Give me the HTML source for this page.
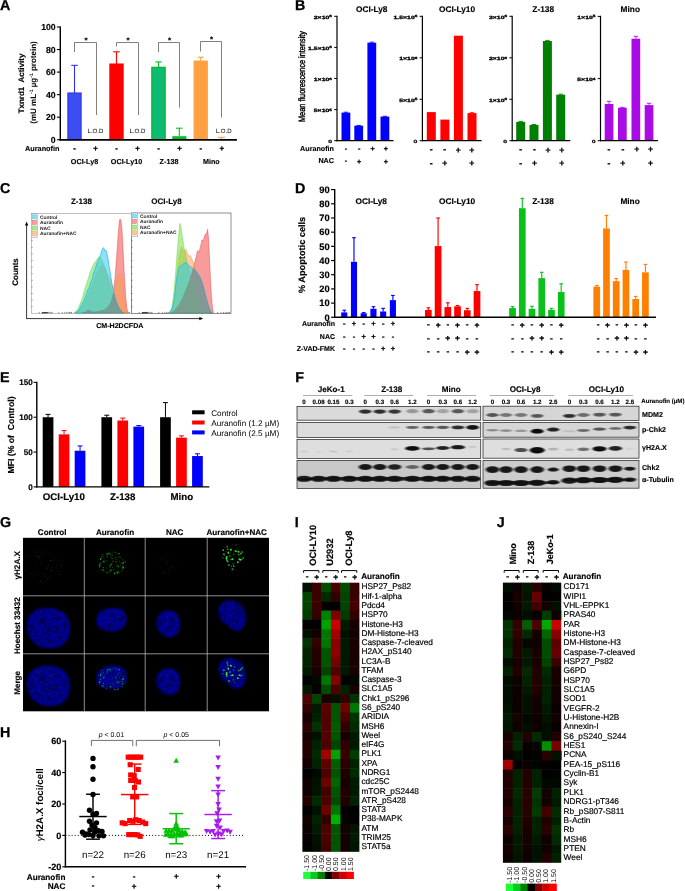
<!DOCTYPE html>
<html><head><meta charset="utf-8"><title>Figure</title>
<style>
html,body{margin:0;padding:0;background:#fff;}
body{width:685px;height:891px;overflow:hidden;}
svg{display:block;font-family:"Liberation Sans",sans-serif;text-rendering:geometricPrecision;}
</style></head><body>
<svg width="685" height="891" viewBox="0 0 685 891">
<defs>
<filter id="b1" x="-50%" y="-100%" width="200%" height="300%"><feGaussianBlur stdDeviation="1.1 0.7"/></filter>
<filter id="b2" x="-50%" y="-100%" width="200%" height="300%"><feGaussianBlur stdDeviation="0.8"/></filter>
<filter id="b3" x="-20%" y="-20%" width="140%" height="140%"><feGaussianBlur stdDeviation="1.6"/></filter>
<filter id="b4" x="-50%" y="-50%" width="200%" height="200%"><feGaussianBlur stdDeviation="0.35"/></filter>
<filter id="b5" x="-20%" y="-20%" width="140%" height="140%"><feGaussianBlur stdDeviation="1.2"/></filter>
<filter id="b6" x="-20%" y="-20%" width="140%" height="140%"><feGaussianBlur stdDeviation="0.6"/></filter>
</defs>
<rect width="685" height="891" fill="#fff"/>
<g id="panelA">
<text x="0" y="9.72" font-size="14.3" font-weight="bold" stroke="#000" stroke-width="0.26">A</text>
<line x1="60.3" y1="26.4" x2="60.3" y2="140.45" stroke="#000" stroke-width="1.4"/>
<line x1="59.6" y1="139.75" x2="236.8" y2="139.75" stroke="#000" stroke-width="1.4"/>
<line x1="56.9" y1="139.75" x2="60.3" y2="139.75" stroke="#000" stroke-width="1.1"/>
<text x="55.7" y="142.86" font-size="8.7" text-anchor="end" font-weight="bold" stroke="#000" stroke-width="0.16">0</text>
<line x1="56.9" y1="117.2" x2="60.3" y2="117.2" stroke="#000" stroke-width="1.1"/>
<text x="55.7" y="120.31" font-size="8.7" text-anchor="end" font-weight="bold" stroke="#000" stroke-width="0.16">20</text>
<line x1="56.9" y1="94.65" x2="60.3" y2="94.65" stroke="#000" stroke-width="1.1"/>
<text x="55.7" y="97.76" font-size="8.7" text-anchor="end" font-weight="bold" stroke="#000" stroke-width="0.16">40</text>
<line x1="56.9" y1="72.1" x2="60.3" y2="72.1" stroke="#000" stroke-width="1.1"/>
<text x="55.7" y="75.21" font-size="8.7" text-anchor="end" font-weight="bold" stroke="#000" stroke-width="0.16">60</text>
<line x1="56.9" y1="49.55" x2="60.3" y2="49.55" stroke="#000" stroke-width="1.1"/>
<text x="55.7" y="52.66" font-size="8.7" text-anchor="end" font-weight="bold" stroke="#000" stroke-width="0.16">80</text>
<line x1="56.9" y1="27" x2="60.3" y2="27" stroke="#000" stroke-width="1.1"/>
<text x="55.7" y="30.11" font-size="8.7" text-anchor="end" font-weight="bold" stroke="#000" stroke-width="0.16">100</text>
<text transform="translate(21.2 83.5) rotate(-90)" y="2.86" font-size="8" text-anchor="middle" font-weight="bold" stroke="#000" stroke-width="0.14">Txnrd1&#160; Activity</text>
<text transform="translate(33.2 82.5) rotate(-90)" y="2.8" font-size="8.0" font-weight="bold" text-anchor="middle">(mU mL<tspan dy="-3" font-size="5">-1</tspan><tspan dy="3"> &#181;g</tspan><tspan dy="-3" font-size="5">-1</tspan><tspan dy="3"> protein)</tspan></text>
<line x1="74.5" y1="65.34" x2="74.5" y2="92.96" stroke="#3030f0" stroke-width="1.1"/>
<line x1="71.25" y1="65.34" x2="77.75" y2="65.34" stroke="#3030f0" stroke-width="1.1"/>
<rect x="67.85" y="92.96" width="13.3" height="46.79" fill="#3b4cf0" stroke="#3030f0" stroke-width="1"/>
<line x1="116.5" y1="51.81" x2="116.5" y2="63.98" stroke="#ff0000" stroke-width="1.1"/>
<line x1="113.25" y1="51.81" x2="119.75" y2="51.81" stroke="#ff0000" stroke-width="1.1"/>
<rect x="109.85" y="63.98" width="13.3" height="75.77" fill="#ff0000" stroke="#ff0000" stroke-width="1"/>
<line x1="158.5" y1="61.95" x2="158.5" y2="67.36" stroke="#00c020" stroke-width="1.1"/>
<line x1="155.25" y1="61.95" x2="161.75" y2="61.95" stroke="#00c020" stroke-width="1.1"/>
<rect x="151.85" y="67.36" width="13.3" height="72.39" fill="#0cba74" stroke="#00c020" stroke-width="1.3"/>
<line x1="200.7" y1="57.22" x2="200.7" y2="61.05" stroke="#ffa040" stroke-width="1.1"/>
<line x1="197.45" y1="57.22" x2="203.95" y2="57.22" stroke="#ffa040" stroke-width="1.1"/>
<rect x="194.05" y="61.05" width="13.3" height="78.7" fill="#ffa040" stroke="#ffa040" stroke-width="1"/>
<line x1="179.3" y1="128.2" x2="179.3" y2="136" stroke="#00c020" stroke-width="1.1"/>
<line x1="176.05" y1="128.2" x2="182.55" y2="128.2" stroke="#00c020" stroke-width="1.1"/>
<rect x="172.3" y="136.2" width="14.1" height="3.5" fill="#00c020"/>
<line x1="218" y1="137.3" x2="225" y2="137.3" stroke="#ffa040" stroke-width="1.1"/>
<rect x="220.8" y="137.3" width="1.2" height="2" fill="#ffa040"/>
<line x1="59.6" y1="139.75" x2="236.8" y2="139.75" stroke="#000" stroke-width="1.4"/>
<path d="M74.5 52 V42.5 H96.5 V115" stroke="#606060" stroke-width="0.8" fill="none"/>
<text x="86" y="43.16" font-size="8" text-anchor="middle" font-weight="bold" stroke="#000" stroke-width="0.14">*</text>
<path d="M116.5 46.5 V42.5 H138.5 V115" stroke="#606060" stroke-width="0.8" fill="none"/>
<text x="128" y="43.16" font-size="8" text-anchor="middle" font-weight="bold" stroke="#000" stroke-width="0.14">*</text>
<path d="M158.5 52 V42.5 H179.5 V107.6" stroke="#606060" stroke-width="0.8" fill="none"/>
<text x="169.5" y="43.16" font-size="8" text-anchor="middle" font-weight="bold" stroke="#000" stroke-width="0.14">*</text>
<path d="M200.5 51.5 V41.5 H221.5 V117.6" stroke="#606060" stroke-width="0.8" fill="none"/>
<text x="211.5" y="42.16" font-size="8" text-anchor="middle" font-weight="bold" stroke="#000" stroke-width="0.14">*</text>
<text x="95.5" y="132.88" font-size="6.1" text-anchor="middle">L.O.D</text>
<text x="137.5" y="132.88" font-size="6.1" text-anchor="middle">L.O.D</text>
<text x="223.6" y="132.88" font-size="6.1" text-anchor="middle">L.O.D</text>
<text x="59.5" y="151.11" font-size="7.3" text-anchor="end" font-weight="bold" stroke="#000" stroke-width="0.13">Auranofin</text>
<text x="74.5" y="150.74" font-size="7.8" text-anchor="middle" font-weight="bold" stroke="#000" stroke-width="0.3">-</text>
<text x="95.5" y="151.09" font-size="7.8" text-anchor="middle" font-weight="bold" stroke="#000" stroke-width="0.3">+</text>
<text x="116.5" y="150.74" font-size="7.8" text-anchor="middle" font-weight="bold" stroke="#000" stroke-width="0.3">-</text>
<text x="137.5" y="151.09" font-size="7.8" text-anchor="middle" font-weight="bold" stroke="#000" stroke-width="0.3">+</text>
<text x="158.5" y="150.74" font-size="7.8" text-anchor="middle" font-weight="bold" stroke="#000" stroke-width="0.3">-</text>
<text x="179.5" y="151.09" font-size="7.8" text-anchor="middle" font-weight="bold" stroke="#000" stroke-width="0.3">+</text>
<text x="200.7" y="150.74" font-size="7.8" text-anchor="middle" font-weight="bold" stroke="#000" stroke-width="0.3">-</text>
<text x="221.7" y="151.09" font-size="7.8" text-anchor="middle" font-weight="bold" stroke="#000" stroke-width="0.3">+</text>
<text x="84.5" y="163.58" font-size="7.2" text-anchor="middle" font-weight="bold" stroke="#000" stroke-width="0.13">OCI-Ly8</text>
<text x="126.5" y="163.58" font-size="7.2" text-anchor="middle" font-weight="bold" stroke="#000" stroke-width="0.13">OCI-Ly10</text>
<text x="169" y="163.58" font-size="7.2" text-anchor="middle" font-weight="bold" stroke="#000" stroke-width="0.13">Z-138</text>
<text x="211.3" y="163.58" font-size="7.2" text-anchor="middle" font-weight="bold" stroke="#000" stroke-width="0.13">Mino</text>
</g>
<g id="panelB">
<text x="295.1" y="9.72" font-size="14.3" font-weight="bold" stroke="#000" stroke-width="0.26">B</text>
<text transform="translate(302.2 76.5) rotate(-90)" y="2.7" font-size="9.2" text-anchor="middle" textLength="91" lengthAdjust="spacingAndGlyphs" stroke="#000" stroke-width="0.4">Mean fluorescence intensity</text>
<line x1="345.9" y1="112.2" x2="345.9" y2="112.6" stroke="#0000ff" stroke-width="0.9"/>
<line x1="343.7" y1="112.2" x2="348.1" y2="112.2" stroke="#0000ff" stroke-width="0.9"/>
<rect x="341.5" y="112.6" width="8.8" height="28.1" fill="#0000ff"/>
<line x1="358.7" y1="125.4" x2="358.7" y2="125.7" stroke="#0000ff" stroke-width="0.9"/>
<line x1="356.5" y1="125.4" x2="360.9" y2="125.4" stroke="#0000ff" stroke-width="0.9"/>
<rect x="354.3" y="125.7" width="8.8" height="15" fill="#0000ff"/>
<line x1="371.8" y1="42.2" x2="371.8" y2="42.7" stroke="#0000ff" stroke-width="0.9"/>
<line x1="369.6" y1="42.2" x2="374" y2="42.2" stroke="#0000ff" stroke-width="0.9"/>
<rect x="367.4" y="42.7" width="8.8" height="98" fill="#0000ff"/>
<line x1="384.9" y1="116.3" x2="384.9" y2="116.6" stroke="#0000ff" stroke-width="0.9"/>
<line x1="382.7" y1="116.3" x2="387.1" y2="116.3" stroke="#0000ff" stroke-width="0.9"/>
<rect x="380.5" y="116.6" width="8.8" height="24.1" fill="#0000ff"/>
<line x1="337" y1="15.8" x2="337" y2="141.3" stroke="#000" stroke-width="1.2"/>
<line x1="336.4" y1="140.7" x2="393.5" y2="140.7" stroke="#000" stroke-width="1.2"/>
<line x1="334.2" y1="16.3" x2="337" y2="16.3" stroke="#000" stroke-width="1"/>
<text transform="translate(332 18.65) scale(1.5 1)" font-size="4.6" font-weight="bold" text-anchor="end" stroke="#000" stroke-width="0.3">2&#215;10<tspan dy="-1.3" font-size="3.2">6</tspan></text>
<line x1="334.2" y1="47.4" x2="337" y2="47.4" stroke="#000" stroke-width="1"/>
<text transform="translate(332 49.75) scale(1.5 1)" font-size="4.6" font-weight="bold" text-anchor="end" stroke="#000" stroke-width="0.3">1.5&#215;10<tspan dy="-1.3" font-size="3.2">6</tspan></text>
<line x1="334.2" y1="78.5" x2="337" y2="78.5" stroke="#000" stroke-width="1"/>
<text transform="translate(332 80.85) scale(1.5 1)" font-size="4.6" font-weight="bold" text-anchor="end" stroke="#000" stroke-width="0.3">1&#215;10<tspan dy="-1.3" font-size="3.2">6</tspan></text>
<line x1="334.2" y1="109.6" x2="337" y2="109.6" stroke="#000" stroke-width="1"/>
<text transform="translate(332 111.95) scale(1.5 1)" font-size="4.6" font-weight="bold" text-anchor="end" stroke="#000" stroke-width="0.3">5&#215;10<tspan dy="-1.3" font-size="3.2">5</tspan></text>
<line x1="334.2" y1="140.7" x2="337" y2="140.7" stroke="#000" stroke-width="1"/>
<text transform="translate(332 143) scale(1.5 1)" font-size="4.6" font-weight="bold" text-anchor="end" stroke="#000" stroke-width="0.2">0</text>
<text x="371.7" y="11.97" font-size="8.3" text-anchor="middle" font-weight="bold" stroke="#000" stroke-width="0.15">OCI-Ly8</text>
<text x="345.9" y="150.73" font-size="7.2" text-anchor="middle" font-weight="bold" stroke="#000" stroke-width="0.3">-</text>
<text x="359.2" y="150.73" font-size="7.2" text-anchor="middle" font-weight="bold" stroke="#000" stroke-width="0.3">-</text>
<text x="372.5" y="151.18" font-size="7.2" text-anchor="middle" font-weight="bold" stroke="#000" stroke-width="0.3">+</text>
<text x="385.8" y="151.18" font-size="7.2" text-anchor="middle" font-weight="bold" stroke="#000" stroke-width="0.3">+</text>
<text x="345.9" y="163.13" font-size="7.2" text-anchor="middle" font-weight="bold" stroke="#000" stroke-width="0.3">-</text>
<text x="359.2" y="163.58" font-size="7.2" text-anchor="middle" font-weight="bold" stroke="#000" stroke-width="0.3">+</text>
<text x="385.8" y="163.58" font-size="7.2" text-anchor="middle" font-weight="bold" stroke="#000" stroke-width="0.3">+</text>
<rect x="426.8" y="112.1" width="9" height="28.6" fill="#ff0000"/>
<rect x="440.4" y="119.6" width="9" height="21.1" fill="#ff0000"/>
<rect x="453.9" y="35.7" width="9" height="105" fill="#ff0000"/>
<line x1="472" y1="112.7" x2="472" y2="113.1" stroke="#ff0000" stroke-width="0.9"/>
<line x1="469.8" y1="112.7" x2="474.2" y2="112.7" stroke="#ff0000" stroke-width="0.9"/>
<rect x="467.5" y="113.1" width="9" height="27.6" fill="#ff0000"/>
<line x1="422.4" y1="15.8" x2="422.4" y2="141.3" stroke="#000" stroke-width="1.2"/>
<line x1="421.8" y1="140.7" x2="481.6" y2="140.7" stroke="#000" stroke-width="1.2"/>
<line x1="419.6" y1="16.3" x2="422.4" y2="16.3" stroke="#000" stroke-width="1"/>
<text transform="translate(417.4 18.65) scale(1.5 1)" font-size="4.6" font-weight="bold" text-anchor="end" stroke="#000" stroke-width="0.3">1.5&#215;10<tspan dy="-1.3" font-size="3.2">6</tspan></text>
<line x1="419.6" y1="57.8" x2="422.4" y2="57.8" stroke="#000" stroke-width="1"/>
<text transform="translate(417.4 60.15) scale(1.5 1)" font-size="4.6" font-weight="bold" text-anchor="end" stroke="#000" stroke-width="0.3">1&#215;10<tspan dy="-1.3" font-size="3.2">6</tspan></text>
<line x1="419.6" y1="99.3" x2="422.4" y2="99.3" stroke="#000" stroke-width="1"/>
<text transform="translate(417.4 101.65) scale(1.5 1)" font-size="4.6" font-weight="bold" text-anchor="end" stroke="#000" stroke-width="0.3">5&#215;10<tspan dy="-1.3" font-size="3.2">5</tspan></text>
<line x1="419.6" y1="140.7" x2="422.4" y2="140.7" stroke="#000" stroke-width="1"/>
<text transform="translate(417.4 143) scale(1.5 1)" font-size="4.6" font-weight="bold" text-anchor="end" stroke="#000" stroke-width="0.2">0</text>
<text x="457" y="11.97" font-size="8.3" text-anchor="middle" font-weight="bold" stroke="#000" stroke-width="0.15">OCI-Ly10</text>
<text x="431.3" y="152.23" font-size="8.6" text-anchor="middle" font-weight="bold" stroke="#000" stroke-width="0.3">-</text>
<text x="444.8" y="152.23" font-size="8.6" text-anchor="middle" font-weight="bold" stroke="#000" stroke-width="0.3">-</text>
<text x="458.3" y="152.68" font-size="8.6" text-anchor="middle" font-weight="bold" stroke="#000" stroke-width="0.3">+</text>
<text x="471.8" y="152.68" font-size="8.6" text-anchor="middle" font-weight="bold" stroke="#000" stroke-width="0.3">+</text>
<text x="431.3" y="165.63" font-size="8.6" text-anchor="middle" font-weight="bold" stroke="#000" stroke-width="0.3">-</text>
<text x="444.8" y="166.08" font-size="8.6" text-anchor="middle" font-weight="bold" stroke="#000" stroke-width="0.3">+</text>
<text x="471.8" y="166.08" font-size="8.6" text-anchor="middle" font-weight="bold" stroke="#000" stroke-width="0.3">+</text>
<line x1="520.7" y1="121.4" x2="520.7" y2="121.9" stroke="#008000" stroke-width="0.9"/>
<line x1="518.5" y1="121.4" x2="522.9" y2="121.4" stroke="#008000" stroke-width="0.9"/>
<rect x="516.2" y="121.9" width="9" height="18.8" fill="#008000"/>
<line x1="534" y1="124.5" x2="534" y2="124.9" stroke="#008000" stroke-width="0.9"/>
<line x1="531.8" y1="124.5" x2="536.2" y2="124.5" stroke="#008000" stroke-width="0.9"/>
<rect x="529.5" y="124.9" width="9" height="15.8" fill="#008000"/>
<line x1="547.4" y1="40.4" x2="547.4" y2="41" stroke="#008000" stroke-width="0.9"/>
<line x1="545.2" y1="40.4" x2="549.6" y2="40.4" stroke="#008000" stroke-width="0.9"/>
<rect x="542.9" y="41" width="9" height="99.7" fill="#008000"/>
<line x1="560.7" y1="94.2" x2="560.7" y2="94.7" stroke="#008000" stroke-width="0.9"/>
<line x1="558.5" y1="94.2" x2="562.9" y2="94.2" stroke="#008000" stroke-width="0.9"/>
<rect x="556.2" y="94.7" width="9" height="46" fill="#008000"/>
<line x1="512.2" y1="15.8" x2="512.2" y2="141.3" stroke="#000" stroke-width="1.2"/>
<line x1="511.6" y1="140.7" x2="570.3" y2="140.7" stroke="#000" stroke-width="1.2"/>
<line x1="509.4" y1="16.3" x2="512.2" y2="16.3" stroke="#000" stroke-width="1"/>
<text transform="translate(507.2 18.65) scale(1.5 1)" font-size="4.6" font-weight="bold" text-anchor="end" stroke="#000" stroke-width="0.3">3&#215;10<tspan dy="-1.3" font-size="3.2">6</tspan></text>
<line x1="509.4" y1="57.8" x2="512.2" y2="57.8" stroke="#000" stroke-width="1"/>
<text transform="translate(507.2 60.15) scale(1.5 1)" font-size="4.6" font-weight="bold" text-anchor="end" stroke="#000" stroke-width="0.3">2&#215;10<tspan dy="-1.3" font-size="3.2">6</tspan></text>
<line x1="509.4" y1="99.3" x2="512.2" y2="99.3" stroke="#000" stroke-width="1"/>
<text transform="translate(507.2 101.65) scale(1.5 1)" font-size="4.6" font-weight="bold" text-anchor="end" stroke="#000" stroke-width="0.3">1&#215;10<tspan dy="-1.3" font-size="3.2">6</tspan></text>
<line x1="509.4" y1="140.7" x2="512.2" y2="140.7" stroke="#000" stroke-width="1"/>
<text transform="translate(507.2 143) scale(1.5 1)" font-size="4.6" font-weight="bold" text-anchor="end" stroke="#000" stroke-width="0.2">0</text>
<text x="543.2" y="11.97" font-size="8.3" text-anchor="middle" font-weight="bold" stroke="#000" stroke-width="0.15">Z-138</text>
<text x="520.7" y="152.23" font-size="8.6" text-anchor="middle" font-weight="bold" stroke="#000" stroke-width="0.3">-</text>
<text x="534.4" y="152.23" font-size="8.6" text-anchor="middle" font-weight="bold" stroke="#000" stroke-width="0.3">-</text>
<text x="548.1" y="152.68" font-size="8.6" text-anchor="middle" font-weight="bold" stroke="#000" stroke-width="0.3">+</text>
<text x="561.8" y="152.68" font-size="8.6" text-anchor="middle" font-weight="bold" stroke="#000" stroke-width="0.3">+</text>
<text x="520.7" y="165.63" font-size="8.6" text-anchor="middle" font-weight="bold" stroke="#000" stroke-width="0.3">-</text>
<text x="534.4" y="166.08" font-size="8.6" text-anchor="middle" font-weight="bold" stroke="#000" stroke-width="0.3">+</text>
<text x="561.8" y="166.08" font-size="8.6" text-anchor="middle" font-weight="bold" stroke="#000" stroke-width="0.3">+</text>
<line x1="609.05" y1="101.3" x2="609.05" y2="104" stroke="#a80be3" stroke-width="0.9"/>
<line x1="606.85" y1="101.3" x2="611.25" y2="101.3" stroke="#a80be3" stroke-width="0.9"/>
<rect x="604.7" y="104" width="8.7" height="36.7" fill="#a80be3"/>
<line x1="622.35" y1="107.3" x2="622.35" y2="107.7" stroke="#a80be3" stroke-width="0.9"/>
<line x1="620.15" y1="107.3" x2="624.55" y2="107.3" stroke="#a80be3" stroke-width="0.9"/>
<rect x="618" y="107.7" width="8.7" height="33" fill="#a80be3"/>
<line x1="635.85" y1="36.3" x2="635.85" y2="38.7" stroke="#a80be3" stroke-width="0.9"/>
<line x1="633.65" y1="36.3" x2="638.05" y2="36.3" stroke="#a80be3" stroke-width="0.9"/>
<rect x="631.5" y="38.7" width="8.7" height="102" fill="#a80be3"/>
<line x1="649.05" y1="103.3" x2="649.05" y2="105.1" stroke="#a80be3" stroke-width="0.9"/>
<line x1="646.85" y1="103.3" x2="651.25" y2="103.3" stroke="#a80be3" stroke-width="0.9"/>
<rect x="644.7" y="105.1" width="8.7" height="35.6" fill="#a80be3"/>
<line x1="600.5" y1="15.8" x2="600.5" y2="141.3" stroke="#000" stroke-width="1.2"/>
<line x1="599.9" y1="140.7" x2="658" y2="140.7" stroke="#000" stroke-width="1.2"/>
<line x1="597.7" y1="16.4" x2="600.5" y2="16.4" stroke="#000" stroke-width="1"/>
<text transform="translate(595.5 18.75) scale(1.5 1)" font-size="4.6" font-weight="bold" text-anchor="end" stroke="#000" stroke-width="0.3">1&#215;10<tspan dy="-1.3" font-size="3.2">5</tspan></text>
<line x1="597.7" y1="78.6" x2="600.5" y2="78.6" stroke="#000" stroke-width="1"/>
<text transform="translate(595.5 80.95) scale(1.5 1)" font-size="4.6" font-weight="bold" text-anchor="end" stroke="#000" stroke-width="0.3">5&#215;10<tspan dy="-1.3" font-size="3.2">4</tspan></text>
<line x1="597.7" y1="140.7" x2="600.5" y2="140.7" stroke="#000" stroke-width="1"/>
<text transform="translate(595.5 143) scale(1.5 1)" font-size="4.6" font-weight="bold" text-anchor="end" stroke="#000" stroke-width="0.2">0</text>
<text x="630.3" y="11.97" font-size="8.3" text-anchor="middle" font-weight="bold" stroke="#000" stroke-width="0.15">Mino</text>
<text x="609.05" y="152.03" font-size="8.6" text-anchor="middle" font-weight="bold" stroke="#000" stroke-width="0.3">-</text>
<text x="622.85" y="152.03" font-size="8.6" text-anchor="middle" font-weight="bold" stroke="#000" stroke-width="0.3">-</text>
<text x="636.65" y="152.48" font-size="8.6" text-anchor="middle" font-weight="bold" stroke="#000" stroke-width="0.3">+</text>
<text x="650.45" y="152.48" font-size="8.6" text-anchor="middle" font-weight="bold" stroke="#000" stroke-width="0.3">+</text>
<text x="609.05" y="165.63" font-size="8.6" text-anchor="middle" font-weight="bold" stroke="#000" stroke-width="0.3">-</text>
<text x="622.85" y="166.08" font-size="8.6" text-anchor="middle" font-weight="bold" stroke="#000" stroke-width="0.3">+</text>
<text x="650.45" y="166.08" font-size="8.6" text-anchor="middle" font-weight="bold" stroke="#000" stroke-width="0.3">+</text>
<text x="334" y="151.08" font-size="7.2" text-anchor="end" font-weight="bold" stroke="#000" stroke-width="0.13">Auranofin</text>
<text x="334" y="163.48" font-size="7.2" text-anchor="end" font-weight="bold" stroke="#000" stroke-width="0.13">NAC</text>
</g>
<g id="panelC">
<text x="0" y="192.52" font-size="14.3" font-weight="bold" stroke="#000" stroke-width="0.26">C</text>
<text x="81.4" y="203.66" font-size="8" text-anchor="middle" font-weight="bold" stroke="#000" stroke-width="0.14">Z-138</text>
<text x="166.5" y="203.66" font-size="8" text-anchor="middle" font-weight="bold" stroke="#000" stroke-width="0.14">OCI-Ly8</text>
<text transform="translate(15.3 272) rotate(-90)" y="2.86" font-size="8" text-anchor="middle" font-weight="bold" stroke="#000" stroke-width="0.14">Counts</text>
<text x="119.8" y="328.24" font-size="7.1" text-anchor="middle" font-weight="bold" stroke="#000" stroke-width="0.13">CM-H2DCFDA</text>
<rect x="31.3" y="213.7" width="100" height="99.6" fill="#fff" stroke="#999" stroke-width="0.6"/>
<rect x="131.3" y="213" width="99.7" height="100.3" fill="#fff" stroke="#444" stroke-width="0.6"/>
<line x1="39.2" y1="313.3" x2="39.2" y2="311.9" stroke="#222" stroke-width="0.5"/>
<line x1="42.65" y1="313.3" x2="42.65" y2="311.9" stroke="#222" stroke-width="0.5"/>
<line x1="45.1" y1="313.3" x2="45.1" y2="311.9" stroke="#222" stroke-width="0.5"/>
<line x1="47" y1="313.3" x2="47" y2="311.9" stroke="#222" stroke-width="0.5"/>
<line x1="48.55" y1="313.3" x2="48.55" y2="311.9" stroke="#222" stroke-width="0.5"/>
<line x1="49.86" y1="313.3" x2="49.86" y2="311.9" stroke="#222" stroke-width="0.5"/>
<line x1="51" y1="313.3" x2="51" y2="311.9" stroke="#222" stroke-width="0.5"/>
<line x1="52" y1="313.3" x2="52" y2="311.9" stroke="#222" stroke-width="0.5"/>
<line x1="58.8" y1="313.3" x2="58.8" y2="311.9" stroke="#222" stroke-width="0.5"/>
<line x1="62.25" y1="313.3" x2="62.25" y2="311.9" stroke="#222" stroke-width="0.5"/>
<line x1="64.7" y1="313.3" x2="64.7" y2="311.9" stroke="#222" stroke-width="0.5"/>
<line x1="66.6" y1="313.3" x2="66.6" y2="311.9" stroke="#222" stroke-width="0.5"/>
<line x1="68.15" y1="313.3" x2="68.15" y2="311.9" stroke="#222" stroke-width="0.5"/>
<line x1="69.46" y1="313.3" x2="69.46" y2="311.9" stroke="#222" stroke-width="0.5"/>
<line x1="70.6" y1="313.3" x2="70.6" y2="311.9" stroke="#222" stroke-width="0.5"/>
<line x1="71.6" y1="313.3" x2="71.6" y2="311.9" stroke="#222" stroke-width="0.5"/>
<line x1="78.4" y1="313.3" x2="78.4" y2="311.9" stroke="#222" stroke-width="0.5"/>
<line x1="81.85" y1="313.3" x2="81.85" y2="311.9" stroke="#222" stroke-width="0.5"/>
<line x1="84.3" y1="313.3" x2="84.3" y2="311.9" stroke="#222" stroke-width="0.5"/>
<line x1="86.2" y1="313.3" x2="86.2" y2="311.9" stroke="#222" stroke-width="0.5"/>
<line x1="87.75" y1="313.3" x2="87.75" y2="311.9" stroke="#222" stroke-width="0.5"/>
<line x1="89.06" y1="313.3" x2="89.06" y2="311.9" stroke="#222" stroke-width="0.5"/>
<line x1="90.2" y1="313.3" x2="90.2" y2="311.9" stroke="#222" stroke-width="0.5"/>
<line x1="91.2" y1="313.3" x2="91.2" y2="311.9" stroke="#222" stroke-width="0.5"/>
<line x1="98" y1="313.3" x2="98" y2="311.9" stroke="#222" stroke-width="0.5"/>
<line x1="101.45" y1="313.3" x2="101.45" y2="311.9" stroke="#222" stroke-width="0.5"/>
<line x1="103.9" y1="313.3" x2="103.9" y2="311.9" stroke="#222" stroke-width="0.5"/>
<line x1="105.8" y1="313.3" x2="105.8" y2="311.9" stroke="#222" stroke-width="0.5"/>
<line x1="107.35" y1="313.3" x2="107.35" y2="311.9" stroke="#222" stroke-width="0.5"/>
<line x1="108.66" y1="313.3" x2="108.66" y2="311.9" stroke="#222" stroke-width="0.5"/>
<line x1="109.8" y1="313.3" x2="109.8" y2="311.9" stroke="#222" stroke-width="0.5"/>
<line x1="110.8" y1="313.3" x2="110.8" y2="311.9" stroke="#222" stroke-width="0.5"/>
<line x1="117.6" y1="313.3" x2="117.6" y2="311.9" stroke="#222" stroke-width="0.5"/>
<line x1="121.05" y1="313.3" x2="121.05" y2="311.9" stroke="#222" stroke-width="0.5"/>
<line x1="123.5" y1="313.3" x2="123.5" y2="311.9" stroke="#222" stroke-width="0.5"/>
<line x1="125.4" y1="313.3" x2="125.4" y2="311.9" stroke="#222" stroke-width="0.5"/>
<line x1="126.95" y1="313.3" x2="126.95" y2="311.9" stroke="#222" stroke-width="0.5"/>
<line x1="128.26" y1="313.3" x2="128.26" y2="311.9" stroke="#222" stroke-width="0.5"/>
<line x1="129.4" y1="313.3" x2="129.4" y2="311.9" stroke="#222" stroke-width="0.5"/>
<line x1="31.3" y1="306.7" x2="32.7" y2="306.7" stroke="#444" stroke-width="0.5"/>
<line x1="31.3" y1="300.1" x2="32.7" y2="300.1" stroke="#444" stroke-width="0.5"/>
<line x1="31.3" y1="293.5" x2="32.7" y2="293.5" stroke="#444" stroke-width="0.5"/>
<line x1="31.3" y1="286.9" x2="32.7" y2="286.9" stroke="#444" stroke-width="0.5"/>
<line x1="31.3" y1="280.3" x2="32.7" y2="280.3" stroke="#444" stroke-width="0.5"/>
<line x1="31.3" y1="273.7" x2="32.7" y2="273.7" stroke="#444" stroke-width="0.5"/>
<line x1="31.3" y1="267.1" x2="32.7" y2="267.1" stroke="#444" stroke-width="0.5"/>
<line x1="31.3" y1="260.5" x2="32.7" y2="260.5" stroke="#444" stroke-width="0.5"/>
<line x1="31.3" y1="253.9" x2="32.7" y2="253.9" stroke="#444" stroke-width="0.5"/>
<line x1="31.3" y1="247.3" x2="32.7" y2="247.3" stroke="#444" stroke-width="0.5"/>
<line x1="31.3" y1="240.7" x2="32.7" y2="240.7" stroke="#444" stroke-width="0.5"/>
<line x1="31.3" y1="234.1" x2="32.7" y2="234.1" stroke="#444" stroke-width="0.5"/>
<line x1="31.3" y1="227.5" x2="32.7" y2="227.5" stroke="#444" stroke-width="0.5"/>
<line x1="31.3" y1="220.9" x2="32.7" y2="220.9" stroke="#444" stroke-width="0.5"/>
<line x1="139.2" y1="313.3" x2="139.2" y2="311.9" stroke="#222" stroke-width="0.5"/>
<line x1="142.65" y1="313.3" x2="142.65" y2="311.9" stroke="#222" stroke-width="0.5"/>
<line x1="145.1" y1="313.3" x2="145.1" y2="311.9" stroke="#222" stroke-width="0.5"/>
<line x1="147" y1="313.3" x2="147" y2="311.9" stroke="#222" stroke-width="0.5"/>
<line x1="148.55" y1="313.3" x2="148.55" y2="311.9" stroke="#222" stroke-width="0.5"/>
<line x1="149.86" y1="313.3" x2="149.86" y2="311.9" stroke="#222" stroke-width="0.5"/>
<line x1="151" y1="313.3" x2="151" y2="311.9" stroke="#222" stroke-width="0.5"/>
<line x1="152" y1="313.3" x2="152" y2="311.9" stroke="#222" stroke-width="0.5"/>
<line x1="158.8" y1="313.3" x2="158.8" y2="311.9" stroke="#222" stroke-width="0.5"/>
<line x1="162.25" y1="313.3" x2="162.25" y2="311.9" stroke="#222" stroke-width="0.5"/>
<line x1="164.7" y1="313.3" x2="164.7" y2="311.9" stroke="#222" stroke-width="0.5"/>
<line x1="166.6" y1="313.3" x2="166.6" y2="311.9" stroke="#222" stroke-width="0.5"/>
<line x1="168.15" y1="313.3" x2="168.15" y2="311.9" stroke="#222" stroke-width="0.5"/>
<line x1="169.46" y1="313.3" x2="169.46" y2="311.9" stroke="#222" stroke-width="0.5"/>
<line x1="170.6" y1="313.3" x2="170.6" y2="311.9" stroke="#222" stroke-width="0.5"/>
<line x1="171.6" y1="313.3" x2="171.6" y2="311.9" stroke="#222" stroke-width="0.5"/>
<line x1="178.4" y1="313.3" x2="178.4" y2="311.9" stroke="#222" stroke-width="0.5"/>
<line x1="181.85" y1="313.3" x2="181.85" y2="311.9" stroke="#222" stroke-width="0.5"/>
<line x1="184.3" y1="313.3" x2="184.3" y2="311.9" stroke="#222" stroke-width="0.5"/>
<line x1="186.2" y1="313.3" x2="186.2" y2="311.9" stroke="#222" stroke-width="0.5"/>
<line x1="187.75" y1="313.3" x2="187.75" y2="311.9" stroke="#222" stroke-width="0.5"/>
<line x1="189.06" y1="313.3" x2="189.06" y2="311.9" stroke="#222" stroke-width="0.5"/>
<line x1="190.2" y1="313.3" x2="190.2" y2="311.9" stroke="#222" stroke-width="0.5"/>
<line x1="191.2" y1="313.3" x2="191.2" y2="311.9" stroke="#222" stroke-width="0.5"/>
<line x1="198" y1="313.3" x2="198" y2="311.9" stroke="#222" stroke-width="0.5"/>
<line x1="201.45" y1="313.3" x2="201.45" y2="311.9" stroke="#222" stroke-width="0.5"/>
<line x1="203.9" y1="313.3" x2="203.9" y2="311.9" stroke="#222" stroke-width="0.5"/>
<line x1="205.8" y1="313.3" x2="205.8" y2="311.9" stroke="#222" stroke-width="0.5"/>
<line x1="207.35" y1="313.3" x2="207.35" y2="311.9" stroke="#222" stroke-width="0.5"/>
<line x1="208.66" y1="313.3" x2="208.66" y2="311.9" stroke="#222" stroke-width="0.5"/>
<line x1="209.8" y1="313.3" x2="209.8" y2="311.9" stroke="#222" stroke-width="0.5"/>
<line x1="210.8" y1="313.3" x2="210.8" y2="311.9" stroke="#222" stroke-width="0.5"/>
<line x1="217.6" y1="313.3" x2="217.6" y2="311.9" stroke="#222" stroke-width="0.5"/>
<line x1="221.05" y1="313.3" x2="221.05" y2="311.9" stroke="#222" stroke-width="0.5"/>
<line x1="223.5" y1="313.3" x2="223.5" y2="311.9" stroke="#222" stroke-width="0.5"/>
<line x1="225.4" y1="313.3" x2="225.4" y2="311.9" stroke="#222" stroke-width="0.5"/>
<line x1="226.95" y1="313.3" x2="226.95" y2="311.9" stroke="#222" stroke-width="0.5"/>
<line x1="228.26" y1="313.3" x2="228.26" y2="311.9" stroke="#222" stroke-width="0.5"/>
<line x1="229.4" y1="313.3" x2="229.4" y2="311.9" stroke="#222" stroke-width="0.5"/>
<line x1="131.3" y1="306.7" x2="132.7" y2="306.7" stroke="#444" stroke-width="0.5"/>
<line x1="131.3" y1="300.1" x2="132.7" y2="300.1" stroke="#444" stroke-width="0.5"/>
<line x1="131.3" y1="293.5" x2="132.7" y2="293.5" stroke="#444" stroke-width="0.5"/>
<line x1="131.3" y1="286.9" x2="132.7" y2="286.9" stroke="#444" stroke-width="0.5"/>
<line x1="131.3" y1="280.3" x2="132.7" y2="280.3" stroke="#444" stroke-width="0.5"/>
<line x1="131.3" y1="273.7" x2="132.7" y2="273.7" stroke="#444" stroke-width="0.5"/>
<line x1="131.3" y1="267.1" x2="132.7" y2="267.1" stroke="#444" stroke-width="0.5"/>
<line x1="131.3" y1="260.5" x2="132.7" y2="260.5" stroke="#444" stroke-width="0.5"/>
<line x1="131.3" y1="253.9" x2="132.7" y2="253.9" stroke="#444" stroke-width="0.5"/>
<line x1="131.3" y1="247.3" x2="132.7" y2="247.3" stroke="#444" stroke-width="0.5"/>
<line x1="131.3" y1="240.7" x2="132.7" y2="240.7" stroke="#444" stroke-width="0.5"/>
<line x1="131.3" y1="234.1" x2="132.7" y2="234.1" stroke="#444" stroke-width="0.5"/>
<line x1="131.3" y1="227.5" x2="132.7" y2="227.5" stroke="#444" stroke-width="0.5"/>
<line x1="131.3" y1="220.9" x2="132.7" y2="220.9" stroke="#444" stroke-width="0.5"/>
<rect x="41.8" y="312.2" width="6" height="1.1" fill="#222"/>
<rect x="141.8" y="312.2" width="6" height="1.1" fill="#222"/>
<path d="M82 313 L82 313 L83.33 312.49 L84.67 311.98 L86 311.49 L88 309.96 L90 310.46 L91.5 311.24 L93 312.02 L94.25 311.89 L95.5 311.76 L96.75 311.61 L98 311.5 L99.2 311.18 L100.4 310.87 L101.6 310.56 L102.8 310.27 L104 310.05 L105.33 309.05 L106.67 308.06 L108 307.07 L109.5 304.4 L111 301.92 L112.25 297.58 L113.5 293.19 L115 278.35 L116.5 258.38 L118 237.59 L119.2 222.11 L120 218.97 L121 220.51 L122 229.68 L123.2 251.97 L124.5 277.59 L125.8 298.26 L127 309.06 L128 313 L128 313 Z" fill="#f04848" fill-opacity="0.55" stroke="#e83c3c" stroke-width="0.45" stroke-linejoin="round"/>
<path d="M76 313 L76 313 L77.33 311.99 L78.67 311 L80 309.98 L81.25 308.03 L82.5 306.05 L83.75 303.78 L85 301.7 L86.33 299.26 L87.67 295.77 L89 292.7 L90.33 290.31 L91.67 286.29 L93 283.47 L94.33 279.63 L95.67 276.53 L97 272.51 L98.5 270.19 L100 267.52 L101.25 266.28 L102.5 265.84 L103.75 266.99 L105 267.39 L106.5 271.86 L108 275.13 L109.5 278.72 L111 282.34 L112.5 286.01 L114 287.96 L115.25 285.31 L116.5 282.53 L118.5 275.3 L120.6 273.59 L122 276.85 L123.5 290.39 L125 303.97 L126.5 311.05 L128 313 L128 313 Z" fill="#f5a050" fill-opacity="0.55" stroke="#f09040" stroke-width="0.45" stroke-linejoin="round"/>
<path d="M74 313 L74 313 L75.33 311.71 L76.67 310.42 L78 308.87 L79.33 305.45 L80.67 302.59 L82 299.24 L83.33 294.56 L84.67 289.34 L86 285.19 L87.33 281.19 L88.67 277.15 L90 272.39 L91.33 269.54 L92.67 266.14 L94 263.4 L96 260.89 L98 257.81 L100 256.68 L102 259.9 L104 265.58 L105.5 270.16 L107 275.15 L108.5 281.44 L110 286.67 L111.5 291.82 L113 297.45 L114.5 301.02 L116 305.03 L117.5 307.4 L119 309.9 L120.33 310.97 L121.67 311.97 L123 313 L123 313 Z" fill="#6ce050" fill-opacity="0.55" stroke="#58d040" stroke-width="0.45" stroke-linejoin="round"/>
<path d="M75 313 L75 313 L76.33 311.97 L77.67 311.05 L79 310.06 L80.25 307.4 L81.5 305 L82.75 302.46 L84 300.14 L85.33 297.01 L86.67 292.76 L88 289.22 L89.33 286.94 L90.67 282.55 L92 279.47 L93.33 273.77 L94.67 270.24 L96 266.4 L97.5 261.51 L99 258.8 L100.5 254.97 L102 249.66 L103.5 247.65 L105 251.07 L106 250.29 L107.5 255.79 L109 265.49 L111 277.86 L113 289.22 L114.5 295.15 L116 300.95 L117.5 304.5 L119 307.9 L120.75 310.2 L122.5 312.49 L124 313 L124 313 Z" fill="#35c8f0" fill-opacity="0.55" stroke="#20b8e8" stroke-width="0.7" stroke-linejoin="round"/>
<path d="M171 313 L171 313 L172.33 311.98 L173.67 311.06 L175 309.93 L176.33 308.39 L177.67 306.5 L179 304.87 L180.33 302.67 L181.67 299.42 L183 297.15 L184.5 293.45 L186 289.93 L187.5 285.99 L189 281.51 L190.5 278.03 L192 272.34 L194 265.57 L196 257.23 L197.5 250.63 L199 252.35 L200.5 246.64 L202 239.81 L203.5 240.38 L205 234.61 L206.5 233.79 L207.6 229.3 L208.5 238.19 L209.5 257.8 L210.5 280.26 L211.5 296.83 L212.5 308.06 L213.5 313 L213.5 313 Z" fill="#f04848" fill-opacity="0.55" stroke="#e83c3c" stroke-width="0.45" stroke-linejoin="round"/>
<path d="M170 313 L170 313 L171.25 310.98 L172.5 308.92 L174.5 298.13 L176.5 281.4 L178 266.05 L179.5 253.81 L181.3 246.78 L183 250.01 L184.5 251.35 L186 249.41 L187.5 253.4 L189 256.43 L190.5 255.39 L192 259.46 L193.5 262.47 L195 269.61 L197 279.18 L199 287.63 L201 295.08 L203 301.94 L204.5 305.21 L206 307.87 L207.5 310.06 L209 311.99 L211 313 L211 313 Z" fill="#f5a050" fill-opacity="0.55" stroke="#f09040" stroke-width="0.45" stroke-linejoin="round"/>
<path d="M169.5 313 L169.5 313 L170.75 310.05 L172 307.11 L174 291.98 L175.5 274.67 L177 254.3 L178.5 236.23 L179.9 223.46 L181 228.36 L182.5 237.82 L184 247.38 L185.5 254.68 L187 262.42 L189 270.32 L191 277.88 L193 285.05 L194.5 289.74 L196 293.67 L197.5 298.05 L199 302.19 L200.5 304.89 L202 308.08 L203.33 309.37 L204.67 310.71 L206 311.99 L207.5 312.49 L209 313 L209 313 Z" fill="#78e040" fill-opacity="0.55" stroke="#60d030" stroke-width="0.45" stroke-linejoin="round"/>
<path d="M169 313 L169 313 L170.5 311.02 L172 309.07 L173.25 303.21 L174.5 297.51 L176 282.43 L177.5 272.76 L179 267.15 L181 265.94 L183 264.3 L184.2 263.02 L185.4 262.72 L187 263.3 L189 265.94 L191 267.04 L193 268.58 L195 270.13 L197 272.12 L199 275.49 L201 279.1 L203 286.25 L205 293.38 L207 300.71 L209 308.11 L211 311.97 L212.5 313 L212.5 313 Z" fill="#35c8f0" fill-opacity="0.55" stroke="#20b8e8" stroke-width="0.7" stroke-linejoin="round"/>
<path d="M82 313 L82 313 L82.7 312.74 L83.4 312.48 L84.1 312.21 L84.8 311.95 L85.5 311.69 L86.2 311.35 L86.9 310.82 L87.6 310.3 L88.3 310.07 L89 310.25 L89.7 310.43 L90.4 310.7 L91.1 311.05 L91.8 311.4 L92.5 311.75 L93.2 311.98 L93.9 311.91 L94.6 311.84 L95.3 311.77 L96 311.7 L96.7 311.63 L97.4 311.56 L98.1 311.47 L98.8 311.3 L99.5 311.12 L100.2 310.95 L100.9 310.77 L101.6 310.6 L102.3 310.42 L103 310.25 L103.7 310.07 L104.4 309.7 L105.1 309.17 L105.8 308.65 L106.5 308.12 L107.2 307.6 L107.9 307.07 L108.6 306 L109.3 304.83 L110 303.67 L110.7 302.5 L111.4 300.56 L112.1 298.04 L112.8 295.52 L113.5 293 L114.2 294.4 L114.9 296.97 L115.6 299.53 L116.3 301.7 L117 303.33 L117.7 304.97 L118.4 306.6 L119.1 308.13 L119.8 309.03 L120.5 309.93 L121.2 310.83 L121.9 311.73 L122.6 312.53 L123.3 312.77 L123.3 313 Z" fill="#7c8480" fill-opacity="0.6" stroke="#707070" stroke-opacity="0.5" stroke-width="0.35"/>
<path d="M171 313 L171 313 L171.7 312.48 L172.4 311.95 L173.1 311.43 L173.8 310.9 L174.5 310.38 L175.2 309.75 L175.9 308.88 L176.6 308 L177.3 307.13 L178 306.25 L178.7 305.38 L179.4 304.2 L180.1 302.8 L180.8 301.4 L181.5 300 L182.2 298.6 L182.9 297.2 L183.6 295.6 L184.3 293.97 L185 292.33 L185.7 290.7 L186.4 288.93 L187.1 287.07 L187.8 285.2 L188.5 283.33 L189.2 281.4 L189.9 279.3 L190.6 277.2 L191.3 275.1 L192 273 L192.7 270.55 L193.4 268.8 L194.1 269.32 L194.8 269.85 L195.5 270.75 L196.2 271.8 L196.9 272.85 L197.6 273.9 L198.3 274.95 L199 276 L199.7 277.22 L200.4 278.45 L201.1 279.8 L201.8 281.9 L202.5 284 L203.2 286.25 L203.9 288.87 L204.6 291.5 L205.3 294.2 L206 297 L206.7 299.8 L207.4 302.4 L208.1 304.85 L208.8 307.3 L209.5 309 L210.2 310.4 L210.9 311.8 L211.6 312.4 L211.6 313 Z" fill="#80847c" fill-opacity="0.6" stroke="#707070" stroke-opacity="0.5" stroke-width="0.35"/>
<rect x="31.3" y="213.7" width="6.2" height="24" fill="#eee" stroke="#888" stroke-width="0.4"/>
<rect x="32.5" y="214.9" width="3.8" height="3.8" fill="#8fe0f8" stroke="#30b8e8" stroke-width="0.4"/>
<text x="40" y="218.55" font-size="4.9" font-weight="bold" fill="#222">Control</text>
<rect x="32.5" y="220.5" width="3.8" height="3.8" fill="#f8a0a0" stroke="#e84848" stroke-width="0.4"/>
<text x="40" y="224.15" font-size="4.9" font-weight="bold" fill="#222">Auranofin</text>
<rect x="32.5" y="226.1" width="3.8" height="3.8" fill="#a8f088" stroke="#58d040" stroke-width="0.4"/>
<text x="40" y="229.75" font-size="4.9" font-weight="bold" fill="#222">NAC</text>
<rect x="32.5" y="231.7" width="3.8" height="3.8" fill="#f8cc98" stroke="#f09040" stroke-width="0.4"/>
<text x="40" y="235.35" font-size="4.9" font-weight="bold" fill="#222">Auranofin+NAC</text>
<rect x="131.3" y="212.8" width="6.2" height="24" fill="#eee" stroke="#888" stroke-width="0.4"/>
<rect x="132.5" y="214" width="3.8" height="3.8" fill="#8fe0f8" stroke="#30b8e8" stroke-width="0.4"/>
<text x="140" y="217.65" font-size="4.9" font-weight="bold" fill="#222">Control</text>
<rect x="132.5" y="219.6" width="3.8" height="3.8" fill="#f8a0a0" stroke="#e84848" stroke-width="0.4"/>
<text x="140" y="223.25" font-size="4.9" font-weight="bold" fill="#222">Auranofin</text>
<rect x="132.5" y="225.2" width="3.8" height="3.8" fill="#a8f088" stroke="#58d040" stroke-width="0.4"/>
<text x="140" y="228.85" font-size="4.9" font-weight="bold" fill="#222">NAC</text>
<rect x="132.5" y="230.8" width="3.8" height="3.8" fill="#f8cc98" stroke="#f09040" stroke-width="0.4"/>
<text x="140" y="234.45" font-size="4.9" font-weight="bold" fill="#222">Auranofin+NAC</text>
<line x1="26.6" y1="318.6" x2="26.6" y2="224" stroke="#000" stroke-width="0.8"/>
<path d="M24.9 225.5 L26.6 221.5 L28.3 225.5 Z" stroke="none" stroke-width="0" fill="#000"/>
<line x1="26.2" y1="318.6" x2="200" y2="318.6" stroke="#000" stroke-width="0.8"/>
<path d="M199.3 316.9 L203.3 318.6 L199.3 320.3 Z" stroke="none" stroke-width="0" fill="#000"/>
</g>
<g id="panelD">
<text x="295.1" y="192.72" font-size="14.3" font-weight="bold" stroke="#000" stroke-width="0.26">D</text>
<text transform="translate(301.8 254.9) rotate(-90)" y="3.29" font-size="9.2" text-anchor="middle" font-weight="bold" stroke="#000" stroke-width="0.17">% Apoptotic cells</text>
<text x="371.2" y="203.97" font-size="8.3" text-anchor="middle" font-weight="bold" stroke="#000" stroke-width="0.15">OCI-Ly8</text>
<line x1="344.25" y1="310.2" x2="344.25" y2="312.4" stroke="#0000ff" stroke-width="1.15"/>
<line x1="342.45" y1="310.2" x2="346.05" y2="310.2" stroke="#0000ff" stroke-width="1.15"/>
<rect x="341.2" y="312.4" width="6.1" height="4.9" fill="#0000ff"/>
<text x="344.25" y="325.9" font-size="7.4" text-anchor="middle" font-weight="bold" stroke="#000" stroke-width="0.3">-</text>
<text x="344.25" y="338.5" font-size="7.4" text-anchor="middle" font-weight="bold" stroke="#000" stroke-width="0.3">-</text>
<text x="344.25" y="351" font-size="7.4" text-anchor="middle" font-weight="bold" stroke="#000" stroke-width="0.3">-</text>
<line x1="353.98" y1="237.69" x2="353.98" y2="261.82" stroke="#0000ff" stroke-width="1.15"/>
<line x1="352.18" y1="237.69" x2="355.78" y2="237.69" stroke="#0000ff" stroke-width="1.15"/>
<rect x="350.93" y="261.82" width="6.1" height="55.48" fill="#0000ff"/>
<text x="353.98" y="326.35" font-size="7.4" text-anchor="middle" font-weight="bold" stroke="#000" stroke-width="0.3">+</text>
<text x="353.98" y="338.5" font-size="7.4" text-anchor="middle" font-weight="bold" stroke="#000" stroke-width="0.3">-</text>
<text x="353.98" y="351" font-size="7.4" text-anchor="middle" font-weight="bold" stroke="#000" stroke-width="0.3">-</text>
<line x1="363.71" y1="312.62" x2="363.71" y2="313.26" stroke="#0000ff" stroke-width="1.15"/>
<line x1="361.91" y1="312.62" x2="365.51" y2="312.62" stroke="#0000ff" stroke-width="1.15"/>
<rect x="360.66" y="313.26" width="6.1" height="4.04" fill="#0000ff"/>
<text x="363.71" y="325.9" font-size="7.4" text-anchor="middle" font-weight="bold" stroke="#000" stroke-width="0.3">-</text>
<text x="363.71" y="338.95" font-size="7.4" text-anchor="middle" font-weight="bold" stroke="#000" stroke-width="0.3">+</text>
<text x="363.71" y="351" font-size="7.4" text-anchor="middle" font-weight="bold" stroke="#000" stroke-width="0.3">-</text>
<line x1="373.44" y1="306.66" x2="373.44" y2="308.79" stroke="#0000ff" stroke-width="1.15"/>
<line x1="371.64" y1="306.66" x2="375.24" y2="306.66" stroke="#0000ff" stroke-width="1.15"/>
<rect x="370.39" y="308.79" width="6.1" height="8.51" fill="#0000ff"/>
<text x="373.44" y="326.35" font-size="7.4" text-anchor="middle" font-weight="bold" stroke="#000" stroke-width="0.3">+</text>
<text x="373.44" y="338.95" font-size="7.4" text-anchor="middle" font-weight="bold" stroke="#000" stroke-width="0.3">+</text>
<text x="373.44" y="351" font-size="7.4" text-anchor="middle" font-weight="bold" stroke="#000" stroke-width="0.3">-</text>
<line x1="383.17" y1="308.36" x2="383.17" y2="311.48" stroke="#0000ff" stroke-width="1.15"/>
<line x1="381.37" y1="308.36" x2="384.97" y2="308.36" stroke="#0000ff" stroke-width="1.15"/>
<rect x="380.12" y="311.48" width="6.1" height="5.82" fill="#0000ff"/>
<text x="383.17" y="325.9" font-size="7.4" text-anchor="middle" font-weight="bold" stroke="#000" stroke-width="0.3">-</text>
<text x="383.17" y="338.5" font-size="7.4" text-anchor="middle" font-weight="bold" stroke="#000" stroke-width="0.3">-</text>
<text x="383.17" y="351.45" font-size="7.4" text-anchor="middle" font-weight="bold" stroke="#000" stroke-width="0.3">+</text>
<line x1="392.9" y1="295.45" x2="392.9" y2="300.13" stroke="#0000ff" stroke-width="1.15"/>
<line x1="391.1" y1="295.45" x2="394.7" y2="295.45" stroke="#0000ff" stroke-width="1.15"/>
<rect x="389.85" y="300.13" width="6.1" height="17.17" fill="#0000ff"/>
<text x="392.9" y="326.35" font-size="7.4" text-anchor="middle" font-weight="bold" stroke="#000" stroke-width="0.3">+</text>
<text x="392.9" y="338.5" font-size="7.4" text-anchor="middle" font-weight="bold" stroke="#000" stroke-width="0.3">-</text>
<text x="392.9" y="351.45" font-size="7.4" text-anchor="middle" font-weight="bold" stroke="#000" stroke-width="0.3">+</text>
<text x="457.1" y="203.97" font-size="8.3" text-anchor="middle" font-weight="bold" stroke="#000" stroke-width="0.15">OCI-Ly10</text>
<line x1="428.35" y1="307.79" x2="428.35" y2="309.92" stroke="#ff0000" stroke-width="1.15"/>
<line x1="426.55" y1="307.79" x2="430.15" y2="307.79" stroke="#ff0000" stroke-width="1.15"/>
<rect x="425" y="309.92" width="6.7" height="7.38" fill="#ff0000"/>
<text x="428.35" y="327.26" font-size="8.4" text-anchor="middle" font-weight="bold" stroke="#000" stroke-width="0.3">-</text>
<text x="428.35" y="340.56" font-size="8.4" text-anchor="middle" font-weight="bold" stroke="#000" stroke-width="0.3">-</text>
<text x="428.35" y="354.26" font-size="8.4" text-anchor="middle" font-weight="bold" stroke="#000" stroke-width="0.3">-</text>
<line x1="438.08" y1="217.97" x2="438.08" y2="246.07" stroke="#ff0000" stroke-width="1.15"/>
<line x1="436.28" y1="217.97" x2="439.88" y2="217.97" stroke="#ff0000" stroke-width="1.15"/>
<rect x="434.73" y="246.07" width="6.7" height="71.23" fill="#ff0000"/>
<text x="438.08" y="327.71" font-size="8.4" text-anchor="middle" font-weight="bold" stroke="#000" stroke-width="0.3">+</text>
<text x="438.08" y="340.56" font-size="8.4" text-anchor="middle" font-weight="bold" stroke="#000" stroke-width="0.3">-</text>
<text x="438.08" y="354.26" font-size="8.4" text-anchor="middle" font-weight="bold" stroke="#000" stroke-width="0.3">-</text>
<line x1="447.81" y1="302.83" x2="447.81" y2="307.08" stroke="#ff0000" stroke-width="1.15"/>
<line x1="446.01" y1="302.83" x2="449.61" y2="302.83" stroke="#ff0000" stroke-width="1.15"/>
<rect x="444.46" y="307.08" width="6.7" height="10.22" fill="#ff0000"/>
<text x="447.81" y="327.26" font-size="8.4" text-anchor="middle" font-weight="bold" stroke="#000" stroke-width="0.3">-</text>
<text x="447.81" y="341.01" font-size="8.4" text-anchor="middle" font-weight="bold" stroke="#000" stroke-width="0.3">+</text>
<text x="447.81" y="354.26" font-size="8.4" text-anchor="middle" font-weight="bold" stroke="#000" stroke-width="0.3">-</text>
<line x1="457.54" y1="305.52" x2="457.54" y2="306.3" stroke="#ff0000" stroke-width="1.15"/>
<line x1="455.74" y1="305.52" x2="459.34" y2="305.52" stroke="#ff0000" stroke-width="1.15"/>
<rect x="454.19" y="306.3" width="6.7" height="11" fill="#ff0000"/>
<text x="457.54" y="327.71" font-size="8.4" text-anchor="middle" font-weight="bold" stroke="#000" stroke-width="0.3">+</text>
<text x="457.54" y="341.01" font-size="8.4" text-anchor="middle" font-weight="bold" stroke="#000" stroke-width="0.3">+</text>
<text x="457.54" y="354.26" font-size="8.4" text-anchor="middle" font-weight="bold" stroke="#000" stroke-width="0.3">-</text>
<line x1="467.27" y1="308.36" x2="467.27" y2="310.2" stroke="#ff0000" stroke-width="1.15"/>
<line x1="465.47" y1="308.36" x2="469.07" y2="308.36" stroke="#ff0000" stroke-width="1.15"/>
<rect x="463.92" y="310.2" width="6.7" height="7.1" fill="#ff0000"/>
<text x="467.27" y="327.26" font-size="8.4" text-anchor="middle" font-weight="bold" stroke="#000" stroke-width="0.3">-</text>
<text x="467.27" y="340.56" font-size="8.4" text-anchor="middle" font-weight="bold" stroke="#000" stroke-width="0.3">-</text>
<text x="467.27" y="354.71" font-size="8.4" text-anchor="middle" font-weight="bold" stroke="#000" stroke-width="0.3">+</text>
<line x1="477" y1="284.66" x2="477" y2="291.05" stroke="#ff0000" stroke-width="1.15"/>
<line x1="475.2" y1="284.66" x2="478.8" y2="284.66" stroke="#ff0000" stroke-width="1.15"/>
<rect x="473.65" y="291.05" width="6.7" height="26.25" fill="#ff0000"/>
<text x="477" y="327.71" font-size="8.4" text-anchor="middle" font-weight="bold" stroke="#000" stroke-width="0.3">+</text>
<text x="477" y="340.56" font-size="8.4" text-anchor="middle" font-weight="bold" stroke="#000" stroke-width="0.3">-</text>
<text x="477" y="354.71" font-size="8.4" text-anchor="middle" font-weight="bold" stroke="#000" stroke-width="0.3">+</text>
<text x="543" y="203.97" font-size="8.3" text-anchor="middle" font-weight="bold" stroke="#000" stroke-width="0.15">Z-138</text>
<line x1="512.55" y1="306.66" x2="512.55" y2="308.08" stroke="#0cc01c" stroke-width="1.15"/>
<line x1="510.75" y1="306.66" x2="514.35" y2="306.66" stroke="#0cc01c" stroke-width="1.15"/>
<rect x="509.2" y="308.08" width="6.7" height="9.22" fill="#0cc01c"/>
<text x="512.55" y="327.26" font-size="8.4" text-anchor="middle" font-weight="bold" stroke="#000" stroke-width="0.3">-</text>
<text x="512.55" y="340.56" font-size="8.4" text-anchor="middle" font-weight="bold" stroke="#000" stroke-width="0.3">-</text>
<text x="512.55" y="354.26" font-size="8.4" text-anchor="middle" font-weight="bold" stroke="#000" stroke-width="0.3">-</text>
<line x1="522.28" y1="198.39" x2="522.28" y2="208.18" stroke="#0cc01c" stroke-width="1.15"/>
<line x1="520.48" y1="198.39" x2="524.08" y2="198.39" stroke="#0cc01c" stroke-width="1.15"/>
<rect x="518.93" y="208.18" width="6.7" height="109.12" fill="#0cc01c"/>
<text x="522.28" y="327.71" font-size="8.4" text-anchor="middle" font-weight="bold" stroke="#000" stroke-width="0.3">+</text>
<text x="522.28" y="340.56" font-size="8.4" text-anchor="middle" font-weight="bold" stroke="#000" stroke-width="0.3">-</text>
<text x="522.28" y="354.26" font-size="8.4" text-anchor="middle" font-weight="bold" stroke="#000" stroke-width="0.3">-</text>
<line x1="532.01" y1="306.3" x2="532.01" y2="308.79" stroke="#0cc01c" stroke-width="1.15"/>
<line x1="530.21" y1="306.3" x2="533.81" y2="306.3" stroke="#0cc01c" stroke-width="1.15"/>
<rect x="528.66" y="308.79" width="6.7" height="8.51" fill="#0cc01c"/>
<text x="532.01" y="327.26" font-size="8.4" text-anchor="middle" font-weight="bold" stroke="#000" stroke-width="0.3">-</text>
<text x="532.01" y="341.01" font-size="8.4" text-anchor="middle" font-weight="bold" stroke="#000" stroke-width="0.3">+</text>
<text x="532.01" y="354.26" font-size="8.4" text-anchor="middle" font-weight="bold" stroke="#000" stroke-width="0.3">-</text>
<line x1="541.74" y1="272.32" x2="541.74" y2="278.14" stroke="#0cc01c" stroke-width="1.15"/>
<line x1="539.94" y1="272.32" x2="543.54" y2="272.32" stroke="#0cc01c" stroke-width="1.15"/>
<rect x="538.39" y="278.14" width="6.7" height="39.16" fill="#0cc01c"/>
<text x="541.74" y="327.71" font-size="8.4" text-anchor="middle" font-weight="bold" stroke="#000" stroke-width="0.3">+</text>
<text x="541.74" y="341.01" font-size="8.4" text-anchor="middle" font-weight="bold" stroke="#000" stroke-width="0.3">+</text>
<text x="541.74" y="354.26" font-size="8.4" text-anchor="middle" font-weight="bold" stroke="#000" stroke-width="0.3">-</text>
<line x1="551.47" y1="308.36" x2="551.47" y2="309.78" stroke="#0cc01c" stroke-width="1.15"/>
<line x1="549.67" y1="308.36" x2="553.27" y2="308.36" stroke="#0cc01c" stroke-width="1.15"/>
<rect x="548.12" y="309.78" width="6.7" height="7.52" fill="#0cc01c"/>
<text x="551.47" y="327.26" font-size="8.4" text-anchor="middle" font-weight="bold" stroke="#000" stroke-width="0.3">-</text>
<text x="551.47" y="340.56" font-size="8.4" text-anchor="middle" font-weight="bold" stroke="#000" stroke-width="0.3">-</text>
<text x="551.47" y="354.71" font-size="8.4" text-anchor="middle" font-weight="bold" stroke="#000" stroke-width="0.3">+</text>
<line x1="561.2" y1="283.81" x2="561.2" y2="292.04" stroke="#0cc01c" stroke-width="1.15"/>
<line x1="559.4" y1="283.81" x2="563" y2="283.81" stroke="#0cc01c" stroke-width="1.15"/>
<rect x="557.85" y="292.04" width="6.7" height="25.26" fill="#0cc01c"/>
<text x="561.2" y="327.71" font-size="8.4" text-anchor="middle" font-weight="bold" stroke="#000" stroke-width="0.3">+</text>
<text x="561.2" y="340.56" font-size="8.4" text-anchor="middle" font-weight="bold" stroke="#000" stroke-width="0.3">-</text>
<text x="561.2" y="354.71" font-size="8.4" text-anchor="middle" font-weight="bold" stroke="#000" stroke-width="0.3">+</text>
<text x="630.1" y="203.97" font-size="8.3" text-anchor="middle" font-weight="bold" stroke="#000" stroke-width="0.15">Mino</text>
<line x1="596.75" y1="285.51" x2="596.75" y2="286.65" stroke="#ff8000" stroke-width="1.15"/>
<line x1="594.95" y1="285.51" x2="598.55" y2="285.51" stroke="#ff8000" stroke-width="1.15"/>
<rect x="593.4" y="286.65" width="6.7" height="30.65" fill="#ff8000"/>
<text x="598.05" y="327.26" font-size="8.4" text-anchor="middle" font-weight="bold" stroke="#000" stroke-width="0.3">-</text>
<text x="598.05" y="340.56" font-size="8.4" text-anchor="middle" font-weight="bold" stroke="#000" stroke-width="0.3">-</text>
<text x="598.05" y="354.26" font-size="8.4" text-anchor="middle" font-weight="bold" stroke="#000" stroke-width="0.3">-</text>
<line x1="606.48" y1="215.42" x2="606.48" y2="228.47" stroke="#ff8000" stroke-width="1.15"/>
<line x1="604.68" y1="215.42" x2="608.28" y2="215.42" stroke="#ff8000" stroke-width="1.15"/>
<rect x="603.13" y="228.47" width="6.7" height="88.83" fill="#ff8000"/>
<text x="607.53" y="327.71" font-size="8.4" text-anchor="middle" font-weight="bold" stroke="#000" stroke-width="0.3">+</text>
<text x="607.53" y="340.56" font-size="8.4" text-anchor="middle" font-weight="bold" stroke="#000" stroke-width="0.3">-</text>
<text x="607.53" y="354.26" font-size="8.4" text-anchor="middle" font-weight="bold" stroke="#000" stroke-width="0.3">-</text>
<line x1="616.21" y1="278.56" x2="616.21" y2="281.12" stroke="#ff8000" stroke-width="1.15"/>
<line x1="614.41" y1="278.56" x2="618.01" y2="278.56" stroke="#ff8000" stroke-width="1.15"/>
<rect x="612.86" y="281.12" width="6.7" height="36.18" fill="#ff8000"/>
<text x="617.01" y="327.26" font-size="8.4" text-anchor="middle" font-weight="bold" stroke="#000" stroke-width="0.3">-</text>
<text x="617.01" y="341.01" font-size="8.4" text-anchor="middle" font-weight="bold" stroke="#000" stroke-width="0.3">+</text>
<text x="617.01" y="354.26" font-size="8.4" text-anchor="middle" font-weight="bold" stroke="#000" stroke-width="0.3">-</text>
<line x1="625.94" y1="262.1" x2="625.94" y2="269.91" stroke="#ff8000" stroke-width="1.15"/>
<line x1="624.14" y1="262.1" x2="627.74" y2="262.1" stroke="#ff8000" stroke-width="1.15"/>
<rect x="622.59" y="269.91" width="6.7" height="47.39" fill="#ff8000"/>
<text x="626.49" y="327.71" font-size="8.4" text-anchor="middle" font-weight="bold" stroke="#000" stroke-width="0.3">+</text>
<text x="626.49" y="341.01" font-size="8.4" text-anchor="middle" font-weight="bold" stroke="#000" stroke-width="0.3">+</text>
<text x="626.49" y="354.26" font-size="8.4" text-anchor="middle" font-weight="bold" stroke="#000" stroke-width="0.3">-</text>
<line x1="635.67" y1="296.44" x2="635.67" y2="298.99" stroke="#ff8000" stroke-width="1.15"/>
<line x1="633.87" y1="296.44" x2="637.47" y2="296.44" stroke="#ff8000" stroke-width="1.15"/>
<rect x="632.32" y="298.99" width="6.7" height="18.31" fill="#ff8000"/>
<text x="635.97" y="327.26" font-size="8.4" text-anchor="middle" font-weight="bold" stroke="#000" stroke-width="0.3">-</text>
<text x="635.97" y="340.56" font-size="8.4" text-anchor="middle" font-weight="bold" stroke="#000" stroke-width="0.3">-</text>
<text x="635.97" y="354.71" font-size="8.4" text-anchor="middle" font-weight="bold" stroke="#000" stroke-width="0.3">+</text>
<line x1="645.4" y1="264.37" x2="645.4" y2="272.32" stroke="#ff8000" stroke-width="1.15"/>
<line x1="643.6" y1="264.37" x2="647.2" y2="264.37" stroke="#ff8000" stroke-width="1.15"/>
<rect x="642.05" y="272.32" width="6.7" height="44.98" fill="#ff8000"/>
<text x="645.45" y="327.71" font-size="8.4" text-anchor="middle" font-weight="bold" stroke="#000" stroke-width="0.3">+</text>
<text x="645.45" y="340.56" font-size="8.4" text-anchor="middle" font-weight="bold" stroke="#000" stroke-width="0.3">-</text>
<text x="645.45" y="354.71" font-size="8.4" text-anchor="middle" font-weight="bold" stroke="#000" stroke-width="0.3">+</text>
<line x1="334.7" y1="189" x2="334.7" y2="318" stroke="#000" stroke-width="1.4"/>
<line x1="334" y1="317.3" x2="656" y2="317.3" stroke="#000" stroke-width="1.4"/>
<line x1="331.1" y1="317.3" x2="334.7" y2="317.3" stroke="#000" stroke-width="1.2"/>
<text x="329.6" y="320.63" font-size="9.3" text-anchor="end" font-weight="bold" stroke="#000" stroke-width="0.17">0</text>
<line x1="331.1" y1="303.11" x2="334.7" y2="303.11" stroke="#000" stroke-width="1.2"/>
<text x="329.6" y="306.44" font-size="9.3" text-anchor="end" font-weight="bold" stroke="#000" stroke-width="0.17">10</text>
<line x1="331.1" y1="288.92" x2="334.7" y2="288.92" stroke="#000" stroke-width="1.2"/>
<text x="329.6" y="292.25" font-size="9.3" text-anchor="end" font-weight="bold" stroke="#000" stroke-width="0.17">20</text>
<line x1="331.1" y1="274.73" x2="334.7" y2="274.73" stroke="#000" stroke-width="1.2"/>
<text x="329.6" y="278.06" font-size="9.3" text-anchor="end" font-weight="bold" stroke="#000" stroke-width="0.17">30</text>
<line x1="331.1" y1="260.54" x2="334.7" y2="260.54" stroke="#000" stroke-width="1.2"/>
<text x="329.6" y="263.87" font-size="9.3" text-anchor="end" font-weight="bold" stroke="#000" stroke-width="0.17">40</text>
<line x1="331.1" y1="246.35" x2="334.7" y2="246.35" stroke="#000" stroke-width="1.2"/>
<text x="329.6" y="249.68" font-size="9.3" text-anchor="end" font-weight="bold" stroke="#000" stroke-width="0.17">50</text>
<line x1="331.1" y1="232.16" x2="334.7" y2="232.16" stroke="#000" stroke-width="1.2"/>
<text x="329.6" y="235.49" font-size="9.3" text-anchor="end" font-weight="bold" stroke="#000" stroke-width="0.17">60</text>
<line x1="331.1" y1="217.97" x2="334.7" y2="217.97" stroke="#000" stroke-width="1.2"/>
<text x="329.6" y="221.3" font-size="9.3" text-anchor="end" font-weight="bold" stroke="#000" stroke-width="0.17">70</text>
<line x1="331.1" y1="203.78" x2="334.7" y2="203.78" stroke="#000" stroke-width="1.2"/>
<text x="329.6" y="207.11" font-size="9.3" text-anchor="end" font-weight="bold" stroke="#000" stroke-width="0.17">80</text>
<line x1="331.1" y1="189.59" x2="334.7" y2="189.59" stroke="#000" stroke-width="1.2"/>
<text x="329.6" y="192.92" font-size="9.3" text-anchor="end" font-weight="bold" stroke="#000" stroke-width="0.17">90</text>
<text x="335" y="326.21" font-size="7" text-anchor="end" font-weight="bold" stroke="#000" stroke-width="0.13">Auranofin</text>
<text x="335" y="338.81" font-size="7" text-anchor="end" font-weight="bold" stroke="#000" stroke-width="0.13">NAC</text>
<text x="335" y="351.31" font-size="7" text-anchor="end" font-weight="bold" stroke="#000" stroke-width="0.13">Z-VAD-FMK</text>
</g>
<g id="panelE">
<text x="0" y="382.02" font-size="14.3" font-weight="bold" stroke="#000" stroke-width="0.26">E</text>
<text transform="translate(11 435) rotate(-90)" y="3.11" font-size="8.7" text-anchor="middle" font-weight="bold" stroke="#000" stroke-width="0.16">MFI (% of&#160; Control)</text>
<line x1="48.05" y1="414.37" x2="48.05" y2="417.23" stroke="#000000" stroke-width="1"/>
<line x1="45.55" y1="414.37" x2="50.55" y2="414.37" stroke="#000000" stroke-width="1"/>
<rect x="42.7" y="417.23" width="10.7" height="69.67" fill="#000000"/>
<line x1="64.05" y1="430.61" x2="64.05" y2="434.37" stroke="#ff0000" stroke-width="1"/>
<line x1="61.55" y1="430.61" x2="66.55" y2="430.61" stroke="#ff0000" stroke-width="1"/>
<rect x="58.7" y="434.37" width="10.7" height="52.53" fill="#ff0000"/>
<line x1="80.05" y1="445.93" x2="80.05" y2="450.74" stroke="#0000ff" stroke-width="1"/>
<line x1="77.55" y1="445.93" x2="82.55" y2="445.93" stroke="#0000ff" stroke-width="1"/>
<rect x="74.7" y="450.74" width="10.7" height="36.16" fill="#0000ff"/>
<line x1="106.75" y1="415.21" x2="106.75" y2="417.23" stroke="#000000" stroke-width="1"/>
<line x1="104.25" y1="415.21" x2="109.25" y2="415.21" stroke="#000000" stroke-width="1"/>
<rect x="101.4" y="417.23" width="10.7" height="69.67" fill="#000000"/>
<line x1="122.75" y1="418.07" x2="122.75" y2="420.5" stroke="#ff0000" stroke-width="1"/>
<line x1="120.25" y1="418.07" x2="125.25" y2="418.07" stroke="#ff0000" stroke-width="1"/>
<rect x="117.4" y="420.5" width="10.7" height="66.4" fill="#ff0000"/>
<line x1="138.75" y1="425.59" x2="138.75" y2="426.64" stroke="#0000ff" stroke-width="1"/>
<line x1="136.25" y1="425.59" x2="141.25" y2="425.59" stroke="#0000ff" stroke-width="1"/>
<rect x="133.4" y="426.64" width="10.7" height="60.26" fill="#0000ff"/>
<line x1="165.45" y1="402.6" x2="165.45" y2="417.23" stroke="#000000" stroke-width="1"/>
<line x1="162.95" y1="402.6" x2="167.95" y2="402.6" stroke="#000000" stroke-width="1"/>
<rect x="160.1" y="417.23" width="10.7" height="69.67" fill="#000000"/>
<line x1="181.45" y1="435.83" x2="181.45" y2="437.64" stroke="#ff0000" stroke-width="1"/>
<line x1="178.95" y1="435.83" x2="183.95" y2="435.83" stroke="#ff0000" stroke-width="1"/>
<rect x="176.1" y="437.64" width="10.7" height="49.26" fill="#ff0000"/>
<line x1="197.45" y1="453.81" x2="197.45" y2="456.04" stroke="#0000ff" stroke-width="1"/>
<line x1="194.95" y1="453.81" x2="199.95" y2="453.81" stroke="#0000ff" stroke-width="1"/>
<rect x="192.1" y="456.04" width="10.7" height="30.86" fill="#0000ff"/>
<line x1="36.8" y1="381.7" x2="36.8" y2="487.6" stroke="#000" stroke-width="1.4"/>
<line x1="36.1" y1="486.9" x2="209.4" y2="486.9" stroke="#000" stroke-width="1.4"/>
<line x1="33.6" y1="486.9" x2="36.8" y2="486.9" stroke="#000" stroke-width="1.1"/>
<text x="32.8" y="489.8" font-size="8.1" text-anchor="end" font-weight="bold" stroke="#000" stroke-width="0.15">0</text>
<line x1="33.6" y1="452.06" x2="36.8" y2="452.06" stroke="#000" stroke-width="1.1"/>
<text x="32.8" y="454.96" font-size="8.1" text-anchor="end" font-weight="bold" stroke="#000" stroke-width="0.15">50</text>
<line x1="33.6" y1="417.23" x2="36.8" y2="417.23" stroke="#000" stroke-width="1.1"/>
<text x="32.8" y="420.13" font-size="8.1" text-anchor="end" font-weight="bold" stroke="#000" stroke-width="0.15">100</text>
<line x1="33.6" y1="382.39" x2="36.8" y2="382.39" stroke="#000" stroke-width="1.1"/>
<text x="32.8" y="385.29" font-size="8.1" text-anchor="end" font-weight="bold" stroke="#000" stroke-width="0.15">150</text>
<text x="63.8" y="499.97" font-size="9.7" text-anchor="middle" font-weight="bold" stroke="#000" stroke-width="0.17">OCI-Ly10</text>
<text x="122.7" y="499.97" font-size="9.7" text-anchor="middle" font-weight="bold" stroke="#000" stroke-width="0.17">Z-138</text>
<text x="181.8" y="499.97" font-size="9.7" text-anchor="middle" font-weight="bold" stroke="#000" stroke-width="0.17">Mino</text>
<rect x="192.1" y="410.3" width="12.5" height="4" fill="#000"/>
<text x="211.2" y="415.64" font-size="8.2">Control</text>
<rect x="192.1" y="420.5" width="12.5" height="4" fill="#ff0000"/>
<text x="211.2" y="425.84" font-size="8.2">Auranofin (1.2 &#181;M)</text>
<rect x="192.1" y="430.4" width="12.5" height="4" fill="#0000ff"/>
<text x="211.2" y="435.74" font-size="8.2">Auranofin (2.5 &#181;M)</text>
</g>
<g id="panelF">
<text x="295.3" y="382.02" font-size="14.3" font-weight="bold" stroke="#000" stroke-width="0.26">F</text>
<text x="331.2" y="392" font-size="8.1" text-anchor="middle" font-weight="bold" stroke="#000" stroke-width="0.15">JeKo-1</text>
<line x1="303.1" y1="395.5" x2="352.2" y2="395.5" stroke="#777" stroke-width="0.6"/>
<text x="391.8" y="392" font-size="8.1" text-anchor="middle" font-weight="bold" stroke="#000" stroke-width="0.15">Z-138</text>
<line x1="364.5" y1="395.5" x2="413.2" y2="395.5" stroke="#777" stroke-width="0.6"/>
<text x="451.3" y="392" font-size="8.1" text-anchor="middle" font-weight="bold" stroke="#000" stroke-width="0.15">Mino</text>
<line x1="427.2" y1="395.5" x2="476.3" y2="395.5" stroke="#777" stroke-width="0.6"/>
<text x="525.1" y="392" font-size="8.1" text-anchor="middle" font-weight="bold" stroke="#000" stroke-width="0.15">OCI-Ly8</text>
<line x1="489.7" y1="395.5" x2="554.1" y2="395.5" stroke="#777" stroke-width="0.6"/>
<text x="606.4" y="392" font-size="8.1" text-anchor="middle" font-weight="bold" stroke="#000" stroke-width="0.15">OCI-Ly10</text>
<line x1="568.5" y1="395.5" x2="632.9" y2="395.5" stroke="#777" stroke-width="0.6"/>
<text x="304" y="404.22" font-size="6.2" text-anchor="middle" font-weight="bold" stroke="#000" stroke-width="0.15">0</text>
<text x="318.6" y="404.22" font-size="6.2" text-anchor="middle" font-weight="bold" stroke="#000" stroke-width="0.15">0.08</text>
<text x="333.4" y="404.22" font-size="6.2" text-anchor="middle" font-weight="bold" stroke="#000" stroke-width="0.15">0.15</text>
<text x="349.3" y="404.22" font-size="6.2" text-anchor="middle" font-weight="bold" stroke="#000" stroke-width="0.15">0.3</text>
<text x="365.3" y="404.22" font-size="6.2" text-anchor="middle" font-weight="bold" stroke="#000" stroke-width="0.15">0</text>
<text x="379.8" y="404.22" font-size="6.2" text-anchor="middle" font-weight="bold" stroke="#000" stroke-width="0.15">0.3</text>
<text x="394.6" y="404.22" font-size="6.2" text-anchor="middle" font-weight="bold" stroke="#000" stroke-width="0.15">0.6</text>
<text x="412.4" y="404.22" font-size="6.2" text-anchor="middle" font-weight="bold" stroke="#000" stroke-width="0.15">1.2</text>
<text x="428.6" y="404.22" font-size="6.2" text-anchor="middle" font-weight="bold" stroke="#000" stroke-width="0.15">0</text>
<text x="442.8" y="404.22" font-size="6.2" text-anchor="middle" font-weight="bold" stroke="#000" stroke-width="0.15">0.3</text>
<text x="457.9" y="404.22" font-size="6.2" text-anchor="middle" font-weight="bold" stroke="#000" stroke-width="0.15">0.6</text>
<text x="472.6" y="404.22" font-size="6.2" text-anchor="middle" font-weight="bold" stroke="#000" stroke-width="0.15">1.2</text>
<text x="492.5" y="403.82" font-size="6.2" text-anchor="middle" font-weight="bold" stroke="#000" stroke-width="0.15">0</text>
<text x="506" y="403.82" font-size="6.2" text-anchor="middle" font-weight="bold" stroke="#000" stroke-width="0.15">0.3</text>
<text x="521" y="403.82" font-size="6.2" text-anchor="middle" font-weight="bold" stroke="#000" stroke-width="0.15">0.6</text>
<text x="537.2" y="403.82" font-size="6.2" text-anchor="middle" font-weight="bold" stroke="#000" stroke-width="0.15">1.2</text>
<text x="553.2" y="403.82" font-size="6.2" text-anchor="middle" font-weight="bold" stroke="#000" stroke-width="0.15">2.5</text>
<text x="569.4" y="403.82" font-size="6.2" text-anchor="middle" font-weight="bold" stroke="#000" stroke-width="0.15">0</text>
<text x="583.4" y="403.82" font-size="6.2" text-anchor="middle" font-weight="bold" stroke="#000" stroke-width="0.15">0.3</text>
<text x="599.5" y="403.82" font-size="6.2" text-anchor="middle" font-weight="bold" stroke="#000" stroke-width="0.15">0.6</text>
<text x="615.4" y="403.82" font-size="6.2" text-anchor="middle" font-weight="bold" stroke="#000" stroke-width="0.15">1.2</text>
<text x="629.8" y="403.82" font-size="6.2" text-anchor="middle" font-weight="bold" stroke="#000" stroke-width="0.15">2.5</text>
<text x="641.3" y="403.48" font-size="6.1" font-weight="bold" stroke="#000" stroke-width="0.11">Auranofin (&#181;M)</text>
<text x="642" y="416.54" font-size="7.1" font-weight="bold" stroke="#000" stroke-width="0.13">MDM2</text>
<text x="642" y="431.94" font-size="7.1" font-weight="bold" stroke="#000" stroke-width="0.13">p-Chk2</text>
<text x="642" y="449.74" font-size="7.1" font-weight="bold" stroke="#000" stroke-width="0.13">&#947;H2A.X</text>
<text x="642" y="470.24" font-size="7.1" font-weight="bold" stroke="#000" stroke-width="0.13">Chk2</text>
<text x="642" y="481.84" font-size="7.1" font-weight="bold" stroke="#000" stroke-width="0.13">&#945;-Tubulin</text>
<clipPath id="cp1"><rect x="297" y="406.4" width="183.7" height="13.8"/></clipPath>
<rect x="297" y="406.4" width="183.7" height="13.8" fill="#dadada"/>
<g clip-path="url(#cp1)">
<ellipse cx="365.3" cy="411.6" rx="6.2" ry="2.1" fill="#0a0a0a" fill-opacity="0.85" filter="url(#b1)"/>
<ellipse cx="379.8" cy="411.6" rx="6.2" ry="2.1" fill="#0a0a0a" fill-opacity="0.85" filter="url(#b1)"/>
<ellipse cx="394.6" cy="411.6" rx="6.2" ry="2.1" fill="#0a0a0a" fill-opacity="0.8" filter="url(#b1)"/>
<ellipse cx="412.4" cy="411.2" rx="6.2" ry="2.1" fill="#0a0a0a" fill-opacity="0.3" filter="url(#b1)"/>
<ellipse cx="428.6" cy="411.2" rx="6.2" ry="2.1" fill="#0a0a0a" fill-opacity="0.65" filter="url(#b1)"/>
<ellipse cx="442.8" cy="411.2" rx="6.2" ry="2.1" fill="#0a0a0a" fill-opacity="0.25" filter="url(#b1)"/>
<ellipse cx="457.9" cy="411.2" rx="6.2" ry="2.1" fill="#0a0a0a" fill-opacity="0.6" filter="url(#b1)"/>
<ellipse cx="472.6" cy="411.2" rx="6.2" ry="2.1" fill="#0a0a0a" fill-opacity="0.25" filter="url(#b1)"/>
</g>
<rect x="297" y="406.4" width="183.7" height="13.8" fill="none" stroke="#333" stroke-width="0.8"/>
<clipPath id="cp2"><rect x="297" y="422.4" width="183.7" height="15"/></clipPath>
<rect x="297" y="422.4" width="183.7" height="15" fill="#dcdcdc"/>
<g clip-path="url(#cp2)">
<ellipse cx="394.6" cy="427.4" rx="6.3" ry="1.2" fill="#0a0a0a" fill-opacity="0.12" filter="url(#b1)"/>
<ellipse cx="412.4" cy="427.4" rx="6.3" ry="1.5" fill="#0a0a0a" fill-opacity="0.55" filter="url(#b1)"/>
<ellipse cx="428.6" cy="427.4" rx="6.3" ry="1.5" fill="#0a0a0a" fill-opacity="0.6" filter="url(#b1)"/>
<ellipse cx="442.8" cy="427.4" rx="6.3" ry="1.6" fill="#0a0a0a" fill-opacity="0.65" filter="url(#b1)"/>
<ellipse cx="457.9" cy="427.4" rx="6.3" ry="1.9" fill="#0a0a0a" fill-opacity="0.85" filter="url(#b1)"/>
<ellipse cx="472.6" cy="427.4" rx="6.3" ry="2.3" fill="#0a0a0a" fill-opacity="0.98" filter="url(#b1)"/>
</g>
<rect x="297" y="422.4" width="183.7" height="15" fill="none" stroke="#333" stroke-width="0.8"/>
<clipPath id="cp3"><rect x="297" y="439.4" width="183.7" height="19"/></clipPath>
<rect x="297" y="439.4" width="183.7" height="19" fill="#dedede"/>
<g clip-path="url(#cp3)">
<ellipse cx="304" cy="451.6" rx="4" ry="1" fill="#0a0a0a" fill-opacity="0.08" filter="url(#b1)"/>
<ellipse cx="318.6" cy="451.8" rx="3" ry="1" fill="#0a0a0a" fill-opacity="0.06" filter="url(#b1)"/>
<ellipse cx="333.4" cy="451.4" rx="4.5" ry="1" fill="#0a0a0a" fill-opacity="0.1" filter="url(#b1)"/>
<ellipse cx="349.3" cy="451.6" rx="3.5" ry="1" fill="#0a0a0a" fill-opacity="0.08" filter="url(#b1)"/>
<ellipse cx="394.6" cy="449.2" rx="4" ry="1" fill="#0a0a0a" fill-opacity="0.1" filter="url(#b1)"/>
<ellipse cx="412.4" cy="448.4" rx="7.2" ry="2.4" fill="#0a0a0a" fill-opacity="1" filter="url(#b1)"/>
<ellipse cx="428.6" cy="448.8" rx="6.5" ry="1.4" fill="#0a0a0a" fill-opacity="0.7" filter="url(#b1)"/>
<ellipse cx="442.8" cy="448" rx="6.8" ry="1.9" fill="#0a0a0a" fill-opacity="0.9" filter="url(#b1)"/>
<ellipse cx="457.9" cy="447.2" rx="7.2" ry="2.1" fill="#0a0a0a" fill-opacity="0.95" filter="url(#b1)"/>
<ellipse cx="472.6" cy="446.8" rx="4" ry="1" fill="#0a0a0a" fill-opacity="0.12" filter="url(#b1)"/>
</g>
<rect x="297" y="439.4" width="183.7" height="19" fill="none" stroke="#333" stroke-width="0.8"/>
<clipPath id="cp4"><rect x="297" y="460.4" width="183.7" height="28"/></clipPath>
<rect x="297" y="460.4" width="183.7" height="28" fill="#c8c8c8"/>
<g clip-path="url(#cp4)">
<ellipse cx="365.3" cy="467" rx="6.8" ry="2.9" fill="#0a0a0a" fill-opacity="0.95" filter="url(#b1)"/>
<ellipse cx="379.8" cy="467" rx="6.8" ry="2.9" fill="#0a0a0a" fill-opacity="0.95" filter="url(#b1)"/>
<ellipse cx="394.6" cy="467" rx="6.8" ry="2.7" fill="#0a0a0a" fill-opacity="0.9" filter="url(#b1)"/>
<ellipse cx="412.4" cy="467" rx="6.8" ry="1.9" fill="#0a0a0a" fill-opacity="0.5" filter="url(#b1)"/>
<ellipse cx="428.6" cy="467" rx="6.8" ry="2.9" fill="#0a0a0a" fill-opacity="0.95" filter="url(#b1)"/>
<ellipse cx="442.8" cy="467" rx="6.8" ry="2.9" fill="#0a0a0a" fill-opacity="0.95" filter="url(#b1)"/>
<ellipse cx="457.9" cy="467" rx="6.8" ry="2.9" fill="#0a0a0a" fill-opacity="0.95" filter="url(#b1)"/>
<ellipse cx="472.6" cy="467" rx="6.8" ry="2.9" fill="#0a0a0a" fill-opacity="0.95" filter="url(#b1)"/>
<ellipse cx="304" cy="478.8" rx="8.2" ry="3" fill="#0a0a0a" fill-opacity="0.92" filter="url(#b1)"/>
<ellipse cx="318.6" cy="478.8" rx="8.2" ry="3" fill="#0a0a0a" fill-opacity="0.92" filter="url(#b1)"/>
<ellipse cx="333.4" cy="478.8" rx="8.2" ry="3" fill="#0a0a0a" fill-opacity="0.92" filter="url(#b1)"/>
<ellipse cx="349.3" cy="478.8" rx="8.2" ry="3" fill="#0a0a0a" fill-opacity="0.92" filter="url(#b1)"/>
<ellipse cx="365.3" cy="478.8" rx="8.2" ry="3" fill="#0a0a0a" fill-opacity="0.92" filter="url(#b1)"/>
<ellipse cx="379.8" cy="478.8" rx="8.2" ry="3" fill="#0a0a0a" fill-opacity="0.92" filter="url(#b1)"/>
<ellipse cx="394.6" cy="478.8" rx="8.2" ry="3" fill="#0a0a0a" fill-opacity="0.92" filter="url(#b1)"/>
<ellipse cx="412.4" cy="478.8" rx="8.2" ry="3" fill="#0a0a0a" fill-opacity="0.92" filter="url(#b1)"/>
<ellipse cx="428.6" cy="478.8" rx="8.2" ry="3" fill="#0a0a0a" fill-opacity="0.92" filter="url(#b1)"/>
<ellipse cx="442.8" cy="478.8" rx="8.2" ry="3" fill="#0a0a0a" fill-opacity="0.92" filter="url(#b1)"/>
<ellipse cx="457.9" cy="478.8" rx="8.2" ry="3" fill="#0a0a0a" fill-opacity="0.92" filter="url(#b1)"/>
<ellipse cx="472.6" cy="478.8" rx="8.2" ry="3" fill="#0a0a0a" fill-opacity="0.92" filter="url(#b1)"/>
<ellipse cx="388.85" cy="478.8" rx="95" ry="1.8" fill="#0a0a0a" fill-opacity="0.8" filter="url(#b1)"/>
</g>
<rect x="297" y="460.4" width="183.7" height="28" fill="none" stroke="#333" stroke-width="0.8"/>
<clipPath id="cp5"><rect x="483" y="406.2" width="156" height="14.2"/></clipPath>
<rect x="483" y="406.2" width="156" height="14.2" fill="#d6d6d6"/>
<g clip-path="url(#cp5)">
<ellipse cx="492.5" cy="415" rx="6.2" ry="1.9" fill="#0a0a0a" fill-opacity="0.6" filter="url(#b1)"/>
<ellipse cx="506" cy="415" rx="6.2" ry="1.9" fill="#0a0a0a" fill-opacity="0.45" filter="url(#b1)"/>
<ellipse cx="521" cy="415" rx="6.2" ry="1.9" fill="#0a0a0a" fill-opacity="0.45" filter="url(#b1)"/>
<ellipse cx="537.2" cy="415.8" rx="6.2" ry="1.9" fill="#0a0a0a" fill-opacity="0.6" filter="url(#b1)"/>
<ellipse cx="569.4" cy="415.8" rx="6.2" ry="1.9" fill="#0a0a0a" fill-opacity="0.85" filter="url(#b1)"/>
<ellipse cx="583.4" cy="415" rx="6.2" ry="1.9" fill="#0a0a0a" fill-opacity="0.5" filter="url(#b1)"/>
<ellipse cx="599.5" cy="414.6" rx="6.2" ry="1.9" fill="#0a0a0a" fill-opacity="0.65" filter="url(#b1)"/>
<ellipse cx="615.4" cy="414.6" rx="6.2" ry="1.9" fill="#0a0a0a" fill-opacity="0.6" filter="url(#b1)"/>
</g>
<rect x="483" y="406.2" width="156" height="14.2" fill="none" stroke="#333" stroke-width="0.8"/>
<clipPath id="cp6"><rect x="483" y="422.4" width="156" height="14.8"/></clipPath>
<rect x="483" y="422.4" width="156" height="14.8" fill="#d6d6d6"/>
<g clip-path="url(#cp6)">
<ellipse cx="492.5" cy="430.2" rx="6.3" ry="1.3" fill="#0a0a0a" fill-opacity="0.35" filter="url(#b1)"/>
<ellipse cx="506" cy="430.6" rx="6.3" ry="1.3" fill="#0a0a0a" fill-opacity="0.35" filter="url(#b1)"/>
<ellipse cx="521" cy="430.8" rx="6.3" ry="1.3" fill="#0a0a0a" fill-opacity="0.3" filter="url(#b1)"/>
<ellipse cx="537.2" cy="431.2" rx="6.3" ry="2.4" fill="#0a0a0a" fill-opacity="1" filter="url(#b1)"/>
<ellipse cx="553.2" cy="429.6" rx="6.3" ry="2" fill="#0a0a0a" fill-opacity="0.9" filter="url(#b1)"/>
<ellipse cx="569.4" cy="431.2" rx="6.3" ry="1.2" fill="#0a0a0a" fill-opacity="0.1" filter="url(#b1)"/>
<ellipse cx="583.4" cy="430.4" rx="6.3" ry="1.5" fill="#0a0a0a" fill-opacity="0.5" filter="url(#b1)"/>
<ellipse cx="599.5" cy="429.2" rx="6.3" ry="1.6" fill="#0a0a0a" fill-opacity="0.65" filter="url(#b1)"/>
<ellipse cx="615.4" cy="428.4" rx="6.3" ry="1.4" fill="#0a0a0a" fill-opacity="0.5" filter="url(#b1)"/>
<ellipse cx="629.8" cy="427.6" rx="6.3" ry="1.8" fill="#0a0a0a" fill-opacity="0.85" filter="url(#b1)"/>
</g>
<rect x="483" y="422.4" width="156" height="14.8" fill="none" stroke="#333" stroke-width="0.8"/>
<clipPath id="cp7"><rect x="483" y="439" width="156" height="19.2"/></clipPath>
<rect x="483" y="439" width="156" height="19.2" fill="#dedede"/>
<g clip-path="url(#cp7)">
<ellipse cx="506" cy="449" rx="4.5" ry="1.2" fill="#0a0a0a" fill-opacity="0.15" filter="url(#b1)"/>
<ellipse cx="521" cy="450" rx="6.4" ry="2" fill="#0a0a0a" fill-opacity="0.7" filter="url(#b1)"/>
<ellipse cx="537.2" cy="450.2" rx="7.4" ry="3.2" fill="#0a0a0a" fill-opacity="1" filter="url(#b1)"/>
<ellipse cx="553.2" cy="449.2" rx="5" ry="1.4" fill="#0a0a0a" fill-opacity="0.2" filter="url(#b1)"/>
<ellipse cx="569.4" cy="449.8" rx="4.5" ry="1.3" fill="#0a0a0a" fill-opacity="0.15" filter="url(#b1)"/>
<ellipse cx="583.4" cy="449.2" rx="5.8" ry="1.7" fill="#0a0a0a" fill-opacity="0.5" filter="url(#b1)"/>
<ellipse cx="599.5" cy="448.8" rx="7" ry="2.6" fill="#0a0a0a" fill-opacity="1" filter="url(#b1)"/>
<ellipse cx="615.4" cy="448.4" rx="6.6" ry="2.3" fill="#0a0a0a" fill-opacity="0.9" filter="url(#b1)"/>
<ellipse cx="629.8" cy="448.6" rx="4" ry="1.2" fill="#0a0a0a" fill-opacity="0.06" filter="url(#b1)"/>
</g>
<rect x="483" y="439" width="156" height="19.2" fill="none" stroke="#333" stroke-width="0.8"/>
<clipPath id="cp8"><rect x="483" y="460.4" width="156" height="27.8"/></clipPath>
<rect x="483" y="460.4" width="156" height="27.8" fill="#cccccc"/>
<g clip-path="url(#cp8)">
<ellipse cx="492.5" cy="469.6" rx="6.8" ry="3.3" fill="#0a0a0a" fill-opacity="0.95" filter="url(#b1)"/>
<ellipse cx="492.5" cy="483" rx="8.2" ry="3.1" fill="#0a0a0a" fill-opacity="0.92" filter="url(#b1)"/>
<ellipse cx="506" cy="469.6" rx="6.8" ry="3.3" fill="#0a0a0a" fill-opacity="0.95" filter="url(#b1)"/>
<ellipse cx="506" cy="483" rx="8.2" ry="3.1" fill="#0a0a0a" fill-opacity="0.92" filter="url(#b1)"/>
<ellipse cx="521" cy="469.6" rx="6.8" ry="3.3" fill="#0a0a0a" fill-opacity="0.95" filter="url(#b1)"/>
<ellipse cx="521" cy="483" rx="8.2" ry="3.1" fill="#0a0a0a" fill-opacity="0.92" filter="url(#b1)"/>
<ellipse cx="537.2" cy="469.6" rx="6.8" ry="3.3" fill="#0a0a0a" fill-opacity="0.95" filter="url(#b1)"/>
<ellipse cx="537.2" cy="482.8" rx="8.2" ry="3.1" fill="#0a0a0a" fill-opacity="0.92" filter="url(#b1)"/>
<ellipse cx="553.2" cy="469.6" rx="5.6" ry="2" fill="#0a0a0a" fill-opacity="0.95" filter="url(#b1)"/>
<ellipse cx="553.2" cy="482.2" rx="6.5" ry="2.2" fill="#0a0a0a" fill-opacity="0.92" filter="url(#b1)"/>
<ellipse cx="569.4" cy="468.7" rx="6.8" ry="3.3" fill="#0a0a0a" fill-opacity="0.95" filter="url(#b1)"/>
<ellipse cx="569.4" cy="480.6" rx="8.2" ry="3.1" fill="#0a0a0a" fill-opacity="0.92" filter="url(#b1)"/>
<ellipse cx="583.4" cy="468.7" rx="6.8" ry="3.3" fill="#0a0a0a" fill-opacity="0.95" filter="url(#b1)"/>
<ellipse cx="583.4" cy="480.2" rx="8.2" ry="3.1" fill="#0a0a0a" fill-opacity="0.92" filter="url(#b1)"/>
<ellipse cx="599.5" cy="468.7" rx="6.8" ry="3.3" fill="#0a0a0a" fill-opacity="0.95" filter="url(#b1)"/>
<ellipse cx="599.5" cy="480" rx="8.2" ry="3.1" fill="#0a0a0a" fill-opacity="0.92" filter="url(#b1)"/>
<ellipse cx="615.4" cy="468.7" rx="6.8" ry="3.3" fill="#0a0a0a" fill-opacity="0.95" filter="url(#b1)"/>
<ellipse cx="615.4" cy="479.8" rx="8.2" ry="3.1" fill="#0a0a0a" fill-opacity="0.92" filter="url(#b1)"/>
<ellipse cx="629.8" cy="468.7" rx="5.6" ry="2" fill="#0a0a0a" fill-opacity="0.95" filter="url(#b1)"/>
<ellipse cx="629.8" cy="479.6" rx="6.5" ry="2.2" fill="#0a0a0a" fill-opacity="0.92" filter="url(#b1)"/>
<ellipse cx="522" cy="482.8" rx="36" ry="1.8" fill="#0a0a0a" fill-opacity="0.8" filter="url(#b1)"/>
<ellipse cx="598" cy="480" rx="34" ry="1.8" fill="#0a0a0a" fill-opacity="0.8" filter="url(#b1)"/>
</g>
<rect x="483" y="460.4" width="156" height="27.8" fill="none" stroke="#333" stroke-width="0.8"/>
</g>
<g id="panelG">
<text x="0" y="527.32" font-size="14.3" font-weight="bold" stroke="#000" stroke-width="0.26">G</text>
<text x="52.2" y="535" font-size="8.1" text-anchor="middle" font-weight="bold" stroke="#000" stroke-width="0.15">Control</text>
<text x="115" y="535" font-size="8.1" text-anchor="middle" font-weight="bold" stroke="#000" stroke-width="0.15">Auranofin</text>
<text x="174.7" y="535" font-size="8.1" text-anchor="middle" font-weight="bold" stroke="#000" stroke-width="0.15">NAC</text>
<text x="236.7" y="535" font-size="8.1" text-anchor="middle" font-weight="bold" stroke="#000" stroke-width="0.15">Auranofin+NAC</text>
<text transform="translate(17.4 565.3) rotate(-90)" y="2.9" font-size="8.1" text-anchor="middle" font-weight="bold" stroke="#000" stroke-width="0.15">&#947;H2A.X</text>
<text transform="translate(17.4 625.7) rotate(-90)" y="2.9" font-size="8.1" text-anchor="middle" font-weight="bold" stroke="#000" stroke-width="0.15">Hoechst 33432</text>
<text transform="translate(17.4 682.9) rotate(-90)" y="2.9" font-size="8.1" text-anchor="middle" font-weight="bold" stroke="#000" stroke-width="0.15">Merge</text>
<rect x="23" y="537.8" width="246" height="173.5" fill="#000"/>
<clipPath id="cpG"><rect x="23" y="537.8" width="246" height="173.5"/></clipPath>
<g clip-path="url(#cpG)">
<path d="M27 626 C27 612 38 607 50 608 C62 609 71 616 70 630 C69 643 60 649 50 648 C38 649 27 640 27 626 Z" fill="#06068c" fill-opacity="1" filter="url(#b5)"/>
<g filter="url(#b6)"><circle cx="35.77" cy="634.95" r="1.03" fill="#000008" fill-opacity="0.23"/><circle cx="59.62" cy="638.97" r="1.05" fill="#000008" fill-opacity="0.24"/><circle cx="51.74" cy="613.86" r="0.81" fill="#000008" fill-opacity="0.24"/><circle cx="57.57" cy="641.25" r="0.63" fill="#000008" fill-opacity="0.26"/><circle cx="48.41" cy="615.44" r="0.93" fill="#1010c8" fill-opacity="0.22"/><circle cx="60.57" cy="615.75" r="1.01" fill="#1010c8" fill-opacity="0.31"/><circle cx="42.53" cy="627.98" r="0.63" fill="#000008" fill-opacity="0.39"/><circle cx="38.42" cy="638.03" r="1.47" fill="#000008" fill-opacity="0.39"/><circle cx="58.18" cy="637.43" r="1.26" fill="#000008" fill-opacity="0.21"/><circle cx="47.6" cy="639.62" r="1.43" fill="#000008" fill-opacity="0.39"/><circle cx="45.06" cy="623.92" r="0.95" fill="#000008" fill-opacity="0.42"/><circle cx="44.19" cy="612.41" r="1.25" fill="#000008" fill-opacity="0.42"/><circle cx="48.35" cy="628.21" r="1.27" fill="#000008" fill-opacity="0.23"/><circle cx="52.64" cy="630.42" r="0.76" fill="#000008" fill-opacity="0.22"/><circle cx="42.73" cy="643.02" r="1.14" fill="#000008" fill-opacity="0.25"/><circle cx="60.42" cy="637.92" r="1.22" fill="#000008" fill-opacity="0.34"/><circle cx="44.97" cy="645.13" r="1.13" fill="#1010c8" fill-opacity="0.39"/><circle cx="48.15" cy="624.27" r="1.39" fill="#000008" fill-opacity="0.22"/><circle cx="58.91" cy="627.93" r="0.65" fill="#1010c8" fill-opacity="0.24"/><circle cx="40.52" cy="625.76" r="0.66" fill="#000008" fill-opacity="0.26"/><circle cx="57.84" cy="627.79" r="1.46" fill="#000008" fill-opacity="0.31"/><circle cx="37.56" cy="640" r="1.39" fill="#000008" fill-opacity="0.32"/><circle cx="45.69" cy="631.26" r="0.88" fill="#1010c8" fill-opacity="0.31"/><circle cx="39.99" cy="637.62" r="1.22" fill="#000008" fill-opacity="0.41"/><circle cx="30.39" cy="631.69" r="1.37" fill="#000008" fill-opacity="0.32"/><circle cx="39.27" cy="625.29" r="1.42" fill="#1010c8" fill-opacity="0.21"/><circle cx="30.46" cy="626.69" r="1.38" fill="#000008" fill-opacity="0.34"/><circle cx="34.31" cy="629.81" r="1.04" fill="#000008" fill-opacity="0.23"/><circle cx="35.81" cy="617.75" r="1.24" fill="#000008" fill-opacity="0.31"/><circle cx="62.71" cy="637.82" r="0.61" fill="#000008" fill-opacity="0.29"/><circle cx="36.16" cy="635.69" r="1.23" fill="#000008" fill-opacity="0.26"/><circle cx="31.09" cy="624.72" r="1.41" fill="#000008" fill-opacity="0.25"/><circle cx="48.62" cy="630.18" r="0.69" fill="#1010c8" fill-opacity="0.32"/><circle cx="48.81" cy="636.48" r="0.88" fill="#1010c8" fill-opacity="0.35"/><circle cx="49.48" cy="630.56" r="1.33" fill="#000008" fill-opacity="0.41"/><circle cx="43" cy="622.32" r="0.7" fill="#1010c8" fill-opacity="0.2"/><circle cx="58.38" cy="626.73" r="0.62" fill="#000008" fill-opacity="0.33"/><circle cx="46.32" cy="629.09" r="0.96" fill="#000008" fill-opacity="0.23"/><circle cx="31.36" cy="626.25" r="1.23" fill="#000008" fill-opacity="0.38"/><circle cx="57" cy="627" r="0.95" fill="#000008" fill-opacity="0.3"/><circle cx="53.51" cy="644.25" r="1.03" fill="#000008" fill-opacity="0.3"/><circle cx="56.75" cy="641.78" r="1.16" fill="#000008" fill-opacity="0.36"/><circle cx="54.89" cy="640.7" r="1.21" fill="#000008" fill-opacity="0.24"/><circle cx="64.33" cy="624.62" r="1.34" fill="#000008" fill-opacity="0.41"/><circle cx="41.38" cy="622.1" r="0.73" fill="#000008" fill-opacity="0.31"/><circle cx="32.52" cy="621.79" r="1.27" fill="#1010c8" fill-opacity="0.29"/><circle cx="56.25" cy="618.5" r="1.18" fill="#000008" fill-opacity="0.34"/><circle cx="41.74" cy="620.14" r="0.74" fill="#1010c8" fill-opacity="0.34"/><circle cx="37.1" cy="631.83" r="0.94" fill="#000008" fill-opacity="0.41"/><circle cx="47.24" cy="626.35" r="0.85" fill="#000008" fill-opacity="0.22"/><circle cx="44.12" cy="620.76" r="1.46" fill="#000008" fill-opacity="0.19"/><circle cx="48.55" cy="612.84" r="1.23" fill="#000008" fill-opacity="0.24"/><circle cx="29.79" cy="630.01" r="0.88" fill="#000008" fill-opacity="0.29"/><circle cx="63.49" cy="624.08" r="1.31" fill="#000008" fill-opacity="0.38"/><circle cx="49.62" cy="613.17" r="0.96" fill="#000008" fill-opacity="0.31"/><circle cx="38.05" cy="638.78" r="1.43" fill="#1010c8" fill-opacity="0.39"/><circle cx="30.17" cy="631.29" r="1.41" fill="#000008" fill-opacity="0.36"/><circle cx="58.35" cy="617.9" r="1.33" fill="#000008" fill-opacity="0.33"/><circle cx="53.07" cy="627.52" r="0.9" fill="#1010c8" fill-opacity="0.24"/><circle cx="42.92" cy="621.63" r="1.4" fill="#000008" fill-opacity="0.2"/><circle cx="32.07" cy="628.9" r="0.77" fill="#000008" fill-opacity="0.24"/><circle cx="48.31" cy="634.65" r="0.74" fill="#000008" fill-opacity="0.2"/><circle cx="64.87" cy="629.81" r="1.22" fill="#000008" fill-opacity="0.35"/><circle cx="49.43" cy="614.16" r="0.79" fill="#1010c8" fill-opacity="0.19"/><circle cx="42.89" cy="629.61" r="0.76" fill="#000008" fill-opacity="0.35"/><circle cx="48.26" cy="617.01" r="1.33" fill="#1010c8" fill-opacity="0.4"/><circle cx="55.32" cy="618.89" r="1.41" fill="#000008" fill-opacity="0.31"/><circle cx="44.33" cy="643.52" r="1.31" fill="#1010c8" fill-opacity="0.18"/><circle cx="42.87" cy="632.36" r="1.28" fill="#000008" fill-opacity="0.34"/><circle cx="49.88" cy="641.48" r="1.5" fill="#000008" fill-opacity="0.31"/><circle cx="58.97" cy="636.66" r="0.93" fill="#1010c8" fill-opacity="0.2"/><circle cx="44.91" cy="617.56" r="1.33" fill="#000008" fill-opacity="0.27"/><circle cx="45.57" cy="631.23" r="1.2" fill="#000008" fill-opacity="0.23"/><circle cx="49.38" cy="641.93" r="0.71" fill="#000008" fill-opacity="0.24"/><circle cx="45.62" cy="633.29" r="1.28" fill="#000008" fill-opacity="0.34"/><circle cx="39.11" cy="626.12" r="1.04" fill="#000008" fill-opacity="0.24"/><circle cx="49.94" cy="627.1" r="1.34" fill="#000008" fill-opacity="0.32"/><circle cx="60" cy="636.54" r="1.49" fill="#000008" fill-opacity="0.27"/><circle cx="54.75" cy="631.27" r="1.5" fill="#000008" fill-opacity="0.23"/><circle cx="38.14" cy="636.46" r="1.03" fill="#1010c8" fill-opacity="0.19"/><circle cx="43.58" cy="639.6" r="1.02" fill="#000008" fill-opacity="0.27"/><circle cx="53.38" cy="631.85" r="1.38" fill="#000008" fill-opacity="0.36"/><circle cx="43.75" cy="620.01" r="1.31" fill="#000008" fill-opacity="0.4"/><circle cx="37.05" cy="640.32" r="0.67" fill="#1010c8" fill-opacity="0.25"/><circle cx="53.58" cy="616.47" r="0.84" fill="#1010c8" fill-opacity="0.34"/><circle cx="40.74" cy="618.92" r="1.05" fill="#000008" fill-opacity="0.35"/><circle cx="37.78" cy="634.84" r="1.18" fill="#000008" fill-opacity="0.27"/><circle cx="36.84" cy="616.3" r="1.23" fill="#000008" fill-opacity="0.28"/><circle cx="57.04" cy="631.72" r="1.05" fill="#000008" fill-opacity="0.41"/><circle cx="43.71" cy="633.13" r="0.93" fill="#000008" fill-opacity="0.26"/><circle cx="58.19" cy="633.12" r="1.06" fill="#000008" fill-opacity="0.23"/><circle cx="53.94" cy="626.97" r="1.13" fill="#000008" fill-opacity="0.32"/><circle cx="32.8" cy="628.16" r="1.32" fill="#000008" fill-opacity="0.26"/><circle cx="41.98" cy="618.82" r="0.77" fill="#000008" fill-opacity="0.22"/><circle cx="53.22" cy="640.31" r="0.7" fill="#000008" fill-opacity="0.31"/><circle cx="33.89" cy="625.28" r="0.78" fill="#000008" fill-opacity="0.35"/><circle cx="49.97" cy="614.39" r="1.14" fill="#000008" fill-opacity="0.2"/><circle cx="37.24" cy="631.11" r="1.07" fill="#1010c8" fill-opacity="0.34"/><circle cx="41.59" cy="642.56" r="1.31" fill="#000008" fill-opacity="0.19"/><circle cx="48.44" cy="641.81" r="1.12" fill="#000008" fill-opacity="0.22"/><circle cx="56.85" cy="629.54" r="0.91" fill="#000008" fill-opacity="0.34"/><circle cx="54.43" cy="624.74" r="0.65" fill="#1010c8" fill-opacity="0.25"/><circle cx="32.94" cy="622.54" r="1.28" fill="#000008" fill-opacity="0.22"/><circle cx="41.22" cy="615.31" r="1" fill="#000008" fill-opacity="0.24"/><circle cx="43.72" cy="640.92" r="1.22" fill="#000008" fill-opacity="0.33"/><circle cx="47.5" cy="630.42" r="0.78" fill="#000008" fill-opacity="0.3"/><circle cx="41.07" cy="622.72" r="1.42" fill="#000008" fill-opacity="0.28"/><circle cx="37.64" cy="641.03" r="1.2" fill="#000008" fill-opacity="0.24"/><circle cx="54.22" cy="626.81" r="1.08" fill="#000008" fill-opacity="0.27"/><circle cx="40.14" cy="631.7" r="1.22" fill="#1010c8" fill-opacity="0.3"/><circle cx="41.98" cy="641.81" r="0.73" fill="#1010c8" fill-opacity="0.34"/><circle cx="58.84" cy="634.48" r="1.39" fill="#1010c8" fill-opacity="0.24"/><circle cx="43.93" cy="644.7" r="0.96" fill="#000008" fill-opacity="0.33"/><circle cx="39.87" cy="620.58" r="1.15" fill="#000008" fill-opacity="0.36"/><circle cx="59.52" cy="641.15" r="1.34" fill="#1010c8" fill-opacity="0.41"/><circle cx="48.47" cy="635.35" r="1.47" fill="#000008" fill-opacity="0.34"/><circle cx="45.86" cy="634.08" r="0.72" fill="#000008" fill-opacity="0.27"/><circle cx="33.02" cy="626.95" r="0.64" fill="#000008" fill-opacity="0.33"/><circle cx="33.73" cy="628.85" r="1" fill="#000008" fill-opacity="0.35"/><circle cx="45.21" cy="624.82" r="0.7" fill="#000008" fill-opacity="0.26"/><circle cx="56.17" cy="639.89" r="0.83" fill="#1010c8" fill-opacity="0.33"/><circle cx="41.38" cy="635.36" r="0.72" fill="#1010c8" fill-opacity="0.26"/><circle cx="65.08" cy="623.48" r="1.34" fill="#000008" fill-opacity="0.25"/><circle cx="42.44" cy="617.17" r="0.79" fill="#000008" fill-opacity="0.19"/><circle cx="60.02" cy="617.4" r="1.1" fill="#000008" fill-opacity="0.38"/><circle cx="61.68" cy="632.64" r="1.28" fill="#000008" fill-opacity="0.2"/><circle cx="64.79" cy="621.98" r="0.79" fill="#000008" fill-opacity="0.28"/><circle cx="59.58" cy="640.57" r="1.26" fill="#000008" fill-opacity="0.24"/><circle cx="41.71" cy="621.84" r="1.39" fill="#000008" fill-opacity="0.42"/><circle cx="64.4" cy="627.17" r="1.31" fill="#000008" fill-opacity="0.22"/><circle cx="52.9" cy="644.88" r="1.42" fill="#1010c8" fill-opacity="0.2"/><circle cx="56.66" cy="628.04" r="0.75" fill="#1010c8" fill-opacity="0.31"/><circle cx="34.08" cy="638.85" r="0.63" fill="#000008" fill-opacity="0.25"/><circle cx="34.88" cy="633.11" r="0.66" fill="#000008" fill-opacity="0.41"/><circle cx="66.18" cy="626.48" r="0.93" fill="#000008" fill-opacity="0.33"/><circle cx="44.64" cy="626.48" r="0.77" fill="#000008" fill-opacity="0.25"/><circle cx="58.52" cy="619.15" r="1.42" fill="#000008" fill-opacity="0.22"/><circle cx="45.12" cy="622.16" r="0.92" fill="#000008" fill-opacity="0.31"/><circle cx="33.91" cy="629.63" r="0.67" fill="#000008" fill-opacity="0.23"/><circle cx="38.63" cy="623.11" r="1.35" fill="#000008" fill-opacity="0.34"/><circle cx="47.48" cy="637.73" r="0.88" fill="#000008" fill-opacity="0.33"/><circle cx="57.83" cy="629.67" r="1.17" fill="#000008" fill-opacity="0.4"/><circle cx="39.54" cy="634.33" r="1.08" fill="#1010c8" fill-opacity="0.4"/><circle cx="33.1" cy="636.1" r="1.28" fill="#000008" fill-opacity="0.28"/><circle cx="49.83" cy="619.95" r="1.38" fill="#000008" fill-opacity="0.33"/><circle cx="53.39" cy="615.44" r="1.47" fill="#000008" fill-opacity="0.23"/></g>
<path d="M96.5 619 C97 611 106 608 114 608 C122 608 127.5 612 126.5 621 C125 630 116 632.5 108 631 C100 630 96 627 96.5 619 Z" fill="#06068c" fill-opacity="1" filter="url(#b5)"/>
<g filter="url(#b6)"><circle cx="103.61" cy="612.79" r="0.91" fill="#000008" fill-opacity="0.39"/><circle cx="106.99" cy="621.92" r="1.22" fill="#1010c8" fill-opacity="0.4"/><circle cx="116.7" cy="611.42" r="1.13" fill="#1010c8" fill-opacity="0.25"/><circle cx="103.75" cy="626.65" r="1.44" fill="#000008" fill-opacity="0.37"/><circle cx="123.03" cy="621.26" r="1.15" fill="#000008" fill-opacity="0.24"/><circle cx="122.92" cy="616.44" r="1.46" fill="#000008" fill-opacity="0.34"/><circle cx="102.56" cy="626.18" r="0.77" fill="#000008" fill-opacity="0.19"/><circle cx="112.3" cy="611.11" r="1.06" fill="#1010c8" fill-opacity="0.3"/><circle cx="109.24" cy="623.06" r="0.88" fill="#1010c8" fill-opacity="0.27"/><circle cx="113.56" cy="616.15" r="1.09" fill="#000008" fill-opacity="0.28"/><circle cx="115.83" cy="620.54" r="1.5" fill="#000008" fill-opacity="0.27"/><circle cx="109.79" cy="618.15" r="1.46" fill="#1010c8" fill-opacity="0.3"/><circle cx="109.02" cy="612.33" r="0.75" fill="#1010c8" fill-opacity="0.31"/><circle cx="107.73" cy="616.74" r="0.77" fill="#000008" fill-opacity="0.19"/><circle cx="112.39" cy="625.62" r="0.78" fill="#000008" fill-opacity="0.35"/><circle cx="100.3" cy="618.3" r="1.43" fill="#1010c8" fill-opacity="0.29"/><circle cx="120.16" cy="619.97" r="1.13" fill="#000008" fill-opacity="0.42"/><circle cx="117.59" cy="619.49" r="1.18" fill="#000008" fill-opacity="0.26"/><circle cx="118.6" cy="626.08" r="1.45" fill="#000008" fill-opacity="0.18"/><circle cx="111.5" cy="622.56" r="0.75" fill="#000008" fill-opacity="0.35"/><circle cx="109.86" cy="615.61" r="1.47" fill="#000008" fill-opacity="0.26"/><circle cx="101.95" cy="614.61" r="1.38" fill="#000008" fill-opacity="0.22"/><circle cx="105.91" cy="612.35" r="0.79" fill="#000008" fill-opacity="0.26"/><circle cx="117.37" cy="628.08" r="0.63" fill="#1010c8" fill-opacity="0.27"/><circle cx="104.08" cy="619.81" r="1.28" fill="#000008" fill-opacity="0.35"/><circle cx="110.61" cy="615.23" r="0.84" fill="#000008" fill-opacity="0.2"/><circle cx="115.64" cy="613.5" r="1.18" fill="#1010c8" fill-opacity="0.19"/><circle cx="111.47" cy="621.97" r="1.04" fill="#000008" fill-opacity="0.19"/><circle cx="120.16" cy="614.93" r="0.73" fill="#000008" fill-opacity="0.26"/><circle cx="120.6" cy="626.04" r="0.94" fill="#000008" fill-opacity="0.33"/><circle cx="103.39" cy="625.75" r="1.1" fill="#1010c8" fill-opacity="0.27"/><circle cx="120.21" cy="620.24" r="0.85" fill="#000008" fill-opacity="0.22"/><circle cx="119.97" cy="620.19" r="1.34" fill="#000008" fill-opacity="0.41"/><circle cx="103.76" cy="618.21" r="1.29" fill="#1010c8" fill-opacity="0.27"/><circle cx="115.39" cy="614.2" r="0.65" fill="#000008" fill-opacity="0.27"/><circle cx="104.9" cy="620.34" r="0.74" fill="#1010c8" fill-opacity="0.31"/><circle cx="120.62" cy="621.87" r="1.29" fill="#000008" fill-opacity="0.19"/><circle cx="122.71" cy="623.54" r="1.34" fill="#1010c8" fill-opacity="0.2"/><circle cx="111.62" cy="628.33" r="0.97" fill="#1010c8" fill-opacity="0.33"/><circle cx="117.5" cy="616.82" r="1.45" fill="#1010c8" fill-opacity="0.35"/><circle cx="115.31" cy="616.61" r="0.81" fill="#000008" fill-opacity="0.19"/><circle cx="122.15" cy="616.17" r="0.88" fill="#000008" fill-opacity="0.2"/><circle cx="110.13" cy="616.81" r="1.03" fill="#000008" fill-opacity="0.28"/><circle cx="107.85" cy="625.95" r="1.09" fill="#000008" fill-opacity="0.39"/><circle cx="122.98" cy="617.62" r="1.46" fill="#000008" fill-opacity="0.3"/><circle cx="104.44" cy="612.94" r="0.88" fill="#000008" fill-opacity="0.21"/><circle cx="111.02" cy="625.73" r="0.66" fill="#000008" fill-opacity="0.26"/><circle cx="108.52" cy="627.88" r="1.01" fill="#000008" fill-opacity="0.33"/><circle cx="100.22" cy="623.54" r="1.2" fill="#1010c8" fill-opacity="0.27"/><circle cx="110.33" cy="625.29" r="1.03" fill="#000008" fill-opacity="0.33"/><circle cx="114.74" cy="610.89" r="1.13" fill="#1010c8" fill-opacity="0.25"/><circle cx="104.98" cy="623.59" r="0.9" fill="#1010c8" fill-opacity="0.28"/><circle cx="112.93" cy="613.82" r="1.43" fill="#000008" fill-opacity="0.31"/></g>
<path d="M156.5 622 C157 614 163 610.5 169 610.5 C176 610.5 180.5 617 180 626 C179.5 634 174 637.5 169 637 C162 636 156 631 156.5 622 Z" fill="#06068c" fill-opacity="1" filter="url(#b5)"/>
<g filter="url(#b6)"><circle cx="170.14" cy="622.32" r="0.72" fill="#000008" fill-opacity="0.23"/><circle cx="167.19" cy="617.86" r="0.62" fill="#000008" fill-opacity="0.2"/><circle cx="172.5" cy="622.27" r="1.26" fill="#000008" fill-opacity="0.27"/><circle cx="170.08" cy="627.47" r="1.47" fill="#000008" fill-opacity="0.27"/><circle cx="173.5" cy="621.11" r="1.19" fill="#000008" fill-opacity="0.26"/><circle cx="160.01" cy="623.43" r="1.13" fill="#000008" fill-opacity="0.29"/><circle cx="171.15" cy="617" r="0.89" fill="#000008" fill-opacity="0.38"/><circle cx="162.21" cy="615.51" r="0.64" fill="#000008" fill-opacity="0.25"/><circle cx="169.76" cy="631.05" r="0.93" fill="#000008" fill-opacity="0.25"/><circle cx="164.4" cy="630.11" r="0.83" fill="#000008" fill-opacity="0.21"/><circle cx="173.98" cy="628.56" r="0.81" fill="#1010c8" fill-opacity="0.31"/><circle cx="176.67" cy="626.04" r="0.75" fill="#1010c8" fill-opacity="0.41"/><circle cx="159.42" cy="622.16" r="1.33" fill="#000008" fill-opacity="0.34"/><circle cx="177.28" cy="624.85" r="1.27" fill="#1010c8" fill-opacity="0.26"/><circle cx="177.79" cy="621.29" r="0.67" fill="#000008" fill-opacity="0.29"/><circle cx="160.37" cy="624.64" r="1.09" fill="#000008" fill-opacity="0.38"/><circle cx="163.36" cy="622.28" r="1" fill="#1010c8" fill-opacity="0.26"/><circle cx="176.2" cy="628.13" r="1.22" fill="#000008" fill-opacity="0.38"/><circle cx="171.09" cy="618.25" r="0.97" fill="#000008" fill-opacity="0.37"/><circle cx="169.44" cy="625.1" r="0.7" fill="#1010c8" fill-opacity="0.33"/><circle cx="164.95" cy="625.31" r="0.82" fill="#1010c8" fill-opacity="0.41"/><circle cx="159.87" cy="625.36" r="0.81" fill="#000008" fill-opacity="0.31"/><circle cx="167.71" cy="622.89" r="0.6" fill="#000008" fill-opacity="0.27"/><circle cx="174.01" cy="616.12" r="0.78" fill="#1010c8" fill-opacity="0.34"/><circle cx="161.76" cy="622.89" r="0.67" fill="#000008" fill-opacity="0.35"/><circle cx="167.9" cy="628.16" r="1.1" fill="#000008" fill-opacity="0.31"/><circle cx="164.26" cy="632.77" r="1.39" fill="#000008" fill-opacity="0.39"/><circle cx="168.26" cy="630.09" r="1.14" fill="#000008" fill-opacity="0.25"/><circle cx="164.69" cy="620.69" r="1.46" fill="#000008" fill-opacity="0.26"/><circle cx="166.05" cy="622.23" r="1.03" fill="#1010c8" fill-opacity="0.31"/><circle cx="163.41" cy="619.12" r="0.8" fill="#000008" fill-opacity="0.24"/><circle cx="175.35" cy="624.05" r="1.02" fill="#000008" fill-opacity="0.21"/><circle cx="169.62" cy="622.73" r="0.83" fill="#1010c8" fill-opacity="0.38"/><circle cx="170.98" cy="613.94" r="0.85" fill="#1010c8" fill-opacity="0.27"/><circle cx="161.23" cy="631.42" r="1.26" fill="#000008" fill-opacity="0.27"/><circle cx="171.89" cy="619.45" r="1.42" fill="#000008" fill-opacity="0.34"/><circle cx="158.68" cy="626.44" r="1.26" fill="#000008" fill-opacity="0.29"/><circle cx="172.48" cy="625.54" r="1.34" fill="#000008" fill-opacity="0.32"/><circle cx="170.13" cy="620.19" r="0.68" fill="#000008" fill-opacity="0.39"/><circle cx="162.42" cy="622.38" r="1.16" fill="#000008" fill-opacity="0.31"/><circle cx="175.48" cy="622.59" r="1.19" fill="#000008" fill-opacity="0.36"/><circle cx="176.81" cy="619.86" r="1.48" fill="#1010c8" fill-opacity="0.42"/><circle cx="160.88" cy="621.36" r="1.35" fill="#000008" fill-opacity="0.19"/><circle cx="166.2" cy="628.93" r="1.08" fill="#000008" fill-opacity="0.23"/><circle cx="166.44" cy="614.29" r="0.98" fill="#000008" fill-opacity="0.38"/><circle cx="170.09" cy="622.12" r="0.88" fill="#000008" fill-opacity="0.34"/><circle cx="167.21" cy="616.81" r="1.12" fill="#1010c8" fill-opacity="0.41"/><circle cx="169.03" cy="626.71" r="1.15" fill="#000008" fill-opacity="0.4"/><circle cx="166.9" cy="614.38" r="0.95" fill="#1010c8" fill-opacity="0.27"/></g>
<path d="M218.5 611 C218.5 604 224 600 230 600.5 C236 601 240 603 242.5 607 C246 611 246.5 619 244.5 625 C243 630 239 631.5 235 630.5 C231 629.5 229 626 226 624 C221 621 218.5 617 218.5 611 Z" fill="#06068c" fill-opacity="1" filter="url(#b5)"/>
<g filter="url(#b6)"><circle cx="236.88" cy="623.49" r="1.5" fill="#000008" fill-opacity="0.23"/><circle cx="235.93" cy="604.79" r="0.74" fill="#000008" fill-opacity="0.35"/><circle cx="237.16" cy="621.65" r="1.38" fill="#000008" fill-opacity="0.42"/><circle cx="223.16" cy="615.42" r="1.27" fill="#1010c8" fill-opacity="0.29"/><circle cx="227.51" cy="626.33" r="1.28" fill="#000008" fill-opacity="0.38"/><circle cx="224.13" cy="610.67" r="1.09" fill="#000008" fill-opacity="0.27"/><circle cx="227.77" cy="624.87" r="0.69" fill="#000008" fill-opacity="0.34"/><circle cx="238.88" cy="622.98" r="1.37" fill="#1010c8" fill-opacity="0.24"/><circle cx="237.58" cy="625.62" r="1.04" fill="#000008" fill-opacity="0.22"/><circle cx="223.79" cy="614.49" r="1.48" fill="#000008" fill-opacity="0.21"/><circle cx="232.13" cy="627.43" r="1.08" fill="#000008" fill-opacity="0.24"/><circle cx="235.01" cy="609.02" r="1.18" fill="#000008" fill-opacity="0.27"/><circle cx="238.78" cy="612.59" r="1.35" fill="#000008" fill-opacity="0.24"/><circle cx="224.77" cy="616.86" r="1.39" fill="#000008" fill-opacity="0.24"/><circle cx="229.04" cy="603.94" r="0.88" fill="#000008" fill-opacity="0.29"/><circle cx="239.16" cy="615.97" r="0.97" fill="#000008" fill-opacity="0.28"/><circle cx="225.58" cy="610.07" r="0.9" fill="#000008" fill-opacity="0.4"/><circle cx="238.86" cy="618.53" r="0.84" fill="#000008" fill-opacity="0.31"/><circle cx="236.42" cy="612.98" r="1.41" fill="#000008" fill-opacity="0.24"/><circle cx="229.29" cy="621.51" r="1.25" fill="#000008" fill-opacity="0.28"/><circle cx="220.95" cy="614.06" r="1.31" fill="#000008" fill-opacity="0.38"/><circle cx="232.68" cy="624.98" r="1" fill="#000008" fill-opacity="0.22"/><circle cx="233.31" cy="620.02" r="1.42" fill="#000008" fill-opacity="0.37"/><circle cx="223.74" cy="615.1" r="1.32" fill="#000008" fill-opacity="0.3"/><circle cx="236.69" cy="608.87" r="1.01" fill="#000008" fill-opacity="0.34"/><circle cx="229.95" cy="627.24" r="1.35" fill="#1010c8" fill-opacity="0.26"/><circle cx="224.9" cy="606.33" r="1.47" fill="#000008" fill-opacity="0.25"/><circle cx="240.52" cy="608.3" r="0.82" fill="#000008" fill-opacity="0.25"/><circle cx="237.69" cy="617.71" r="0.81" fill="#1010c8" fill-opacity="0.24"/><circle cx="243.05" cy="616.6" r="0.91" fill="#000008" fill-opacity="0.36"/><circle cx="236.35" cy="606.39" r="0.76" fill="#000008" fill-opacity="0.38"/><circle cx="237.36" cy="608.16" r="0.88" fill="#000008" fill-opacity="0.34"/><circle cx="237.71" cy="608.46" r="0.81" fill="#000008" fill-opacity="0.41"/><circle cx="233.19" cy="625.99" r="1.17" fill="#000008" fill-opacity="0.32"/><circle cx="241.94" cy="611.61" r="1.34" fill="#000008" fill-opacity="0.41"/><circle cx="232.2" cy="610.82" r="1" fill="#000008" fill-opacity="0.4"/><circle cx="228.72" cy="613.72" r="0.81" fill="#000008" fill-opacity="0.21"/><circle cx="232.44" cy="626.68" r="0.87" fill="#1010c8" fill-opacity="0.37"/><circle cx="239.63" cy="617.08" r="0.78" fill="#000008" fill-opacity="0.35"/><circle cx="236.29" cy="607.84" r="0.7" fill="#000008" fill-opacity="0.38"/><circle cx="240.87" cy="615.42" r="1.24" fill="#000008" fill-opacity="0.22"/><circle cx="232.45" cy="613.7" r="0.75" fill="#1010c8" fill-opacity="0.38"/><circle cx="223.77" cy="617.77" r="0.67" fill="#1010c8" fill-opacity="0.3"/><circle cx="220.6" cy="615.23" r="1.46" fill="#000008" fill-opacity="0.3"/><circle cx="241.42" cy="620.73" r="0.92" fill="#1010c8" fill-opacity="0.2"/><circle cx="235.16" cy="605.31" r="0.76" fill="#000008" fill-opacity="0.33"/><circle cx="225.13" cy="606.87" r="1.48" fill="#000008" fill-opacity="0.24"/><circle cx="231.43" cy="612.03" r="1.09" fill="#000008" fill-opacity="0.25"/><circle cx="231.31" cy="620.98" r="0.82" fill="#000008" fill-opacity="0.34"/><circle cx="232.84" cy="621.62" r="0.85" fill="#000008" fill-opacity="0.34"/><circle cx="233.32" cy="615.11" r="1.16" fill="#000008" fill-opacity="0.36"/><circle cx="239.7" cy="621.96" r="1.12" fill="#1010c8" fill-opacity="0.22"/><circle cx="229" cy="624.05" r="1.16" fill="#000008" fill-opacity="0.21"/><circle cx="224.19" cy="618.9" r="0.77" fill="#000008" fill-opacity="0.41"/><circle cx="234.79" cy="626.38" r="0.78" fill="#000008" fill-opacity="0.23"/><circle cx="240.35" cy="613.36" r="1.27" fill="#000008" fill-opacity="0.32"/><circle cx="237.05" cy="615.54" r="1.25" fill="#000008" fill-opacity="0.21"/><circle cx="237.15" cy="622.4" r="0.6" fill="#000008" fill-opacity="0.4"/><circle cx="224.79" cy="615.83" r="0.72" fill="#000008" fill-opacity="0.24"/><circle cx="238.2" cy="622.09" r="0.89" fill="#000008" fill-opacity="0.2"/><circle cx="234.6" cy="614.94" r="0.63" fill="#000008" fill-opacity="0.33"/><circle cx="230.1" cy="615.54" r="0.85" fill="#1010c8" fill-opacity="0.36"/><circle cx="234.3" cy="613.35" r="0.74" fill="#000008" fill-opacity="0.22"/><circle cx="237.9" cy="606.03" r="1.43" fill="#000008" fill-opacity="0.4"/><circle cx="235.02" cy="603.28" r="1.2" fill="#000008" fill-opacity="0.32"/></g>
<path d="M27 683.8 C27 669.8 38 664.8 50 665.8 C62 666.8 71 673.8 70 687.8 C69 700.8 60 706.8 50 705.8 C38 706.8 27 697.8 27 683.8 Z" fill="#06068c" fill-opacity="1" filter="url(#b5)"/>
<g filter="url(#b6)"><circle cx="35.77" cy="692.75" r="1.03" fill="#000008" fill-opacity="0.23"/><circle cx="59.62" cy="696.77" r="1.05" fill="#000008" fill-opacity="0.24"/><circle cx="51.74" cy="671.66" r="0.81" fill="#000008" fill-opacity="0.24"/><circle cx="57.57" cy="699.05" r="0.63" fill="#000008" fill-opacity="0.26"/><circle cx="48.41" cy="673.24" r="0.93" fill="#1010c8" fill-opacity="0.22"/><circle cx="60.57" cy="673.55" r="1.01" fill="#1010c8" fill-opacity="0.31"/><circle cx="42.53" cy="685.78" r="0.63" fill="#000008" fill-opacity="0.39"/><circle cx="38.42" cy="695.83" r="1.47" fill="#000008" fill-opacity="0.39"/><circle cx="58.18" cy="695.23" r="1.26" fill="#000008" fill-opacity="0.21"/><circle cx="47.6" cy="697.42" r="1.43" fill="#000008" fill-opacity="0.39"/><circle cx="45.06" cy="681.72" r="0.95" fill="#000008" fill-opacity="0.42"/><circle cx="44.19" cy="670.21" r="1.25" fill="#000008" fill-opacity="0.42"/><circle cx="48.35" cy="686.01" r="1.27" fill="#000008" fill-opacity="0.23"/><circle cx="52.64" cy="688.22" r="0.76" fill="#000008" fill-opacity="0.22"/><circle cx="42.73" cy="700.82" r="1.14" fill="#000008" fill-opacity="0.25"/><circle cx="60.42" cy="695.72" r="1.22" fill="#000008" fill-opacity="0.34"/><circle cx="44.97" cy="702.93" r="1.13" fill="#1010c8" fill-opacity="0.39"/><circle cx="48.15" cy="682.07" r="1.39" fill="#000008" fill-opacity="0.22"/><circle cx="58.91" cy="685.73" r="0.65" fill="#1010c8" fill-opacity="0.24"/><circle cx="40.52" cy="683.56" r="0.66" fill="#000008" fill-opacity="0.26"/><circle cx="57.84" cy="685.59" r="1.46" fill="#000008" fill-opacity="0.31"/><circle cx="37.56" cy="697.8" r="1.39" fill="#000008" fill-opacity="0.32"/><circle cx="45.69" cy="689.06" r="0.88" fill="#1010c8" fill-opacity="0.31"/><circle cx="39.99" cy="695.42" r="1.22" fill="#000008" fill-opacity="0.41"/><circle cx="30.39" cy="689.49" r="1.37" fill="#000008" fill-opacity="0.32"/><circle cx="39.27" cy="683.09" r="1.42" fill="#1010c8" fill-opacity="0.21"/><circle cx="30.46" cy="684.49" r="1.38" fill="#000008" fill-opacity="0.34"/><circle cx="34.31" cy="687.61" r="1.04" fill="#000008" fill-opacity="0.23"/><circle cx="35.81" cy="675.55" r="1.24" fill="#000008" fill-opacity="0.31"/><circle cx="62.71" cy="695.62" r="0.61" fill="#000008" fill-opacity="0.29"/><circle cx="36.16" cy="693.49" r="1.23" fill="#000008" fill-opacity="0.26"/><circle cx="31.09" cy="682.52" r="1.41" fill="#000008" fill-opacity="0.25"/><circle cx="48.62" cy="687.98" r="0.69" fill="#1010c8" fill-opacity="0.32"/><circle cx="48.81" cy="694.28" r="0.88" fill="#1010c8" fill-opacity="0.35"/><circle cx="49.48" cy="688.36" r="1.33" fill="#000008" fill-opacity="0.41"/><circle cx="43" cy="680.12" r="0.7" fill="#1010c8" fill-opacity="0.2"/><circle cx="58.38" cy="684.53" r="0.62" fill="#000008" fill-opacity="0.33"/><circle cx="46.32" cy="686.89" r="0.96" fill="#000008" fill-opacity="0.23"/><circle cx="31.36" cy="684.05" r="1.23" fill="#000008" fill-opacity="0.38"/><circle cx="57" cy="684.8" r="0.95" fill="#000008" fill-opacity="0.3"/><circle cx="53.51" cy="702.05" r="1.03" fill="#000008" fill-opacity="0.3"/><circle cx="56.75" cy="699.58" r="1.16" fill="#000008" fill-opacity="0.36"/><circle cx="54.89" cy="698.5" r="1.21" fill="#000008" fill-opacity="0.24"/><circle cx="64.33" cy="682.42" r="1.34" fill="#000008" fill-opacity="0.41"/><circle cx="41.38" cy="679.9" r="0.73" fill="#000008" fill-opacity="0.31"/><circle cx="32.52" cy="679.59" r="1.27" fill="#1010c8" fill-opacity="0.29"/><circle cx="56.25" cy="676.3" r="1.18" fill="#000008" fill-opacity="0.34"/><circle cx="41.74" cy="677.94" r="0.74" fill="#1010c8" fill-opacity="0.34"/><circle cx="37.1" cy="689.63" r="0.94" fill="#000008" fill-opacity="0.41"/><circle cx="47.24" cy="684.15" r="0.85" fill="#000008" fill-opacity="0.22"/><circle cx="44.12" cy="678.56" r="1.46" fill="#000008" fill-opacity="0.19"/><circle cx="48.55" cy="670.64" r="1.23" fill="#000008" fill-opacity="0.24"/><circle cx="29.79" cy="687.81" r="0.88" fill="#000008" fill-opacity="0.29"/><circle cx="63.49" cy="681.88" r="1.31" fill="#000008" fill-opacity="0.38"/><circle cx="49.62" cy="670.97" r="0.96" fill="#000008" fill-opacity="0.31"/><circle cx="38.05" cy="696.58" r="1.43" fill="#1010c8" fill-opacity="0.39"/><circle cx="30.17" cy="689.09" r="1.41" fill="#000008" fill-opacity="0.36"/><circle cx="58.35" cy="675.7" r="1.33" fill="#000008" fill-opacity="0.33"/><circle cx="53.07" cy="685.32" r="0.9" fill="#1010c8" fill-opacity="0.24"/><circle cx="42.92" cy="679.43" r="1.4" fill="#000008" fill-opacity="0.2"/><circle cx="32.07" cy="686.7" r="0.77" fill="#000008" fill-opacity="0.24"/><circle cx="48.31" cy="692.45" r="0.74" fill="#000008" fill-opacity="0.2"/><circle cx="64.87" cy="687.61" r="1.22" fill="#000008" fill-opacity="0.35"/><circle cx="49.43" cy="671.96" r="0.79" fill="#1010c8" fill-opacity="0.19"/><circle cx="42.89" cy="687.41" r="0.76" fill="#000008" fill-opacity="0.35"/><circle cx="48.26" cy="674.81" r="1.33" fill="#1010c8" fill-opacity="0.4"/><circle cx="55.32" cy="676.69" r="1.41" fill="#000008" fill-opacity="0.31"/><circle cx="44.33" cy="701.32" r="1.31" fill="#1010c8" fill-opacity="0.18"/><circle cx="42.87" cy="690.16" r="1.28" fill="#000008" fill-opacity="0.34"/><circle cx="49.88" cy="699.28" r="1.5" fill="#000008" fill-opacity="0.31"/><circle cx="58.97" cy="694.46" r="0.93" fill="#1010c8" fill-opacity="0.2"/><circle cx="44.91" cy="675.36" r="1.33" fill="#000008" fill-opacity="0.27"/><circle cx="45.57" cy="689.03" r="1.2" fill="#000008" fill-opacity="0.23"/><circle cx="49.38" cy="699.73" r="0.71" fill="#000008" fill-opacity="0.24"/><circle cx="45.62" cy="691.09" r="1.28" fill="#000008" fill-opacity="0.34"/><circle cx="39.11" cy="683.92" r="1.04" fill="#000008" fill-opacity="0.24"/><circle cx="49.94" cy="684.9" r="1.34" fill="#000008" fill-opacity="0.32"/><circle cx="60" cy="694.34" r="1.49" fill="#000008" fill-opacity="0.27"/><circle cx="54.75" cy="689.07" r="1.5" fill="#000008" fill-opacity="0.23"/><circle cx="38.14" cy="694.26" r="1.03" fill="#1010c8" fill-opacity="0.19"/><circle cx="43.58" cy="697.4" r="1.02" fill="#000008" fill-opacity="0.27"/><circle cx="53.38" cy="689.65" r="1.38" fill="#000008" fill-opacity="0.36"/><circle cx="43.75" cy="677.81" r="1.31" fill="#000008" fill-opacity="0.4"/><circle cx="37.05" cy="698.12" r="0.67" fill="#1010c8" fill-opacity="0.25"/><circle cx="53.58" cy="674.27" r="0.84" fill="#1010c8" fill-opacity="0.34"/><circle cx="40.74" cy="676.72" r="1.05" fill="#000008" fill-opacity="0.35"/><circle cx="37.78" cy="692.64" r="1.18" fill="#000008" fill-opacity="0.27"/><circle cx="36.84" cy="674.1" r="1.23" fill="#000008" fill-opacity="0.28"/><circle cx="57.04" cy="689.52" r="1.05" fill="#000008" fill-opacity="0.41"/><circle cx="43.71" cy="690.93" r="0.93" fill="#000008" fill-opacity="0.26"/><circle cx="58.19" cy="690.92" r="1.06" fill="#000008" fill-opacity="0.23"/><circle cx="53.94" cy="684.77" r="1.13" fill="#000008" fill-opacity="0.32"/><circle cx="32.8" cy="685.96" r="1.32" fill="#000008" fill-opacity="0.26"/><circle cx="41.98" cy="676.62" r="0.77" fill="#000008" fill-opacity="0.22"/><circle cx="53.22" cy="698.11" r="0.7" fill="#000008" fill-opacity="0.31"/><circle cx="33.89" cy="683.08" r="0.78" fill="#000008" fill-opacity="0.35"/><circle cx="49.97" cy="672.19" r="1.14" fill="#000008" fill-opacity="0.2"/><circle cx="37.24" cy="688.91" r="1.07" fill="#1010c8" fill-opacity="0.34"/><circle cx="41.59" cy="700.36" r="1.31" fill="#000008" fill-opacity="0.19"/><circle cx="48.44" cy="699.61" r="1.12" fill="#000008" fill-opacity="0.22"/><circle cx="56.85" cy="687.34" r="0.91" fill="#000008" fill-opacity="0.34"/><circle cx="54.43" cy="682.54" r="0.65" fill="#1010c8" fill-opacity="0.25"/><circle cx="32.94" cy="680.34" r="1.28" fill="#000008" fill-opacity="0.22"/><circle cx="41.22" cy="673.11" r="1" fill="#000008" fill-opacity="0.24"/><circle cx="43.72" cy="698.72" r="1.22" fill="#000008" fill-opacity="0.33"/><circle cx="47.5" cy="688.22" r="0.78" fill="#000008" fill-opacity="0.3"/><circle cx="41.07" cy="680.52" r="1.42" fill="#000008" fill-opacity="0.28"/><circle cx="37.64" cy="698.83" r="1.2" fill="#000008" fill-opacity="0.24"/><circle cx="54.22" cy="684.61" r="1.08" fill="#000008" fill-opacity="0.27"/><circle cx="40.14" cy="689.5" r="1.22" fill="#1010c8" fill-opacity="0.3"/><circle cx="41.98" cy="699.61" r="0.73" fill="#1010c8" fill-opacity="0.34"/><circle cx="58.84" cy="692.28" r="1.39" fill="#1010c8" fill-opacity="0.24"/><circle cx="43.93" cy="702.5" r="0.96" fill="#000008" fill-opacity="0.33"/><circle cx="39.87" cy="678.38" r="1.15" fill="#000008" fill-opacity="0.36"/><circle cx="59.52" cy="698.95" r="1.34" fill="#1010c8" fill-opacity="0.41"/><circle cx="48.47" cy="693.15" r="1.47" fill="#000008" fill-opacity="0.34"/><circle cx="45.86" cy="691.88" r="0.72" fill="#000008" fill-opacity="0.27"/><circle cx="33.02" cy="684.75" r="0.64" fill="#000008" fill-opacity="0.33"/><circle cx="33.73" cy="686.65" r="1" fill="#000008" fill-opacity="0.35"/><circle cx="45.21" cy="682.62" r="0.7" fill="#000008" fill-opacity="0.26"/><circle cx="56.17" cy="697.69" r="0.83" fill="#1010c8" fill-opacity="0.33"/><circle cx="41.38" cy="693.16" r="0.72" fill="#1010c8" fill-opacity="0.26"/><circle cx="65.08" cy="681.28" r="1.34" fill="#000008" fill-opacity="0.25"/><circle cx="42.44" cy="674.97" r="0.79" fill="#000008" fill-opacity="0.19"/><circle cx="60.02" cy="675.2" r="1.1" fill="#000008" fill-opacity="0.38"/><circle cx="61.68" cy="690.44" r="1.28" fill="#000008" fill-opacity="0.2"/><circle cx="64.79" cy="679.78" r="0.79" fill="#000008" fill-opacity="0.28"/><circle cx="59.58" cy="698.37" r="1.26" fill="#000008" fill-opacity="0.24"/><circle cx="41.71" cy="679.64" r="1.39" fill="#000008" fill-opacity="0.42"/><circle cx="64.4" cy="684.97" r="1.31" fill="#000008" fill-opacity="0.22"/><circle cx="52.9" cy="702.68" r="1.42" fill="#1010c8" fill-opacity="0.2"/><circle cx="56.66" cy="685.84" r="0.75" fill="#1010c8" fill-opacity="0.31"/><circle cx="34.08" cy="696.65" r="0.63" fill="#000008" fill-opacity="0.25"/><circle cx="34.88" cy="690.91" r="0.66" fill="#000008" fill-opacity="0.41"/><circle cx="66.18" cy="684.28" r="0.93" fill="#000008" fill-opacity="0.33"/><circle cx="44.64" cy="684.28" r="0.77" fill="#000008" fill-opacity="0.25"/><circle cx="58.52" cy="676.95" r="1.42" fill="#000008" fill-opacity="0.22"/><circle cx="45.12" cy="679.96" r="0.92" fill="#000008" fill-opacity="0.31"/><circle cx="33.91" cy="687.43" r="0.67" fill="#000008" fill-opacity="0.23"/><circle cx="38.63" cy="680.91" r="1.35" fill="#000008" fill-opacity="0.34"/><circle cx="47.48" cy="695.53" r="0.88" fill="#000008" fill-opacity="0.33"/><circle cx="57.83" cy="687.47" r="1.17" fill="#000008" fill-opacity="0.4"/><circle cx="39.54" cy="692.13" r="1.08" fill="#1010c8" fill-opacity="0.4"/><circle cx="33.1" cy="693.9" r="1.28" fill="#000008" fill-opacity="0.28"/><circle cx="49.83" cy="677.75" r="1.38" fill="#000008" fill-opacity="0.33"/><circle cx="53.39" cy="673.24" r="1.47" fill="#000008" fill-opacity="0.23"/></g>
<path d="M96.5 676.8 C97 668.8 106 665.8 114 665.8 C122 665.8 127.5 669.8 126.5 678.8 C125 687.8 116 690.3 108 688.8 C100 687.8 96 684.8 96.5 676.8 Z" fill="#06068c" fill-opacity="1" filter="url(#b5)"/>
<g filter="url(#b6)"><circle cx="103.61" cy="670.59" r="0.91" fill="#000008" fill-opacity="0.39"/><circle cx="106.99" cy="679.72" r="1.22" fill="#1010c8" fill-opacity="0.4"/><circle cx="116.7" cy="669.22" r="1.13" fill="#1010c8" fill-opacity="0.25"/><circle cx="103.75" cy="684.45" r="1.44" fill="#000008" fill-opacity="0.37"/><circle cx="123.03" cy="679.06" r="1.15" fill="#000008" fill-opacity="0.24"/><circle cx="122.92" cy="674.24" r="1.46" fill="#000008" fill-opacity="0.34"/><circle cx="102.56" cy="683.98" r="0.77" fill="#000008" fill-opacity="0.19"/><circle cx="112.3" cy="668.91" r="1.06" fill="#1010c8" fill-opacity="0.3"/><circle cx="109.24" cy="680.86" r="0.88" fill="#1010c8" fill-opacity="0.27"/><circle cx="113.56" cy="673.95" r="1.09" fill="#000008" fill-opacity="0.28"/><circle cx="115.83" cy="678.34" r="1.5" fill="#000008" fill-opacity="0.27"/><circle cx="109.79" cy="675.95" r="1.46" fill="#1010c8" fill-opacity="0.3"/><circle cx="109.02" cy="670.13" r="0.75" fill="#1010c8" fill-opacity="0.31"/><circle cx="107.73" cy="674.54" r="0.77" fill="#000008" fill-opacity="0.19"/><circle cx="112.39" cy="683.42" r="0.78" fill="#000008" fill-opacity="0.35"/><circle cx="100.3" cy="676.1" r="1.43" fill="#1010c8" fill-opacity="0.29"/><circle cx="120.16" cy="677.77" r="1.13" fill="#000008" fill-opacity="0.42"/><circle cx="117.59" cy="677.29" r="1.18" fill="#000008" fill-opacity="0.26"/><circle cx="118.6" cy="683.88" r="1.45" fill="#000008" fill-opacity="0.18"/><circle cx="111.5" cy="680.36" r="0.75" fill="#000008" fill-opacity="0.35"/><circle cx="109.86" cy="673.41" r="1.47" fill="#000008" fill-opacity="0.26"/><circle cx="101.95" cy="672.41" r="1.38" fill="#000008" fill-opacity="0.22"/><circle cx="105.91" cy="670.15" r="0.79" fill="#000008" fill-opacity="0.26"/><circle cx="117.37" cy="685.88" r="0.63" fill="#1010c8" fill-opacity="0.27"/><circle cx="104.08" cy="677.61" r="1.28" fill="#000008" fill-opacity="0.35"/><circle cx="110.61" cy="673.03" r="0.84" fill="#000008" fill-opacity="0.2"/><circle cx="115.64" cy="671.3" r="1.18" fill="#1010c8" fill-opacity="0.19"/><circle cx="111.47" cy="679.77" r="1.04" fill="#000008" fill-opacity="0.19"/><circle cx="120.16" cy="672.73" r="0.73" fill="#000008" fill-opacity="0.26"/><circle cx="120.6" cy="683.84" r="0.94" fill="#000008" fill-opacity="0.33"/><circle cx="103.39" cy="683.55" r="1.1" fill="#1010c8" fill-opacity="0.27"/><circle cx="120.21" cy="678.04" r="0.85" fill="#000008" fill-opacity="0.22"/><circle cx="119.97" cy="677.99" r="1.34" fill="#000008" fill-opacity="0.41"/><circle cx="103.76" cy="676.01" r="1.29" fill="#1010c8" fill-opacity="0.27"/><circle cx="115.39" cy="672" r="0.65" fill="#000008" fill-opacity="0.27"/><circle cx="104.9" cy="678.14" r="0.74" fill="#1010c8" fill-opacity="0.31"/><circle cx="120.62" cy="679.67" r="1.29" fill="#000008" fill-opacity="0.19"/><circle cx="122.71" cy="681.34" r="1.34" fill="#1010c8" fill-opacity="0.2"/><circle cx="111.62" cy="686.13" r="0.97" fill="#1010c8" fill-opacity="0.33"/><circle cx="117.5" cy="674.62" r="1.45" fill="#1010c8" fill-opacity="0.35"/><circle cx="115.31" cy="674.41" r="0.81" fill="#000008" fill-opacity="0.19"/><circle cx="122.15" cy="673.97" r="0.88" fill="#000008" fill-opacity="0.2"/><circle cx="110.13" cy="674.61" r="1.03" fill="#000008" fill-opacity="0.28"/><circle cx="107.85" cy="683.75" r="1.09" fill="#000008" fill-opacity="0.39"/><circle cx="122.98" cy="675.42" r="1.46" fill="#000008" fill-opacity="0.3"/><circle cx="104.44" cy="670.74" r="0.88" fill="#000008" fill-opacity="0.21"/><circle cx="111.02" cy="683.53" r="0.66" fill="#000008" fill-opacity="0.26"/><circle cx="108.52" cy="685.68" r="1.01" fill="#000008" fill-opacity="0.33"/><circle cx="100.22" cy="681.34" r="1.2" fill="#1010c8" fill-opacity="0.27"/><circle cx="110.33" cy="683.09" r="1.03" fill="#000008" fill-opacity="0.33"/><circle cx="114.74" cy="668.69" r="1.13" fill="#1010c8" fill-opacity="0.25"/><circle cx="104.98" cy="681.39" r="0.9" fill="#1010c8" fill-opacity="0.28"/><circle cx="112.93" cy="671.62" r="1.43" fill="#000008" fill-opacity="0.31"/></g>
<path d="M156.5 679.8 C157 671.8 163 668.3 169 668.3 C176 668.3 180.5 674.8 180 683.8 C179.5 691.8 174 695.3 169 694.8 C162 693.8 156 688.8 156.5 679.8 Z" fill="#06068c" fill-opacity="1" filter="url(#b5)"/>
<g filter="url(#b6)"><circle cx="170.14" cy="680.12" r="0.72" fill="#000008" fill-opacity="0.23"/><circle cx="167.19" cy="675.66" r="0.62" fill="#000008" fill-opacity="0.2"/><circle cx="172.5" cy="680.07" r="1.26" fill="#000008" fill-opacity="0.27"/><circle cx="170.08" cy="685.27" r="1.47" fill="#000008" fill-opacity="0.27"/><circle cx="173.5" cy="678.91" r="1.19" fill="#000008" fill-opacity="0.26"/><circle cx="160.01" cy="681.23" r="1.13" fill="#000008" fill-opacity="0.29"/><circle cx="171.15" cy="674.8" r="0.89" fill="#000008" fill-opacity="0.38"/><circle cx="162.21" cy="673.31" r="0.64" fill="#000008" fill-opacity="0.25"/><circle cx="169.76" cy="688.85" r="0.93" fill="#000008" fill-opacity="0.25"/><circle cx="164.4" cy="687.91" r="0.83" fill="#000008" fill-opacity="0.21"/><circle cx="173.98" cy="686.36" r="0.81" fill="#1010c8" fill-opacity="0.31"/><circle cx="176.67" cy="683.84" r="0.75" fill="#1010c8" fill-opacity="0.41"/><circle cx="159.42" cy="679.96" r="1.33" fill="#000008" fill-opacity="0.34"/><circle cx="177.28" cy="682.65" r="1.27" fill="#1010c8" fill-opacity="0.26"/><circle cx="177.79" cy="679.09" r="0.67" fill="#000008" fill-opacity="0.29"/><circle cx="160.37" cy="682.44" r="1.09" fill="#000008" fill-opacity="0.38"/><circle cx="163.36" cy="680.08" r="1" fill="#1010c8" fill-opacity="0.26"/><circle cx="176.2" cy="685.93" r="1.22" fill="#000008" fill-opacity="0.38"/><circle cx="171.09" cy="676.05" r="0.97" fill="#000008" fill-opacity="0.37"/><circle cx="169.44" cy="682.9" r="0.7" fill="#1010c8" fill-opacity="0.33"/><circle cx="164.95" cy="683.11" r="0.82" fill="#1010c8" fill-opacity="0.41"/><circle cx="159.87" cy="683.16" r="0.81" fill="#000008" fill-opacity="0.31"/><circle cx="167.71" cy="680.69" r="0.6" fill="#000008" fill-opacity="0.27"/><circle cx="174.01" cy="673.92" r="0.78" fill="#1010c8" fill-opacity="0.34"/><circle cx="161.76" cy="680.69" r="0.67" fill="#000008" fill-opacity="0.35"/><circle cx="167.9" cy="685.96" r="1.1" fill="#000008" fill-opacity="0.31"/><circle cx="164.26" cy="690.57" r="1.39" fill="#000008" fill-opacity="0.39"/><circle cx="168.26" cy="687.89" r="1.14" fill="#000008" fill-opacity="0.25"/><circle cx="164.69" cy="678.49" r="1.46" fill="#000008" fill-opacity="0.26"/><circle cx="166.05" cy="680.03" r="1.03" fill="#1010c8" fill-opacity="0.31"/><circle cx="163.41" cy="676.92" r="0.8" fill="#000008" fill-opacity="0.24"/><circle cx="175.35" cy="681.85" r="1.02" fill="#000008" fill-opacity="0.21"/><circle cx="169.62" cy="680.53" r="0.83" fill="#1010c8" fill-opacity="0.38"/><circle cx="170.98" cy="671.74" r="0.85" fill="#1010c8" fill-opacity="0.27"/><circle cx="161.23" cy="689.22" r="1.26" fill="#000008" fill-opacity="0.27"/><circle cx="171.89" cy="677.25" r="1.42" fill="#000008" fill-opacity="0.34"/><circle cx="158.68" cy="684.24" r="1.26" fill="#000008" fill-opacity="0.29"/><circle cx="172.48" cy="683.34" r="1.34" fill="#000008" fill-opacity="0.32"/><circle cx="170.13" cy="677.99" r="0.68" fill="#000008" fill-opacity="0.39"/><circle cx="162.42" cy="680.18" r="1.16" fill="#000008" fill-opacity="0.31"/><circle cx="175.48" cy="680.39" r="1.19" fill="#000008" fill-opacity="0.36"/><circle cx="176.81" cy="677.66" r="1.48" fill="#1010c8" fill-opacity="0.42"/><circle cx="160.88" cy="679.16" r="1.35" fill="#000008" fill-opacity="0.19"/><circle cx="166.2" cy="686.73" r="1.08" fill="#000008" fill-opacity="0.23"/><circle cx="166.44" cy="672.09" r="0.98" fill="#000008" fill-opacity="0.38"/><circle cx="170.09" cy="679.92" r="0.88" fill="#000008" fill-opacity="0.34"/><circle cx="167.21" cy="674.61" r="1.12" fill="#1010c8" fill-opacity="0.41"/><circle cx="169.03" cy="684.51" r="1.15" fill="#000008" fill-opacity="0.4"/><circle cx="166.9" cy="672.18" r="0.95" fill="#1010c8" fill-opacity="0.27"/></g>
<path d="M218.5 668.8 C218.5 661.8 224 657.8 230 658.3 C236 658.8 240 660.8 242.5 664.8 C246 668.8 246.5 676.8 244.5 682.8 C243 687.8 239 689.3 235 688.3 C231 687.3 229 683.8 226 681.8 C221 678.8 218.5 674.8 218.5 668.8 Z" fill="#06068c" fill-opacity="1" filter="url(#b5)"/>
<g filter="url(#b6)"><circle cx="236.88" cy="681.29" r="1.5" fill="#000008" fill-opacity="0.23"/><circle cx="235.93" cy="662.59" r="0.74" fill="#000008" fill-opacity="0.35"/><circle cx="237.16" cy="679.45" r="1.38" fill="#000008" fill-opacity="0.42"/><circle cx="223.16" cy="673.22" r="1.27" fill="#1010c8" fill-opacity="0.29"/><circle cx="227.51" cy="684.13" r="1.28" fill="#000008" fill-opacity="0.38"/><circle cx="224.13" cy="668.47" r="1.09" fill="#000008" fill-opacity="0.27"/><circle cx="227.77" cy="682.67" r="0.69" fill="#000008" fill-opacity="0.34"/><circle cx="238.88" cy="680.78" r="1.37" fill="#1010c8" fill-opacity="0.24"/><circle cx="237.58" cy="683.42" r="1.04" fill="#000008" fill-opacity="0.22"/><circle cx="223.79" cy="672.29" r="1.48" fill="#000008" fill-opacity="0.21"/><circle cx="232.13" cy="685.23" r="1.08" fill="#000008" fill-opacity="0.24"/><circle cx="235.01" cy="666.82" r="1.18" fill="#000008" fill-opacity="0.27"/><circle cx="238.78" cy="670.39" r="1.35" fill="#000008" fill-opacity="0.24"/><circle cx="224.77" cy="674.66" r="1.39" fill="#000008" fill-opacity="0.24"/><circle cx="229.04" cy="661.74" r="0.88" fill="#000008" fill-opacity="0.29"/><circle cx="239.16" cy="673.77" r="0.97" fill="#000008" fill-opacity="0.28"/><circle cx="225.58" cy="667.87" r="0.9" fill="#000008" fill-opacity="0.4"/><circle cx="238.86" cy="676.33" r="0.84" fill="#000008" fill-opacity="0.31"/><circle cx="236.42" cy="670.78" r="1.41" fill="#000008" fill-opacity="0.24"/><circle cx="229.29" cy="679.31" r="1.25" fill="#000008" fill-opacity="0.28"/><circle cx="220.95" cy="671.86" r="1.31" fill="#000008" fill-opacity="0.38"/><circle cx="232.68" cy="682.78" r="1" fill="#000008" fill-opacity="0.22"/><circle cx="233.31" cy="677.82" r="1.42" fill="#000008" fill-opacity="0.37"/><circle cx="223.74" cy="672.9" r="1.32" fill="#000008" fill-opacity="0.3"/><circle cx="236.69" cy="666.67" r="1.01" fill="#000008" fill-opacity="0.34"/><circle cx="229.95" cy="685.04" r="1.35" fill="#1010c8" fill-opacity="0.26"/><circle cx="224.9" cy="664.13" r="1.47" fill="#000008" fill-opacity="0.25"/><circle cx="240.52" cy="666.1" r="0.82" fill="#000008" fill-opacity="0.25"/><circle cx="237.69" cy="675.51" r="0.81" fill="#1010c8" fill-opacity="0.24"/><circle cx="243.05" cy="674.4" r="0.91" fill="#000008" fill-opacity="0.36"/><circle cx="236.35" cy="664.19" r="0.76" fill="#000008" fill-opacity="0.38"/><circle cx="237.36" cy="665.96" r="0.88" fill="#000008" fill-opacity="0.34"/><circle cx="237.71" cy="666.26" r="0.81" fill="#000008" fill-opacity="0.41"/><circle cx="233.19" cy="683.79" r="1.17" fill="#000008" fill-opacity="0.32"/><circle cx="241.94" cy="669.41" r="1.34" fill="#000008" fill-opacity="0.41"/><circle cx="232.2" cy="668.62" r="1" fill="#000008" fill-opacity="0.4"/><circle cx="228.72" cy="671.52" r="0.81" fill="#000008" fill-opacity="0.21"/><circle cx="232.44" cy="684.48" r="0.87" fill="#1010c8" fill-opacity="0.37"/><circle cx="239.63" cy="674.88" r="0.78" fill="#000008" fill-opacity="0.35"/><circle cx="236.29" cy="665.64" r="0.7" fill="#000008" fill-opacity="0.38"/><circle cx="240.87" cy="673.22" r="1.24" fill="#000008" fill-opacity="0.22"/><circle cx="232.45" cy="671.5" r="0.75" fill="#1010c8" fill-opacity="0.38"/><circle cx="223.77" cy="675.57" r="0.67" fill="#1010c8" fill-opacity="0.3"/><circle cx="220.6" cy="673.03" r="1.46" fill="#000008" fill-opacity="0.3"/><circle cx="241.42" cy="678.53" r="0.92" fill="#1010c8" fill-opacity="0.2"/><circle cx="235.16" cy="663.11" r="0.76" fill="#000008" fill-opacity="0.33"/><circle cx="225.13" cy="664.67" r="1.48" fill="#000008" fill-opacity="0.24"/><circle cx="231.43" cy="669.83" r="1.09" fill="#000008" fill-opacity="0.25"/><circle cx="231.31" cy="678.78" r="0.82" fill="#000008" fill-opacity="0.34"/><circle cx="232.84" cy="679.42" r="0.85" fill="#000008" fill-opacity="0.34"/><circle cx="233.32" cy="672.91" r="1.16" fill="#000008" fill-opacity="0.36"/><circle cx="239.7" cy="679.76" r="1.12" fill="#1010c8" fill-opacity="0.22"/><circle cx="229" cy="681.85" r="1.16" fill="#000008" fill-opacity="0.21"/><circle cx="224.19" cy="676.7" r="0.77" fill="#000008" fill-opacity="0.41"/><circle cx="234.79" cy="684.18" r="0.78" fill="#000008" fill-opacity="0.23"/><circle cx="240.35" cy="671.16" r="1.27" fill="#000008" fill-opacity="0.32"/><circle cx="237.05" cy="673.34" r="1.25" fill="#000008" fill-opacity="0.21"/><circle cx="237.15" cy="680.2" r="0.6" fill="#000008" fill-opacity="0.4"/><circle cx="224.79" cy="673.63" r="0.72" fill="#000008" fill-opacity="0.24"/><circle cx="238.2" cy="679.89" r="0.89" fill="#000008" fill-opacity="0.2"/><circle cx="234.6" cy="672.74" r="0.63" fill="#000008" fill-opacity="0.33"/><circle cx="230.1" cy="673.34" r="0.85" fill="#1010c8" fill-opacity="0.36"/><circle cx="234.3" cy="671.15" r="0.74" fill="#000008" fill-opacity="0.22"/><circle cx="237.9" cy="663.83" r="1.43" fill="#000008" fill-opacity="0.4"/><circle cx="235.02" cy="661.08" r="1.2" fill="#000008" fill-opacity="0.32"/></g>
<g filter="url(#b6)"><circle cx="39.63" cy="572.65" r="0.33" fill="#28c828" fill-opacity="0.18"/><circle cx="33.51" cy="575.16" r="0.34" fill="#28c828" fill-opacity="0.37"/><circle cx="49.86" cy="554.04" r="0.43" fill="#28c828" fill-opacity="0.28"/><circle cx="60.41" cy="563.1" r="0.35" fill="#28c828" fill-opacity="0.25"/><circle cx="38.57" cy="581.87" r="0.35" fill="#28c828" fill-opacity="0.22"/><circle cx="46.93" cy="568.01" r="0.54" fill="#28c828" fill-opacity="0.4"/><circle cx="38.21" cy="556.33" r="0.51" fill="#28c828" fill-opacity="0.45"/><circle cx="57.7" cy="571.54" r="0.35" fill="#28c828" fill-opacity="0.39"/><circle cx="52.43" cy="555.99" r="0.46" fill="#28c828" fill-opacity="0.22"/><circle cx="26.27" cy="560.82" r="0.38" fill="#28c828" fill-opacity="0.27"/><circle cx="49.28" cy="577.83" r="0.54" fill="#28c828" fill-opacity="0.44"/><circle cx="36.34" cy="555.39" r="0.46" fill="#28c828" fill-opacity="0.31"/><circle cx="50.33" cy="552.58" r="0.35" fill="#28c828" fill-opacity="0.43"/><circle cx="47.55" cy="573.04" r="0.32" fill="#28c828" fill-opacity="0.27"/><circle cx="59.28" cy="571.48" r="0.55" fill="#28c828" fill-opacity="0.21"/><circle cx="41.98" cy="576.62" r="0.41" fill="#28c828" fill-opacity="0.39"/><circle cx="46.04" cy="553.41" r="0.32" fill="#28c828" fill-opacity="0.44"/><circle cx="29.23" cy="556" r="0.38" fill="#28c828" fill-opacity="0.36"/><circle cx="57.16" cy="565.57" r="0.42" fill="#28c828" fill-opacity="0.39"/><circle cx="35.26" cy="562.06" r="0.45" fill="#28c828" fill-opacity="0.34"/><circle cx="29.94" cy="574.05" r="0.47" fill="#28c828" fill-opacity="0.44"/><circle cx="53.87" cy="558.06" r="0.49" fill="#28c828" fill-opacity="0.45"/><circle cx="38.96" cy="559.01" r="0.34" fill="#28c828" fill-opacity="0.16"/><circle cx="26.6" cy="570.27" r="0.35" fill="#28c828" fill-opacity="0.21"/><circle cx="55.89" cy="559.56" r="0.35" fill="#28c828" fill-opacity="0.29"/><circle cx="51.11" cy="567.23" r="0.51" fill="#28c828" fill-opacity="0.27"/><circle cx="44.61" cy="573.78" r="0.42" fill="#28c828" fill-opacity="0.37"/><circle cx="42.44" cy="553.94" r="0.33" fill="#28c828" fill-opacity="0.38"/><circle cx="50.92" cy="569.11" r="0.34" fill="#28c828" fill-opacity="0.41"/><circle cx="29.21" cy="563.85" r="0.34" fill="#28c828" fill-opacity="0.26"/><circle cx="36.37" cy="563.87" r="0.48" fill="#28c828" fill-opacity="0.31"/><circle cx="33.92" cy="575.88" r="0.48" fill="#28c828" fill-opacity="0.4"/><circle cx="25.95" cy="570.3" r="0.52" fill="#28c828" fill-opacity="0.23"/><circle cx="32.38" cy="577.07" r="0.39" fill="#28c828" fill-opacity="0.27"/><circle cx="55.77" cy="562.46" r="0.35" fill="#28c828" fill-opacity="0.21"/><circle cx="37.83" cy="573.13" r="0.39" fill="#28c828" fill-opacity="0.38"/><circle cx="48.45" cy="565.7" r="0.42" fill="#28c828" fill-opacity="0.43"/><circle cx="35.24" cy="555.57" r="0.31" fill="#28c828" fill-opacity="0.29"/><circle cx="35.99" cy="565.51" r="0.3" fill="#28c828" fill-opacity="0.15"/><circle cx="39.13" cy="575.16" r="0.38" fill="#28c828" fill-opacity="0.42"/><circle cx="46.72" cy="563.12" r="0.49" fill="#28c828" fill-opacity="0.22"/><circle cx="47.7" cy="578.18" r="0.44" fill="#28c828" fill-opacity="0.25"/><circle cx="28.35" cy="568.92" r="0.35" fill="#28c828" fill-opacity="0.26"/><circle cx="45.31" cy="581.4" r="0.47" fill="#28c828" fill-opacity="0.31"/><circle cx="57.32" cy="559.89" r="0.4" fill="#28c828" fill-opacity="0.35"/><circle cx="45.76" cy="556.94" r="0.4" fill="#28c828" fill-opacity="0.4"/><circle cx="33.91" cy="573.4" r="0.31" fill="#28c828" fill-opacity="0.44"/><circle cx="50.69" cy="560.41" r="0.55" fill="#28c828" fill-opacity="0.39"/><circle cx="43.38" cy="583.34" r="0.34" fill="#28c828" fill-opacity="0.16"/><circle cx="36.58" cy="550.92" r="0.4" fill="#28c828" fill-opacity="0.31"/><circle cx="41.44" cy="554.21" r="0.31" fill="#28c828" fill-opacity="0.39"/><circle cx="41.42" cy="565.72" r="0.42" fill="#28c828" fill-opacity="0.36"/><circle cx="52.33" cy="560.92" r="0.34" fill="#28c828" fill-opacity="0.18"/><circle cx="46.33" cy="580.33" r="0.38" fill="#28c828" fill-opacity="0.27"/><circle cx="40.58" cy="581.51" r="0.47" fill="#28c828" fill-opacity="0.4"/><circle cx="41.84" cy="563.05" r="0.5" fill="#28c828" fill-opacity="0.37"/><circle cx="59.3" cy="574.51" r="0.53" fill="#28c828" fill-opacity="0.28"/><circle cx="45.83" cy="576.08" r="0.41" fill="#28c828" fill-opacity="0.19"/><circle cx="46.95" cy="579.02" r="0.52" fill="#28c828" fill-opacity="0.19"/><circle cx="39.18" cy="557.17" r="0.39" fill="#28c828" fill-opacity="0.44"/><circle cx="40.7" cy="560.05" r="0.37" fill="#28c828" fill-opacity="0.28"/><circle cx="50.15" cy="561.05" r="0.35" fill="#28c828" fill-opacity="0.22"/><circle cx="34.58" cy="580.21" r="0.34" fill="#28c828" fill-opacity="0.38"/><circle cx="28.81" cy="576.12" r="0.37" fill="#28c828" fill-opacity="0.38"/><circle cx="41.12" cy="552.06" r="0.32" fill="#28c828" fill-opacity="0.39"/><circle cx="45.29" cy="565.92" r="0.39" fill="#28c828" fill-opacity="0.36"/><circle cx="43.03" cy="551.51" r="0.45" fill="#28c828" fill-opacity="0.24"/><circle cx="56.87" cy="568.07" r="0.49" fill="#28c828" fill-opacity="0.19"/><circle cx="51.57" cy="570.16" r="0.51" fill="#28c828" fill-opacity="0.42"/><circle cx="45.66" cy="569.53" r="0.49" fill="#28c828" fill-opacity="0.23"/><circle cx="45.41" cy="576.15" r="0.45" fill="#28c828" fill-opacity="0.31"/><circle cx="34.54" cy="551.94" r="0.45" fill="#28c828" fill-opacity="0.19"/><circle cx="61.55" cy="565.54" r="0.43" fill="#28c828" fill-opacity="0.4"/><circle cx="41.93" cy="555.53" r="0.42" fill="#28c828" fill-opacity="0.19"/><circle cx="58.03" cy="561.49" r="0.4" fill="#28c828" fill-opacity="0.42"/></g>
<g filter="url(#b6)"><circle cx="106.29" cy="572.2" r="0.55" fill="#28e028" fill-opacity="0.61"/><circle cx="100.41" cy="563.21" r="0.69" fill="#28e028" fill-opacity="0.51"/><circle cx="119.4" cy="554.41" r="0.35" fill="#28e028" fill-opacity="0.62"/><circle cx="121.94" cy="570.74" r="0.73" fill="#28e028" fill-opacity="0.35"/><circle cx="107.74" cy="555.26" r="0.47" fill="#28e028" fill-opacity="0.71"/><circle cx="102.36" cy="570.23" r="0.65" fill="#28e028" fill-opacity="0.53"/><circle cx="114.2" cy="569.21" r="0.58" fill="#28e028" fill-opacity="0.36"/><circle cx="107.05" cy="557.11" r="0.51" fill="#28e028" fill-opacity="0.74"/><circle cx="109.88" cy="553.1" r="0.54" fill="#28e028" fill-opacity="0.66"/><circle cx="110.42" cy="567.65" r="0.39" fill="#28e028" fill-opacity="0.28"/><circle cx="116.69" cy="552.61" r="0.47" fill="#28e028" fill-opacity="0.44"/><circle cx="117.47" cy="573.39" r="0.55" fill="#28e028" fill-opacity="0.73"/><circle cx="122.51" cy="565.71" r="0.56" fill="#28e028" fill-opacity="0.5"/><circle cx="104.04" cy="560.15" r="0.64" fill="#28e028" fill-opacity="0.35"/><circle cx="122.15" cy="563.23" r="0.59" fill="#28e028" fill-opacity="0.66"/><circle cx="116.24" cy="554.67" r="0.45" fill="#28e028" fill-opacity="0.25"/><circle cx="114.7" cy="573.78" r="0.66" fill="#28e028" fill-opacity="0.41"/><circle cx="110.73" cy="553.42" r="0.48" fill="#28e028" fill-opacity="0.33"/><circle cx="108.1" cy="553.4" r="0.64" fill="#28e028" fill-opacity="0.74"/><circle cx="103.61" cy="569.44" r="0.58" fill="#28e028" fill-opacity="0.49"/><circle cx="123.81" cy="560.18" r="0.68" fill="#28e028" fill-opacity="0.27"/><circle cx="118.42" cy="567.02" r="0.66" fill="#28e028" fill-opacity="0.44"/><circle cx="100.82" cy="558.82" r="0.73" fill="#28e028" fill-opacity="0.74"/><circle cx="104.17" cy="561.67" r="0.53" fill="#28e028" fill-opacity="0.7"/><circle cx="104.85" cy="564.13" r="0.4" fill="#28e028" fill-opacity="0.29"/><circle cx="123.11" cy="563.07" r="0.74" fill="#28e028" fill-opacity="0.68"/><circle cx="119.32" cy="553.22" r="0.59" fill="#28e028" fill-opacity="0.75"/><circle cx="112.09" cy="553.02" r="0.42" fill="#28e028" fill-opacity="0.74"/><circle cx="106.74" cy="567.94" r="0.55" fill="#28e028" fill-opacity="0.34"/><circle cx="126.05" cy="565.78" r="0.5" fill="#28e028" fill-opacity="0.26"/><circle cx="112.3" cy="568.8" r="0.42" fill="#28e028" fill-opacity="0.29"/><circle cx="118.5" cy="572.67" r="0.5" fill="#28e028" fill-opacity="0.49"/><circle cx="115.96" cy="563.46" r="0.4" fill="#28e028" fill-opacity="0.39"/><circle cx="103.48" cy="556.04" r="0.39" fill="#28e028" fill-opacity="0.45"/><circle cx="103.86" cy="570.99" r="0.48" fill="#28e028" fill-opacity="0.73"/><circle cx="121.02" cy="557.69" r="0.41" fill="#28e028" fill-opacity="0.54"/><circle cx="111.25" cy="563.81" r="0.4" fill="#28e028" fill-opacity="0.52"/><circle cx="119.52" cy="561.74" r="0.45" fill="#28e028" fill-opacity="0.71"/><circle cx="110.48" cy="554.93" r="0.66" fill="#28e028" fill-opacity="0.46"/><circle cx="120.68" cy="565.48" r="0.58" fill="#28e028" fill-opacity="0.29"/><circle cx="112.69" cy="562.77" r="0.54" fill="#28e028" fill-opacity="0.26"/><circle cx="123.4" cy="562.83" r="0.51" fill="#28e028" fill-opacity="0.68"/><circle cx="122.44" cy="568.04" r="0.71" fill="#28e028" fill-opacity="0.42"/><circle cx="100.54" cy="559.5" r="0.59" fill="#28e028" fill-opacity="0.64"/><circle cx="118.8" cy="565.98" r="0.59" fill="#28e028" fill-opacity="0.58"/><circle cx="114.17" cy="551.85" r="0.57" fill="#28e028" fill-opacity="0.39"/><circle cx="99.6" cy="565.58" r="0.69" fill="#28e028" fill-opacity="0.39"/><circle cx="116.93" cy="565.89" r="0.62" fill="#28e028" fill-opacity="0.69"/><circle cx="117.67" cy="553.33" r="0.6" fill="#28e028" fill-opacity="0.42"/><circle cx="109.58" cy="567.02" r="0.42" fill="#28e028" fill-opacity="0.56"/><circle cx="122.19" cy="567.78" r="0.51" fill="#28e028" fill-opacity="0.63"/><circle cx="102.36" cy="554.48" r="0.53" fill="#28e028" fill-opacity="0.52"/><circle cx="115.93" cy="561.63" r="0.57" fill="#28e028" fill-opacity="0.72"/><circle cx="118.71" cy="557.66" r="0.4" fill="#28e028" fill-opacity="0.62"/><circle cx="122.25" cy="559.45" r="0.41" fill="#28e028" fill-opacity="0.53"/><circle cx="116.95" cy="559.75" r="0.51" fill="#28e028" fill-opacity="0.3"/><circle cx="101.59" cy="556.61" r="0.65" fill="#28e028" fill-opacity="0.31"/><circle cx="103.24" cy="562.18" r="0.43" fill="#28e028" fill-opacity="0.37"/><circle cx="118.87" cy="556.88" r="0.57" fill="#28e028" fill-opacity="0.29"/><circle cx="112.51" cy="567.56" r="0.53" fill="#28e028" fill-opacity="0.34"/><circle cx="109.35" cy="553.82" r="0.52" fill="#28e028" fill-opacity="0.5"/><circle cx="99.36" cy="566.78" r="0.73" fill="#28e028" fill-opacity="0.6"/><circle cx="110.54" cy="570.65" r="0.73" fill="#28e028" fill-opacity="0.72"/><circle cx="106.92" cy="554.59" r="0.54" fill="#28e028" fill-opacity="0.6"/><circle cx="105.3" cy="559.78" r="0.38" fill="#28e028" fill-opacity="0.27"/><circle cx="105.01" cy="571.02" r="0.37" fill="#28e028" fill-opacity="0.32"/><circle cx="109.09" cy="573.77" r="0.44" fill="#28e028" fill-opacity="0.27"/><circle cx="98.92" cy="559.42" r="0.35" fill="#28e028" fill-opacity="0.59"/><circle cx="99.72" cy="557.71" r="0.39" fill="#28e028" fill-opacity="0.33"/><circle cx="103.12" cy="556.87" r="0.6" fill="#28e028" fill-opacity="0.43"/><circle cx="125" cy="567.82" r="0.52" fill="#28e028" fill-opacity="0.41"/><circle cx="103.15" cy="561.63" r="0.52" fill="#28e028" fill-opacity="0.72"/><circle cx="103.31" cy="567.58" r="0.64" fill="#28e028" fill-opacity="0.58"/><circle cx="115.29" cy="552.47" r="0.41" fill="#28e028" fill-opacity="0.51"/><circle cx="115" cy="573.64" r="0.66" fill="#28e028" fill-opacity="0.36"/><circle cx="101.8" cy="569.29" r="0.35" fill="#28e028" fill-opacity="0.71"/><circle cx="100.01" cy="565.28" r="0.69" fill="#28e028" fill-opacity="0.29"/><circle cx="100.45" cy="566.03" r="0.64" fill="#28e028" fill-opacity="0.26"/><circle cx="111.09" cy="569.76" r="0.66" fill="#28e028" fill-opacity="0.45"/><circle cx="113.06" cy="561.2" r="0.59" fill="#28e028" fill-opacity="0.54"/><circle cx="111.46" cy="564.13" r="0.57" fill="#28e028" fill-opacity="0.64"/><circle cx="120.25" cy="557.09" r="0.52" fill="#28e028" fill-opacity="0.36"/><circle cx="106.44" cy="560.66" r="0.53" fill="#28e028" fill-opacity="0.3"/><circle cx="106.03" cy="562" r="0.5" fill="#28e028" fill-opacity="0.52"/><circle cx="99.5" cy="564.35" r="0.71" fill="#28e028" fill-opacity="0.62"/><circle cx="113.66" cy="570.03" r="0.5" fill="#28e028" fill-opacity="0.34"/><circle cx="115.26" cy="557.12" r="0.46" fill="#28e028" fill-opacity="0.63"/><circle cx="112.27" cy="555.52" r="0.44" fill="#28e028" fill-opacity="0.62"/><circle cx="116.35" cy="572.17" r="0.65" fill="#28e028" fill-opacity="0.39"/><circle cx="117.87" cy="571.78" r="0.7" fill="#28e028" fill-opacity="0.71"/><circle cx="101.7" cy="557.24" r="0.42" fill="#28e028" fill-opacity="0.66"/><circle cx="117.6" cy="564.33" r="0.43" fill="#28e028" fill-opacity="0.46"/><circle cx="123.33" cy="567.69" r="0.71" fill="#28e028" fill-opacity="0.72"/><circle cx="112.45" cy="558.42" r="0.5" fill="#28e028" fill-opacity="0.49"/><circle cx="115.05" cy="557.8" r="0.47" fill="#28e028" fill-opacity="0.51"/><circle cx="123.64" cy="566.44" r="0.55" fill="#28e028" fill-opacity="0.53"/><circle cx="121.35" cy="561.37" r="0.48" fill="#28e028" fill-opacity="0.3"/><circle cx="107.19" cy="552.9" r="0.45" fill="#28e028" fill-opacity="0.57"/><circle cx="107.88" cy="572.45" r="0.54" fill="#28e028" fill-opacity="0.67"/><circle cx="120.86" cy="563.43" r="0.41" fill="#28e028" fill-opacity="0.67"/><circle cx="125.24" cy="562.02" r="0.66" fill="#28e028" fill-opacity="0.56"/><circle cx="119.84" cy="572.4" r="0.61" fill="#28e028" fill-opacity="0.32"/><circle cx="110.21" cy="563.97" r="0.44" fill="#28e028" fill-opacity="0.6"/><circle cx="106.99" cy="553.52" r="0.49" fill="#28e028" fill-opacity="0.62"/><circle cx="115.93" cy="558.95" r="0.52" fill="#28e028" fill-opacity="0.59"/><circle cx="103.21" cy="561.01" r="0.44" fill="#28e028" fill-opacity="0.34"/><circle cx="106.27" cy="554.76" r="0.36" fill="#28e028" fill-opacity="0.46"/><circle cx="110.17" cy="565.69" r="0.72" fill="#28e028" fill-opacity="0.72"/><circle cx="111.32" cy="557.95" r="0.6" fill="#28e028" fill-opacity="0.47"/><circle cx="114.65" cy="572.85" r="0.65" fill="#28e028" fill-opacity="0.74"/></g>
<g filter="url(#b6)"><circle cx="167.91" cy="568.41" r="0.46" fill="#28b828" fill-opacity="0.19"/><circle cx="169.54" cy="574.1" r="0.48" fill="#28b828" fill-opacity="0.17"/><circle cx="169.53" cy="568.08" r="0.39" fill="#28b828" fill-opacity="0.37"/><circle cx="167.07" cy="564.3" r="0.49" fill="#28b828" fill-opacity="0.29"/><circle cx="162.53" cy="561.3" r="0.39" fill="#28b828" fill-opacity="0.13"/><circle cx="168.65" cy="570.69" r="0.37" fill="#28b828" fill-opacity="0.34"/><circle cx="175.06" cy="566.72" r="0.43" fill="#28b828" fill-opacity="0.15"/><circle cx="162.19" cy="559.19" r="0.48" fill="#28b828" fill-opacity="0.31"/><circle cx="158.96" cy="561.58" r="0.33" fill="#28b828" fill-opacity="0.19"/><circle cx="156.63" cy="566.04" r="0.35" fill="#28b828" fill-opacity="0.22"/><circle cx="171.45" cy="566.81" r="0.31" fill="#28b828" fill-opacity="0.16"/><circle cx="158.89" cy="561.46" r="0.29" fill="#28b828" fill-opacity="0.19"/><circle cx="160.56" cy="558.74" r="0.42" fill="#28b828" fill-opacity="0.24"/><circle cx="165.97" cy="562.38" r="0.4" fill="#28b828" fill-opacity="0.32"/><circle cx="162.66" cy="556.04" r="0.39" fill="#28b828" fill-opacity="0.22"/><circle cx="172.11" cy="556.94" r="0.47" fill="#28b828" fill-opacity="0.12"/><circle cx="167.34" cy="564.26" r="0.35" fill="#28b828" fill-opacity="0.35"/><circle cx="170.54" cy="558.09" r="0.39" fill="#28b828" fill-opacity="0.28"/><circle cx="168.53" cy="570.55" r="0.38" fill="#28b828" fill-opacity="0.23"/><circle cx="166.64" cy="560.23" r="0.47" fill="#28b828" fill-opacity="0.37"/><circle cx="166.14" cy="554.95" r="0.37" fill="#28b828" fill-opacity="0.33"/><circle cx="163" cy="556.82" r="0.32" fill="#28b828" fill-opacity="0.31"/><circle cx="168.94" cy="560.8" r="0.42" fill="#28b828" fill-opacity="0.32"/><circle cx="165.18" cy="572.31" r="0.48" fill="#28b828" fill-opacity="0.35"/><circle cx="171.51" cy="567.41" r="0.39" fill="#28b828" fill-opacity="0.34"/><circle cx="169" cy="570.37" r="0.33" fill="#28b828" fill-opacity="0.14"/><circle cx="161.91" cy="567.33" r="0.41" fill="#28b828" fill-opacity="0.17"/><circle cx="171.94" cy="567.12" r="0.5" fill="#28b828" fill-opacity="0.3"/><circle cx="164.77" cy="574.67" r="0.46" fill="#28b828" fill-opacity="0.16"/><circle cx="172.11" cy="571.91" r="0.33" fill="#28b828" fill-opacity="0.15"/><circle cx="163.83" cy="572.09" r="0.44" fill="#28b828" fill-opacity="0.35"/><circle cx="168.87" cy="561.69" r="0.31" fill="#28b828" fill-opacity="0.21"/><circle cx="163.28" cy="565.41" r="0.38" fill="#28b828" fill-opacity="0.17"/><circle cx="164.79" cy="557.36" r="0.46" fill="#28b828" fill-opacity="0.26"/><circle cx="165.7" cy="568.56" r="0.33" fill="#28b828" fill-opacity="0.13"/><circle cx="158.07" cy="561.92" r="0.36" fill="#28b828" fill-opacity="0.19"/><circle cx="162.63" cy="572.84" r="0.28" fill="#28b828" fill-opacity="0.24"/><circle cx="164.16" cy="560.7" r="0.44" fill="#28b828" fill-opacity="0.18"/><circle cx="169.4" cy="575.54" r="0.35" fill="#28b828" fill-opacity="0.33"/><circle cx="172.39" cy="565.85" r="0.45" fill="#28b828" fill-opacity="0.22"/><circle cx="168.97" cy="558.65" r="0.32" fill="#28b828" fill-opacity="0.35"/><circle cx="165.1" cy="572.38" r="0.34" fill="#28b828" fill-opacity="0.31"/><circle cx="174.65" cy="568.29" r="0.33" fill="#28b828" fill-opacity="0.29"/><circle cx="165.38" cy="563.29" r="0.3" fill="#28b828" fill-opacity="0.32"/><circle cx="159.67" cy="559.31" r="0.29" fill="#28b828" fill-opacity="0.16"/></g>
<g filter="url(#b6)"><circle cx="232.67" cy="559.23" r="0.95" fill="#38ff38" fill-opacity="0.9"/><circle cx="240.79" cy="553.48" r="1.02" fill="#38ff38" fill-opacity="0.66"/><circle cx="227.54" cy="546.46" r="0.73" fill="#38ff38" fill-opacity="0.53"/><circle cx="226.81" cy="559.88" r="0.9" fill="#38ff38" fill-opacity="0.83"/><circle cx="226.37" cy="558.35" r="0.95" fill="#38ff38" fill-opacity="0.85"/><circle cx="241.98" cy="559.31" r="0.81" fill="#38ff38" fill-opacity="0.6"/><circle cx="227.72" cy="549.36" r="0.75" fill="#38ff38" fill-opacity="0.75"/><circle cx="233.68" cy="554.19" r="0.68" fill="#38ff38" fill-opacity="0.57"/><circle cx="239.25" cy="559.11" r="0.89" fill="#38ff38" fill-opacity="0.86"/><circle cx="226.96" cy="547.04" r="0.58" fill="#38ff38" fill-opacity="0.9"/><circle cx="238.71" cy="554.54" r="0.9" fill="#38ff38" fill-opacity="0.62"/><circle cx="230.16" cy="556.01" r="0.49" fill="#38ff38" fill-opacity="0.59"/><circle cx="225.88" cy="551.7" r="0.44" fill="#38ff38" fill-opacity="0.6"/><circle cx="222.9" cy="557.64" r="0.66" fill="#38ff38" fill-opacity="0.56"/><circle cx="242.19" cy="552.05" r="0.75" fill="#38ff38" fill-opacity="0.9"/><circle cx="234.52" cy="566.64" r="0.44" fill="#38ff38" fill-opacity="0.82"/><circle cx="228.23" cy="552.34" r="0.9" fill="#38ff38" fill-opacity="0.82"/><circle cx="228.36" cy="553.45" r="0.58" fill="#38ff38" fill-opacity="0.92"/><circle cx="234.64" cy="550.76" r="0.75" fill="#38ff38" fill-opacity="0.48"/><circle cx="226.7" cy="557.04" r="1.03" fill="#38ff38" fill-opacity="0.88"/><circle cx="233.09" cy="563.84" r="0.56" fill="#38ff38" fill-opacity="0.8"/><circle cx="228.96" cy="565.16" r="1.04" fill="#38ff38" fill-opacity="0.52"/><circle cx="231.19" cy="559.44" r="0.92" fill="#38ff38" fill-opacity="0.58"/><circle cx="237.79" cy="562.3" r="0.96" fill="#38ff38" fill-opacity="0.82"/><circle cx="240.3" cy="559.71" r="0.75" fill="#38ff38" fill-opacity="0.68"/><circle cx="229.86" cy="556.03" r="0.72" fill="#38ff38" fill-opacity="0.65"/><circle cx="223.84" cy="554.34" r="1.01" fill="#38ff38" fill-opacity="0.6"/><circle cx="230.93" cy="549.67" r="0.97" fill="#38ff38" fill-opacity="0.93"/><circle cx="227.65" cy="561.39" r="0.89" fill="#38ff38" fill-opacity="0.76"/><circle cx="223.27" cy="550.13" r="0.87" fill="#38ff38" fill-opacity="0.77"/><circle cx="235.95" cy="551.3" r="0.97" fill="#38ff38" fill-opacity="0.84"/><circle cx="231.65" cy="566.23" r="0.6" fill="#38ff38" fill-opacity="0.72"/><circle cx="232.47" cy="569.17" r="1.01" fill="#38ff38" fill-opacity="0.62"/><circle cx="238.45" cy="551.73" r="0.97" fill="#38ff38" fill-opacity="0.9"/><circle cx="236.18" cy="544.92" r="0.6" fill="#38ff38" fill-opacity="0.54"/><circle cx="232.1" cy="544.95" r="0.44" fill="#38ff38" fill-opacity="0.5"/><circle cx="240.39" cy="559.64" r="0.96" fill="#38ff38" fill-opacity="0.92"/><circle cx="233.58" cy="566.01" r="0.68" fill="#38ff38" fill-opacity="0.75"/><circle cx="224.34" cy="555.58" r="0.46" fill="#38ff38" fill-opacity="0.68"/><circle cx="243.25" cy="557.81" r="0.84" fill="#38ff38" fill-opacity="0.65"/></g>
<g filter="url(#b6)"><circle cx="39.63" cy="688.65" r="0.33" fill="#28c828" fill-opacity="0.18"/><circle cx="33.51" cy="691.16" r="0.34" fill="#28c828" fill-opacity="0.37"/><circle cx="49.86" cy="670.04" r="0.43" fill="#28c828" fill-opacity="0.28"/><circle cx="60.41" cy="679.1" r="0.35" fill="#28c828" fill-opacity="0.25"/><circle cx="38.57" cy="697.87" r="0.35" fill="#28c828" fill-opacity="0.22"/><circle cx="46.93" cy="684.01" r="0.54" fill="#28c828" fill-opacity="0.4"/><circle cx="38.21" cy="672.33" r="0.51" fill="#28c828" fill-opacity="0.45"/><circle cx="57.7" cy="687.54" r="0.35" fill="#28c828" fill-opacity="0.39"/><circle cx="52.43" cy="671.99" r="0.46" fill="#28c828" fill-opacity="0.22"/><circle cx="26.27" cy="676.82" r="0.38" fill="#28c828" fill-opacity="0.27"/><circle cx="49.28" cy="693.83" r="0.54" fill="#28c828" fill-opacity="0.44"/><circle cx="36.34" cy="671.39" r="0.46" fill="#28c828" fill-opacity="0.31"/><circle cx="50.33" cy="668.58" r="0.35" fill="#28c828" fill-opacity="0.43"/><circle cx="47.55" cy="689.04" r="0.32" fill="#28c828" fill-opacity="0.27"/><circle cx="59.28" cy="687.48" r="0.55" fill="#28c828" fill-opacity="0.21"/><circle cx="41.98" cy="692.62" r="0.41" fill="#28c828" fill-opacity="0.39"/><circle cx="46.04" cy="669.41" r="0.32" fill="#28c828" fill-opacity="0.44"/><circle cx="29.23" cy="672" r="0.38" fill="#28c828" fill-opacity="0.36"/><circle cx="57.16" cy="681.57" r="0.42" fill="#28c828" fill-opacity="0.39"/><circle cx="35.26" cy="678.06" r="0.45" fill="#28c828" fill-opacity="0.34"/><circle cx="29.94" cy="690.05" r="0.47" fill="#28c828" fill-opacity="0.44"/><circle cx="53.87" cy="674.06" r="0.49" fill="#28c828" fill-opacity="0.45"/><circle cx="38.96" cy="675.01" r="0.34" fill="#28c828" fill-opacity="0.16"/><circle cx="26.6" cy="686.27" r="0.35" fill="#28c828" fill-opacity="0.21"/><circle cx="55.89" cy="675.56" r="0.35" fill="#28c828" fill-opacity="0.29"/><circle cx="51.11" cy="683.23" r="0.51" fill="#28c828" fill-opacity="0.27"/><circle cx="44.61" cy="689.78" r="0.42" fill="#28c828" fill-opacity="0.37"/><circle cx="42.44" cy="669.94" r="0.33" fill="#28c828" fill-opacity="0.38"/><circle cx="50.92" cy="685.11" r="0.34" fill="#28c828" fill-opacity="0.41"/><circle cx="29.21" cy="679.85" r="0.34" fill="#28c828" fill-opacity="0.26"/><circle cx="36.37" cy="679.87" r="0.48" fill="#28c828" fill-opacity="0.31"/><circle cx="33.92" cy="691.88" r="0.48" fill="#28c828" fill-opacity="0.4"/><circle cx="25.95" cy="686.3" r="0.52" fill="#28c828" fill-opacity="0.23"/><circle cx="32.38" cy="693.07" r="0.39" fill="#28c828" fill-opacity="0.27"/><circle cx="55.77" cy="678.46" r="0.35" fill="#28c828" fill-opacity="0.21"/><circle cx="37.83" cy="689.13" r="0.39" fill="#28c828" fill-opacity="0.38"/><circle cx="48.45" cy="681.7" r="0.42" fill="#28c828" fill-opacity="0.43"/><circle cx="35.24" cy="671.57" r="0.31" fill="#28c828" fill-opacity="0.29"/><circle cx="35.99" cy="681.51" r="0.3" fill="#28c828" fill-opacity="0.15"/><circle cx="39.13" cy="691.16" r="0.38" fill="#28c828" fill-opacity="0.42"/><circle cx="46.72" cy="679.12" r="0.49" fill="#28c828" fill-opacity="0.22"/><circle cx="47.7" cy="694.18" r="0.44" fill="#28c828" fill-opacity="0.25"/><circle cx="28.35" cy="684.92" r="0.35" fill="#28c828" fill-opacity="0.26"/><circle cx="45.31" cy="697.4" r="0.47" fill="#28c828" fill-opacity="0.31"/><circle cx="57.32" cy="675.89" r="0.4" fill="#28c828" fill-opacity="0.35"/><circle cx="45.76" cy="672.94" r="0.4" fill="#28c828" fill-opacity="0.4"/><circle cx="33.91" cy="689.4" r="0.31" fill="#28c828" fill-opacity="0.44"/><circle cx="50.69" cy="676.41" r="0.55" fill="#28c828" fill-opacity="0.39"/><circle cx="43.38" cy="699.34" r="0.34" fill="#28c828" fill-opacity="0.16"/><circle cx="36.58" cy="666.92" r="0.4" fill="#28c828" fill-opacity="0.31"/><circle cx="41.44" cy="670.21" r="0.31" fill="#28c828" fill-opacity="0.39"/><circle cx="41.42" cy="681.72" r="0.42" fill="#28c828" fill-opacity="0.36"/></g>
<g filter="url(#b6)"><circle cx="106.29" cy="688.2" r="0.55" fill="#28e028" fill-opacity="0.61"/><circle cx="100.41" cy="679.21" r="0.69" fill="#28e028" fill-opacity="0.51"/><circle cx="119.4" cy="670.41" r="0.35" fill="#28e028" fill-opacity="0.62"/><circle cx="121.94" cy="686.74" r="0.73" fill="#28e028" fill-opacity="0.35"/><circle cx="107.74" cy="671.26" r="0.47" fill="#28e028" fill-opacity="0.71"/><circle cx="102.36" cy="686.23" r="0.65" fill="#28e028" fill-opacity="0.53"/><circle cx="114.2" cy="685.21" r="0.58" fill="#28e028" fill-opacity="0.36"/><circle cx="107.05" cy="673.11" r="0.51" fill="#28e028" fill-opacity="0.74"/><circle cx="109.88" cy="669.1" r="0.54" fill="#28e028" fill-opacity="0.66"/><circle cx="110.42" cy="683.65" r="0.39" fill="#28e028" fill-opacity="0.28"/><circle cx="116.69" cy="668.61" r="0.47" fill="#28e028" fill-opacity="0.44"/><circle cx="117.47" cy="689.39" r="0.55" fill="#28e028" fill-opacity="0.73"/><circle cx="122.51" cy="681.71" r="0.56" fill="#28e028" fill-opacity="0.5"/><circle cx="104.04" cy="676.15" r="0.64" fill="#28e028" fill-opacity="0.35"/><circle cx="122.15" cy="679.23" r="0.59" fill="#28e028" fill-opacity="0.66"/><circle cx="116.24" cy="670.67" r="0.45" fill="#28e028" fill-opacity="0.25"/><circle cx="114.7" cy="689.78" r="0.66" fill="#28e028" fill-opacity="0.41"/><circle cx="110.73" cy="669.42" r="0.48" fill="#28e028" fill-opacity="0.33"/><circle cx="108.1" cy="669.4" r="0.64" fill="#28e028" fill-opacity="0.74"/><circle cx="103.61" cy="685.44" r="0.58" fill="#28e028" fill-opacity="0.49"/><circle cx="123.81" cy="676.18" r="0.68" fill="#28e028" fill-opacity="0.27"/><circle cx="118.42" cy="683.02" r="0.66" fill="#28e028" fill-opacity="0.44"/><circle cx="100.82" cy="674.82" r="0.73" fill="#28e028" fill-opacity="0.74"/><circle cx="104.17" cy="677.67" r="0.53" fill="#28e028" fill-opacity="0.7"/><circle cx="104.85" cy="680.13" r="0.4" fill="#28e028" fill-opacity="0.29"/><circle cx="123.11" cy="679.07" r="0.74" fill="#28e028" fill-opacity="0.68"/><circle cx="119.32" cy="669.22" r="0.59" fill="#28e028" fill-opacity="0.75"/><circle cx="112.09" cy="669.02" r="0.42" fill="#28e028" fill-opacity="0.74"/><circle cx="106.74" cy="683.94" r="0.55" fill="#28e028" fill-opacity="0.34"/><circle cx="126.05" cy="681.78" r="0.5" fill="#28e028" fill-opacity="0.26"/><circle cx="112.3" cy="684.8" r="0.42" fill="#28e028" fill-opacity="0.29"/><circle cx="118.5" cy="688.67" r="0.5" fill="#28e028" fill-opacity="0.49"/><circle cx="115.96" cy="679.46" r="0.4" fill="#28e028" fill-opacity="0.39"/><circle cx="103.48" cy="672.04" r="0.39" fill="#28e028" fill-opacity="0.45"/><circle cx="103.86" cy="686.99" r="0.48" fill="#28e028" fill-opacity="0.73"/><circle cx="121.02" cy="673.69" r="0.41" fill="#28e028" fill-opacity="0.54"/><circle cx="111.25" cy="679.81" r="0.4" fill="#28e028" fill-opacity="0.52"/><circle cx="119.52" cy="677.74" r="0.45" fill="#28e028" fill-opacity="0.71"/><circle cx="110.48" cy="670.93" r="0.66" fill="#28e028" fill-opacity="0.46"/><circle cx="120.68" cy="681.48" r="0.58" fill="#28e028" fill-opacity="0.29"/><circle cx="112.69" cy="678.77" r="0.54" fill="#28e028" fill-opacity="0.26"/><circle cx="123.4" cy="678.83" r="0.51" fill="#28e028" fill-opacity="0.68"/><circle cx="122.44" cy="684.04" r="0.71" fill="#28e028" fill-opacity="0.42"/><circle cx="100.54" cy="675.5" r="0.59" fill="#28e028" fill-opacity="0.64"/><circle cx="118.8" cy="681.98" r="0.59" fill="#28e028" fill-opacity="0.58"/><circle cx="114.17" cy="667.85" r="0.57" fill="#28e028" fill-opacity="0.39"/><circle cx="99.6" cy="681.58" r="0.69" fill="#28e028" fill-opacity="0.39"/><circle cx="116.93" cy="681.89" r="0.62" fill="#28e028" fill-opacity="0.69"/><circle cx="117.67" cy="669.33" r="0.6" fill="#28e028" fill-opacity="0.42"/><circle cx="109.58" cy="683.02" r="0.42" fill="#28e028" fill-opacity="0.56"/><circle cx="122.19" cy="683.78" r="0.51" fill="#28e028" fill-opacity="0.63"/><circle cx="102.36" cy="670.48" r="0.53" fill="#28e028" fill-opacity="0.52"/><circle cx="115.93" cy="677.63" r="0.57" fill="#28e028" fill-opacity="0.72"/><circle cx="118.71" cy="673.66" r="0.4" fill="#28e028" fill-opacity="0.62"/><circle cx="122.25" cy="675.45" r="0.41" fill="#28e028" fill-opacity="0.53"/><circle cx="116.95" cy="675.75" r="0.51" fill="#28e028" fill-opacity="0.3"/><circle cx="101.59" cy="672.61" r="0.65" fill="#28e028" fill-opacity="0.31"/><circle cx="103.24" cy="678.18" r="0.43" fill="#28e028" fill-opacity="0.37"/><circle cx="118.87" cy="672.88" r="0.57" fill="#28e028" fill-opacity="0.29"/><circle cx="112.51" cy="683.56" r="0.53" fill="#28e028" fill-opacity="0.34"/><circle cx="109.35" cy="669.82" r="0.52" fill="#28e028" fill-opacity="0.5"/><circle cx="99.36" cy="682.78" r="0.73" fill="#28e028" fill-opacity="0.6"/><circle cx="110.54" cy="686.65" r="0.73" fill="#28e028" fill-opacity="0.72"/><circle cx="106.92" cy="670.59" r="0.54" fill="#28e028" fill-opacity="0.6"/><circle cx="105.3" cy="675.78" r="0.38" fill="#28e028" fill-opacity="0.27"/><circle cx="105.01" cy="687.02" r="0.37" fill="#28e028" fill-opacity="0.32"/><circle cx="109.09" cy="689.77" r="0.44" fill="#28e028" fill-opacity="0.27"/><circle cx="98.92" cy="675.42" r="0.35" fill="#28e028" fill-opacity="0.59"/><circle cx="99.72" cy="673.71" r="0.39" fill="#28e028" fill-opacity="0.33"/><circle cx="103.12" cy="672.87" r="0.6" fill="#28e028" fill-opacity="0.43"/><circle cx="125" cy="683.82" r="0.52" fill="#28e028" fill-opacity="0.41"/><circle cx="103.15" cy="677.63" r="0.52" fill="#28e028" fill-opacity="0.72"/><circle cx="103.31" cy="683.58" r="0.64" fill="#28e028" fill-opacity="0.58"/><circle cx="115.29" cy="668.47" r="0.41" fill="#28e028" fill-opacity="0.51"/><circle cx="115" cy="689.64" r="0.66" fill="#28e028" fill-opacity="0.36"/><circle cx="101.8" cy="685.29" r="0.35" fill="#28e028" fill-opacity="0.71"/><circle cx="100.01" cy="681.28" r="0.69" fill="#28e028" fill-opacity="0.29"/></g>
<g filter="url(#b6)"><circle cx="167.91" cy="684.41" r="0.46" fill="#28b828" fill-opacity="0.19"/><circle cx="169.54" cy="690.1" r="0.48" fill="#28b828" fill-opacity="0.17"/><circle cx="169.53" cy="684.08" r="0.39" fill="#28b828" fill-opacity="0.37"/><circle cx="167.07" cy="680.3" r="0.49" fill="#28b828" fill-opacity="0.29"/><circle cx="162.53" cy="677.3" r="0.39" fill="#28b828" fill-opacity="0.13"/><circle cx="168.65" cy="686.69" r="0.37" fill="#28b828" fill-opacity="0.34"/><circle cx="175.06" cy="682.72" r="0.43" fill="#28b828" fill-opacity="0.15"/><circle cx="162.19" cy="675.19" r="0.48" fill="#28b828" fill-opacity="0.31"/><circle cx="158.96" cy="677.58" r="0.33" fill="#28b828" fill-opacity="0.19"/><circle cx="156.63" cy="682.04" r="0.35" fill="#28b828" fill-opacity="0.22"/><circle cx="171.45" cy="682.81" r="0.31" fill="#28b828" fill-opacity="0.16"/><circle cx="158.89" cy="677.46" r="0.29" fill="#28b828" fill-opacity="0.19"/><circle cx="160.56" cy="674.74" r="0.42" fill="#28b828" fill-opacity="0.24"/><circle cx="165.97" cy="678.38" r="0.4" fill="#28b828" fill-opacity="0.32"/><circle cx="162.66" cy="672.04" r="0.39" fill="#28b828" fill-opacity="0.22"/><circle cx="172.11" cy="672.94" r="0.47" fill="#28b828" fill-opacity="0.12"/><circle cx="167.34" cy="680.26" r="0.35" fill="#28b828" fill-opacity="0.35"/><circle cx="170.54" cy="674.09" r="0.39" fill="#28b828" fill-opacity="0.28"/><circle cx="168.53" cy="686.55" r="0.38" fill="#28b828" fill-opacity="0.23"/><circle cx="166.64" cy="676.23" r="0.47" fill="#28b828" fill-opacity="0.37"/><circle cx="166.14" cy="670.95" r="0.37" fill="#28b828" fill-opacity="0.33"/><circle cx="163" cy="672.82" r="0.32" fill="#28b828" fill-opacity="0.31"/><circle cx="168.94" cy="676.8" r="0.42" fill="#28b828" fill-opacity="0.32"/><circle cx="165.18" cy="688.31" r="0.48" fill="#28b828" fill-opacity="0.35"/><circle cx="171.51" cy="683.41" r="0.39" fill="#28b828" fill-opacity="0.34"/><circle cx="169" cy="686.37" r="0.33" fill="#28b828" fill-opacity="0.14"/><circle cx="161.91" cy="683.33" r="0.41" fill="#28b828" fill-opacity="0.17"/><circle cx="171.94" cy="683.12" r="0.5" fill="#28b828" fill-opacity="0.3"/><circle cx="164.77" cy="690.67" r="0.46" fill="#28b828" fill-opacity="0.16"/><circle cx="172.11" cy="687.91" r="0.33" fill="#28b828" fill-opacity="0.15"/><circle cx="163.83" cy="688.09" r="0.44" fill="#28b828" fill-opacity="0.35"/></g>
<g filter="url(#b6)"><circle cx="232.67" cy="675.23" r="0.95" fill="#38ff38" fill-opacity="0.9"/><circle cx="240.79" cy="669.48" r="1.02" fill="#38ff38" fill-opacity="0.66"/><circle cx="227.54" cy="662.46" r="0.73" fill="#38ff38" fill-opacity="0.53"/><circle cx="226.81" cy="675.88" r="0.9" fill="#38ff38" fill-opacity="0.83"/><circle cx="226.37" cy="674.35" r="0.95" fill="#38ff38" fill-opacity="0.85"/><circle cx="241.98" cy="675.31" r="0.81" fill="#38ff38" fill-opacity="0.6"/><circle cx="227.72" cy="665.36" r="0.75" fill="#38ff38" fill-opacity="0.75"/><circle cx="233.68" cy="670.19" r="0.68" fill="#38ff38" fill-opacity="0.57"/><circle cx="239.25" cy="675.11" r="0.89" fill="#38ff38" fill-opacity="0.86"/><circle cx="226.96" cy="663.04" r="0.58" fill="#38ff38" fill-opacity="0.9"/><circle cx="238.71" cy="670.54" r="0.9" fill="#38ff38" fill-opacity="0.62"/><circle cx="230.16" cy="672.01" r="0.49" fill="#38ff38" fill-opacity="0.59"/><circle cx="225.88" cy="667.7" r="0.44" fill="#38ff38" fill-opacity="0.6"/><circle cx="222.9" cy="673.64" r="0.66" fill="#38ff38" fill-opacity="0.56"/><circle cx="242.19" cy="668.05" r="0.75" fill="#38ff38" fill-opacity="0.9"/><circle cx="234.52" cy="682.64" r="0.44" fill="#38ff38" fill-opacity="0.82"/><circle cx="228.23" cy="668.34" r="0.9" fill="#38ff38" fill-opacity="0.82"/><circle cx="228.36" cy="669.45" r="0.58" fill="#38ff38" fill-opacity="0.92"/><circle cx="234.64" cy="666.76" r="0.75" fill="#38ff38" fill-opacity="0.48"/><circle cx="226.7" cy="673.04" r="1.03" fill="#38ff38" fill-opacity="0.88"/><circle cx="233.09" cy="679.84" r="0.56" fill="#38ff38" fill-opacity="0.8"/><circle cx="228.96" cy="681.16" r="1.04" fill="#38ff38" fill-opacity="0.52"/><circle cx="231.19" cy="675.44" r="0.92" fill="#38ff38" fill-opacity="0.58"/><circle cx="237.79" cy="678.3" r="0.96" fill="#38ff38" fill-opacity="0.82"/><circle cx="240.3" cy="675.71" r="0.75" fill="#38ff38" fill-opacity="0.68"/><circle cx="229.86" cy="672.03" r="0.72" fill="#38ff38" fill-opacity="0.65"/><circle cx="223.84" cy="670.34" r="1.01" fill="#38ff38" fill-opacity="0.6"/><circle cx="230.93" cy="665.67" r="0.97" fill="#38ff38" fill-opacity="0.93"/></g>
</g>
<line x1="84.3" y1="537.8" x2="84.3" y2="711.3" stroke="#c8c8c8" stroke-width="0.7"/>
<line x1="145.2" y1="537.8" x2="145.2" y2="711.3" stroke="#c8c8c8" stroke-width="0.7"/>
<line x1="207.2" y1="537.8" x2="207.2" y2="711.3" stroke="#c8c8c8" stroke-width="0.7"/>
<line x1="23" y1="595.8" x2="269" y2="595.8" stroke="#c8c8c8" stroke-width="0.7"/>
<line x1="23" y1="653.8" x2="269" y2="653.8" stroke="#c8c8c8" stroke-width="0.7"/>
</g>
<g id="panelH">
<text x="0" y="736.72" font-size="14.3" font-weight="bold" stroke="#000" stroke-width="0.26">H</text>
<text transform="translate(39.9 804.8) rotate(-90)" y="3.4" font-size="9.8" font-weight="bold" text-anchor="middle"><tspan font-weight="normal" font-style="italic" font-size="9.5">&#947;</tspan>H2A.X foci/cell</text>
<line x1="65.4" y1="835.4" x2="243" y2="835.4" stroke="#000" stroke-width="1" stroke-dasharray="1 2.1"/>
<line x1="65.4" y1="740.4" x2="65.4" y2="867.4" stroke="#000" stroke-width="1.45"/>
<line x1="64.7" y1="866.7" x2="246.1" y2="866.7" stroke="#000" stroke-width="1.45"/>
<line x1="62.2" y1="866.82" x2="65.4" y2="866.82" stroke="#000" stroke-width="1.1"/>
<text x="61.3" y="870.08" font-size="9.1" text-anchor="end" font-weight="bold" stroke="#000" stroke-width="0.16">-20</text>
<line x1="62.2" y1="835.4" x2="65.4" y2="835.4" stroke="#000" stroke-width="1.1"/>
<text x="61.3" y="838.66" font-size="9.1" text-anchor="end" font-weight="bold" stroke="#000" stroke-width="0.16">0</text>
<line x1="62.2" y1="803.98" x2="65.4" y2="803.98" stroke="#000" stroke-width="1.1"/>
<text x="61.3" y="807.24" font-size="9.1" text-anchor="end" font-weight="bold" stroke="#000" stroke-width="0.16">20</text>
<line x1="62.2" y1="772.56" x2="65.4" y2="772.56" stroke="#000" stroke-width="1.1"/>
<text x="61.3" y="775.82" font-size="9.1" text-anchor="end" font-weight="bold" stroke="#000" stroke-width="0.16">40</text>
<line x1="62.2" y1="741.14" x2="65.4" y2="741.14" stroke="#000" stroke-width="1.1"/>
<text x="61.3" y="744.4" font-size="9.1" text-anchor="end" font-weight="bold" stroke="#000" stroke-width="0.16">60</text>
<circle cx="93" cy="758.42" r="2.7" fill="#000000"/>
<circle cx="93" cy="766.75" r="2.7" fill="#000000"/>
<circle cx="93" cy="779.32" r="2.7" fill="#000000"/>
<circle cx="93" cy="794.55" r="2.7" fill="#000000"/>
<circle cx="89.5" cy="810.26" r="2.7" fill="#000000"/>
<circle cx="96.5" cy="813.41" r="2.7" fill="#000000"/>
<circle cx="93" cy="814.19" r="2.7" fill="#000000"/>
<circle cx="89.5" cy="821.26" r="2.7" fill="#000000"/>
<circle cx="96.5" cy="822.83" r="2.7" fill="#000000"/>
<circle cx="92" cy="825.19" r="2.7" fill="#000000"/>
<circle cx="95" cy="827.54" r="2.7" fill="#000000"/>
<circle cx="90" cy="829.9" r="2.7" fill="#000000"/>
<circle cx="98.5" cy="830.69" r="2.7" fill="#000000"/>
<circle cx="102" cy="831.47" r="2.7" fill="#000000"/>
<circle cx="82.5" cy="832.26" r="2.7" fill="#000000"/>
<circle cx="86" cy="833.83" r="2.7" fill="#000000"/>
<circle cx="89" cy="834.61" r="2.7" fill="#000000"/>
<circle cx="93" cy="835.4" r="2.7" fill="#000000"/>
<circle cx="99" cy="835.87" r="2.7" fill="#000000"/>
<circle cx="103.5" cy="835.87" r="2.7" fill="#000000"/>
<circle cx="85" cy="834.93" r="2.7" fill="#000000"/>
<circle cx="95" cy="831.94" r="2.7" fill="#000000"/>
<line x1="79.3" y1="816.55" x2="106.7" y2="816.55" stroke="#000000" stroke-width="1.45"/>
<line x1="93" y1="794.24" x2="93" y2="839.17" stroke="#000000" stroke-width="1.45"/>
<line x1="86.1" y1="794.24" x2="99.9" y2="794.24" stroke="#000000" stroke-width="1.45"/>
<line x1="86.1" y1="839.17" x2="99.9" y2="839.17" stroke="#000000" stroke-width="1.45"/>
<text x="93" y="858.01" font-size="9.8" text-anchor="middle">n=22</text>
<rect x="125.65" y="754.61" width="5.1" height="5.1" fill="#ff0000"/>
<rect x="128.15" y="754.61" width="5.1" height="5.1" fill="#ff0000"/>
<rect x="130.65" y="754.61" width="5.1" height="5.1" fill="#ff0000"/>
<rect x="133.15" y="754.61" width="5.1" height="5.1" fill="#ff0000"/>
<rect x="135.65" y="754.61" width="5.1" height="5.1" fill="#ff0000"/>
<rect x="138.15" y="754.61" width="5.1" height="5.1" fill="#ff0000"/>
<rect x="127.65" y="762.15" width="5.1" height="5.1" fill="#ff0000"/>
<rect x="135.65" y="766.87" width="5.1" height="5.1" fill="#ff0000"/>
<rect x="128.15" y="772.37" width="5.1" height="5.1" fill="#ff0000"/>
<rect x="131.65" y="773.15" width="5.1" height="5.1" fill="#ff0000"/>
<rect x="128.15" y="777.87" width="5.1" height="5.1" fill="#ff0000"/>
<rect x="132.65" y="777.87" width="5.1" height="5.1" fill="#ff0000"/>
<rect x="135.95" y="779.44" width="5.1" height="5.1" fill="#ff0000"/>
<rect x="131.95" y="784.93" width="5.1" height="5.1" fill="#ff0000"/>
<rect x="130.15" y="794.36" width="5.1" height="5.1" fill="#ff0000"/>
<rect x="134.15" y="794.36" width="5.1" height="5.1" fill="#ff0000"/>
<rect x="119.65" y="820.28" width="5.1" height="5.1" fill="#ff0000"/>
<rect x="122.65" y="821.07" width="5.1" height="5.1" fill="#ff0000"/>
<rect x="127.15" y="817.93" width="5.1" height="5.1" fill="#ff0000"/>
<rect x="130.15" y="818.71" width="5.1" height="5.1" fill="#ff0000"/>
<rect x="133.15" y="817.14" width="5.1" height="5.1" fill="#ff0000"/>
<rect x="136.65" y="817.93" width="5.1" height="5.1" fill="#ff0000"/>
<rect x="140.15" y="819.5" width="5.1" height="5.1" fill="#ff0000"/>
<rect x="143.15" y="821.07" width="5.1" height="5.1" fill="#ff0000"/>
<rect x="126.15" y="832.06" width="5.1" height="5.1" fill="#ff0000"/>
<rect x="129.15" y="832.06" width="5.1" height="5.1" fill="#ff0000"/>
<rect x="132.15" y="832.06" width="5.1" height="5.1" fill="#ff0000"/>
<rect x="135.15" y="832.38" width="5.1" height="5.1" fill="#ff0000"/>
<rect x="137.65" y="833.79" width="5.1" height="5.1" fill="#ff0000"/>
<line x1="121" y1="794.55" x2="148.4" y2="794.55" stroke="#ff0000" stroke-width="1.45"/>
<line x1="134.7" y1="764.08" x2="134.7" y2="824.4" stroke="#ff0000" stroke-width="1.45"/>
<line x1="127.8" y1="764.08" x2="141.6" y2="764.08" stroke="#ff0000" stroke-width="1.45"/>
<line x1="127.8" y1="824.4" x2="141.6" y2="824.4" stroke="#ff0000" stroke-width="1.45"/>
<text x="134.7" y="858.01" font-size="9.8" text-anchor="middle">n=26</text>
<path d="M176.2 757.72 L179 762.72 L173.4 762.72 Z" stroke="none" stroke-width="0" fill="#00c000"/>
<path d="M176.2 820.72 L179 825.72 L173.4 825.72 Z" stroke="none" stroke-width="0" fill="#00c000"/>
<path d="M174.7 824.64 L177.5 829.64 L171.9 829.64 Z" stroke="none" stroke-width="0" fill="#00c000"/>
<path d="M177.7 824.64 L180.5 829.64 L174.9 829.64 Z" stroke="none" stroke-width="0" fill="#00c000"/>
<path d="M166.2 827.79 L169 832.79 L163.4 832.79 Z" stroke="none" stroke-width="0" fill="#00c000"/>
<path d="M169.2 827.79 L172 832.79 L166.4 832.79 Z" stroke="none" stroke-width="0" fill="#00c000"/>
<path d="M172.2 827.79 L175 832.79 L169.4 832.79 Z" stroke="none" stroke-width="0" fill="#00c000"/>
<path d="M179.2 827.79 L182 832.79 L176.4 832.79 Z" stroke="none" stroke-width="0" fill="#00c000"/>
<path d="M182.2 828.57 L185 833.57 L179.4 833.57 Z" stroke="none" stroke-width="0" fill="#00c000"/>
<path d="M185.2 829.36 L188 834.36 L182.4 834.36 Z" stroke="none" stroke-width="0" fill="#00c000"/>
<path d="M168.2 831.24 L171 836.24 L165.4 836.24 Z" stroke="none" stroke-width="0" fill="#00c000"/>
<path d="M171.2 831.24 L174 836.24 L168.4 836.24 Z" stroke="none" stroke-width="0" fill="#00c000"/>
<path d="M174.2 831.24 L177 836.24 L171.4 836.24 Z" stroke="none" stroke-width="0" fill="#00c000"/>
<path d="M177.2 831.24 L180 836.24 L174.4 836.24 Z" stroke="none" stroke-width="0" fill="#00c000"/>
<path d="M180.2 831.24 L183 836.24 L177.4 836.24 Z" stroke="none" stroke-width="0" fill="#00c000"/>
<path d="M183.7 831.24 L186.5 836.24 L180.9 836.24 Z" stroke="none" stroke-width="0" fill="#00c000"/>
<path d="M186.2 831.24 L189 836.24 L183.4 836.24 Z" stroke="none" stroke-width="0" fill="#00c000"/>
<path d="M165.7 831.71 L168.5 836.71 L162.9 836.71 Z" stroke="none" stroke-width="0" fill="#00c000"/>
<path d="M173.2 833.29 L176 838.29 L170.4 838.29 Z" stroke="none" stroke-width="0" fill="#00c000"/>
<path d="M176.2 826.22 L179 831.22 L173.4 831.22 Z" stroke="none" stroke-width="0" fill="#00c000"/>
<path d="M170.2 833.13 L173 838.13 L167.4 838.13 Z" stroke="none" stroke-width="0" fill="#00c000"/>
<path d="M178.7 832.5 L181.5 837.5 L175.9 837.5 Z" stroke="none" stroke-width="0" fill="#00c000"/>
<path d="M181.7 832.5 L184.5 837.5 L178.9 837.5 Z" stroke="none" stroke-width="0" fill="#00c000"/>
<line x1="162.5" y1="828.8" x2="189.9" y2="828.8" stroke="#00c000" stroke-width="1.45"/>
<line x1="176.2" y1="813.56" x2="176.2" y2="843.73" stroke="#00c000" stroke-width="1.45"/>
<line x1="169.3" y1="813.56" x2="183.1" y2="813.56" stroke="#00c000" stroke-width="1.45"/>
<line x1="169.3" y1="843.73" x2="183.1" y2="843.73" stroke="#00c000" stroke-width="1.45"/>
<text x="176.2" y="858.01" font-size="9.8" text-anchor="middle">n=23</text>
<path d="M218.1 760.54 L220.9 755.54 L215.3 755.54 Z" stroke="none" stroke-width="0" fill="#a71ceb"/>
<path d="M218.1 769.96 L220.9 764.96 L215.3 764.96 Z" stroke="none" stroke-width="0" fill="#a71ceb"/>
<path d="M218.1 781.74 L220.9 776.74 L215.3 776.74 Z" stroke="none" stroke-width="0" fill="#a71ceb"/>
<path d="M218.1 789.6 L220.9 784.6 L215.3 784.6 Z" stroke="none" stroke-width="0" fill="#a71ceb"/>
<path d="M218.1 797.45 L220.9 792.45 L215.3 792.45 Z" stroke="none" stroke-width="0" fill="#a71ceb"/>
<path d="M218.1 806.88 L220.9 801.88 L215.3 801.88 Z" stroke="none" stroke-width="0" fill="#a71ceb"/>
<path d="M219.1 812.38 L221.9 807.38 L216.3 807.38 Z" stroke="none" stroke-width="0" fill="#a71ceb"/>
<path d="M217.1 816.31 L219.9 811.31 L214.3 811.31 Z" stroke="none" stroke-width="0" fill="#a71ceb"/>
<path d="M216.6 824.16 L219.4 819.16 L213.8 819.16 Z" stroke="none" stroke-width="0" fill="#a71ceb"/>
<path d="M219.6 823.38 L222.4 818.38 L216.8 818.38 Z" stroke="none" stroke-width="0" fill="#a71ceb"/>
<path d="M216.6 828.87 L219.4 823.87 L213.8 823.87 Z" stroke="none" stroke-width="0" fill="#a71ceb"/>
<path d="M220.1 830.44 L222.9 825.44 L217.3 825.44 Z" stroke="none" stroke-width="0" fill="#a71ceb"/>
<path d="M206.6 833.9 L209.4 828.9 L203.8 828.9 Z" stroke="none" stroke-width="0" fill="#a71ceb"/>
<path d="M210.1 834.84 L212.9 829.84 L207.3 829.84 Z" stroke="none" stroke-width="0" fill="#a71ceb"/>
<path d="M213.1 833.9 L215.9 828.9 L210.3 828.9 Z" stroke="none" stroke-width="0" fill="#a71ceb"/>
<path d="M223.6 833.9 L226.4 828.9 L220.8 828.9 Z" stroke="none" stroke-width="0" fill="#a71ceb"/>
<path d="M227.1 833.59 L229.9 828.59 L224.3 828.59 Z" stroke="none" stroke-width="0" fill="#a71ceb"/>
<path d="M230.1 834.84 L232.9 829.84 L227.3 829.84 Z" stroke="none" stroke-width="0" fill="#a71ceb"/>
<path d="M215.1 837.51 L217.9 832.51 L212.3 832.51 Z" stroke="none" stroke-width="0" fill="#a71ceb"/>
<path d="M218.6 836.41 L221.4 831.41 L215.8 831.41 Z" stroke="none" stroke-width="0" fill="#a71ceb"/>
<path d="M221.6 837.36 L224.4 832.36 L218.8 832.36 Z" stroke="none" stroke-width="0" fill="#a71ceb"/>
<line x1="204.4" y1="814.51" x2="231.8" y2="814.51" stroke="#a71ceb" stroke-width="1.45"/>
<line x1="218.1" y1="790.63" x2="218.1" y2="838.54" stroke="#a71ceb" stroke-width="1.45"/>
<line x1="211.2" y1="790.63" x2="225" y2="790.63" stroke="#a71ceb" stroke-width="1.45"/>
<line x1="211.2" y1="838.54" x2="225" y2="838.54" stroke="#a71ceb" stroke-width="1.45"/>
<text x="218.1" y="858.01" font-size="9.8" text-anchor="middle">n=21</text>
<path d="M91.4 746.2 V740.4 H132.8 V746.2" stroke="#333" stroke-width="0.7" fill="none"/>
<path d="M136.3 746.2 V740.4 H219.5 V746.2" stroke="#333" stroke-width="0.7" fill="none"/>
<text x="111.4" y="737.1" font-size="7" text-anchor="middle"><tspan font-style="italic">p</tspan> &lt; 0.01</text>
<text x="176.2" y="737.1" font-size="7" text-anchor="middle"><tspan font-style="italic">p</tspan> &lt; 0.05</text>
<text x="65.4" y="879.74" font-size="8.2" text-anchor="end" font-weight="bold" stroke="#000" stroke-width="0.15">Auranofin</text>
<text x="65.4" y="888.94" font-size="8.2" text-anchor="end" font-weight="bold" stroke="#000" stroke-width="0.15">NAC</text>
<text x="93" y="879.01" font-size="8" text-anchor="middle" font-weight="bold" stroke="#000" stroke-width="0.3">-</text>
<text x="93" y="888.21" font-size="8" text-anchor="middle" font-weight="bold" stroke="#000" stroke-width="0.3">-</text>
<text x="134.2" y="879.01" font-size="8" text-anchor="middle" font-weight="bold" stroke="#000" stroke-width="0.3">-</text>
<text x="134.2" y="888.66" font-size="8" text-anchor="middle" font-weight="bold" stroke="#000" stroke-width="0.3">+</text>
<text x="176.4" y="879.46" font-size="8" text-anchor="middle" font-weight="bold" stroke="#000" stroke-width="0.3">+</text>
<text x="218.6" y="879.46" font-size="8" text-anchor="middle" font-weight="bold" stroke="#000" stroke-width="0.3">+</text>
<text x="218.6" y="888.66" font-size="8" text-anchor="middle" font-weight="bold" stroke="#000" stroke-width="0.3">+</text>
</g>
<g id="panelI">
<text x="294.7" y="527.12" font-size="14.3" font-weight="bold" stroke="#000" stroke-width="0.26">I</text>
<rect x="302.4" y="582.7" width="10" height="9.78" fill="#001100"/>
<rect x="311.9" y="582.7" width="10" height="9.78" fill="#3b0000"/>
<rect x="321.4" y="582.7" width="10" height="9.78" fill="#004c00"/>
<rect x="330.9" y="582.7" width="10" height="9.78" fill="#4c0000"/>
<rect x="340.4" y="582.7" width="10" height="9.78" fill="#004c00"/>
<rect x="349.9" y="582.7" width="9.5" height="9.78" fill="#3b0000"/>
<text x="361.4" y="589.41" font-size="8.3" stroke="#000" stroke-width="0.18">HSP27_Ps82</text>
<rect x="302.4" y="591.98" width="10" height="9.78" fill="#004400"/>
<rect x="311.9" y="591.98" width="10" height="9.78" fill="#3b0000"/>
<rect x="321.4" y="591.98" width="10" height="9.78" fill="#002a00"/>
<rect x="330.9" y="591.98" width="10" height="9.78" fill="#330000"/>
<rect x="340.4" y="591.98" width="10" height="9.78" fill="#004400"/>
<rect x="349.9" y="591.98" width="9.5" height="9.78" fill="#3b0000"/>
<text x="361.4" y="598.69" font-size="8.3" stroke="#000" stroke-width="0.18">Hif-1-alpha</text>
<rect x="302.4" y="601.26" width="10" height="9.78" fill="#004400"/>
<rect x="311.9" y="601.26" width="10" height="9.78" fill="#3b0000"/>
<rect x="321.4" y="601.26" width="10" height="9.78" fill="#050000"/>
<rect x="330.9" y="601.26" width="10" height="9.78" fill="#000000"/>
<rect x="340.4" y="601.26" width="10" height="9.78" fill="#004400"/>
<rect x="349.9" y="601.26" width="9.5" height="9.78" fill="#440000"/>
<text x="361.4" y="607.97" font-size="8.3" stroke="#000" stroke-width="0.18">Pdcd4</text>
<rect x="302.4" y="610.54" width="10" height="9.78" fill="#003b00"/>
<rect x="311.9" y="610.54" width="10" height="9.78" fill="#330000"/>
<rect x="321.4" y="610.54" width="10" height="9.78" fill="#008000"/>
<rect x="330.9" y="610.54" width="10" height="9.78" fill="#800000"/>
<rect x="340.4" y="610.54" width="10" height="9.78" fill="#003b00"/>
<rect x="349.9" y="610.54" width="9.5" height="9.78" fill="#330000"/>
<text x="361.4" y="617.25" font-size="8.3" stroke="#000" stroke-width="0.18">HSP70</text>
<rect x="302.4" y="619.82" width="10" height="9.78" fill="#000000"/>
<rect x="311.9" y="619.82" width="10" height="9.78" fill="#000000"/>
<rect x="321.4" y="619.82" width="10" height="9.78" fill="#00a200"/>
<rect x="330.9" y="619.82" width="10" height="9.78" fill="#cc0000"/>
<rect x="340.4" y="619.82" width="10" height="9.78" fill="#001900"/>
<rect x="349.9" y="619.82" width="9.5" height="9.78" fill="#190000"/>
<text x="361.4" y="626.53" font-size="8.3" stroke="#000" stroke-width="0.18">Histone-H3</text>
<rect x="302.4" y="629.1" width="10" height="9.78" fill="#001100"/>
<rect x="311.9" y="629.1" width="10" height="9.78" fill="#110000"/>
<rect x="321.4" y="629.1" width="10" height="9.78" fill="#007700"/>
<rect x="330.9" y="629.1" width="10" height="9.78" fill="#a20000"/>
<rect x="340.4" y="629.1" width="10" height="9.78" fill="#001100"/>
<rect x="349.9" y="629.1" width="9.5" height="9.78" fill="#110000"/>
<text x="361.4" y="635.81" font-size="8.3" stroke="#000" stroke-width="0.18">DM-Histone-H3</text>
<rect x="302.4" y="638.38" width="10" height="9.78" fill="#003300"/>
<rect x="311.9" y="638.38" width="10" height="9.78" fill="#330000"/>
<rect x="321.4" y="638.38" width="10" height="9.78" fill="#007700"/>
<rect x="330.9" y="638.38" width="10" height="9.78" fill="#880000"/>
<rect x="340.4" y="638.38" width="10" height="9.78" fill="#001900"/>
<rect x="349.9" y="638.38" width="9.5" height="9.78" fill="#190000"/>
<text x="361.4" y="645.09" font-size="8.3" stroke="#000" stroke-width="0.18">Caspase-7-cleaved</text>
<rect x="302.4" y="647.66" width="10" height="9.78" fill="#002200"/>
<rect x="311.9" y="647.66" width="10" height="9.78" fill="#220000"/>
<rect x="321.4" y="647.66" width="10" height="9.78" fill="#005500"/>
<rect x="330.9" y="647.66" width="10" height="9.78" fill="#900000"/>
<rect x="340.4" y="647.66" width="10" height="9.78" fill="#001900"/>
<rect x="349.9" y="647.66" width="9.5" height="9.78" fill="#190000"/>
<text x="361.4" y="654.37" font-size="8.3" stroke="#000" stroke-width="0.18">H2AX_pS140</text>
<rect x="302.4" y="656.94" width="10" height="9.78" fill="#002200"/>
<rect x="311.9" y="656.94" width="10" height="9.78" fill="#220000"/>
<rect x="321.4" y="656.94" width="10" height="9.78" fill="#005500"/>
<rect x="330.9" y="656.94" width="10" height="9.78" fill="#770000"/>
<rect x="340.4" y="656.94" width="10" height="9.78" fill="#001900"/>
<rect x="349.9" y="656.94" width="9.5" height="9.78" fill="#190000"/>
<text x="361.4" y="663.65" font-size="8.3" stroke="#000" stroke-width="0.18">LC3A-B</text>
<rect x="302.4" y="666.22" width="10" height="9.78" fill="#001900"/>
<rect x="311.9" y="666.22" width="10" height="9.78" fill="#190000"/>
<rect x="321.4" y="666.22" width="10" height="9.78" fill="#004400"/>
<rect x="330.9" y="666.22" width="10" height="9.78" fill="#550000"/>
<rect x="340.4" y="666.22" width="10" height="9.78" fill="#001900"/>
<rect x="349.9" y="666.22" width="9.5" height="9.78" fill="#190000"/>
<text x="361.4" y="672.93" font-size="8.3" stroke="#000" stroke-width="0.18">TFAM</text>
<rect x="302.4" y="675.5" width="10" height="9.78" fill="#000300"/>
<rect x="311.9" y="675.5" width="10" height="9.78" fill="#000800"/>
<rect x="321.4" y="675.5" width="10" height="9.78" fill="#007700"/>
<rect x="330.9" y="675.5" width="10" height="9.78" fill="#880000"/>
<rect x="340.4" y="675.5" width="10" height="9.78" fill="#000000"/>
<rect x="349.9" y="675.5" width="9.5" height="9.78" fill="#000800"/>
<text x="361.4" y="682.21" font-size="8.3" stroke="#000" stroke-width="0.18">Caspase-3</text>
<rect x="302.4" y="684.78" width="10" height="9.78" fill="#001900"/>
<rect x="311.9" y="684.78" width="10" height="9.78" fill="#080000"/>
<rect x="321.4" y="684.78" width="10" height="9.78" fill="#004c00"/>
<rect x="330.9" y="684.78" width="10" height="9.78" fill="#4c0000"/>
<rect x="340.4" y="684.78" width="10" height="9.78" fill="#002200"/>
<rect x="349.9" y="684.78" width="9.5" height="9.78" fill="#190000"/>
<text x="361.4" y="691.49" font-size="8.3" stroke="#000" stroke-width="0.18">SLC1A5</text>
<rect x="302.4" y="694.06" width="10" height="9.78" fill="#4c0000"/>
<rect x="311.9" y="694.06" width="10" height="9.78" fill="#004400"/>
<rect x="321.4" y="694.06" width="10" height="9.78" fill="#190000"/>
<rect x="330.9" y="694.06" width="10" height="9.78" fill="#001100"/>
<rect x="340.4" y="694.06" width="10" height="9.78" fill="#330000"/>
<rect x="349.9" y="694.06" width="9.5" height="9.78" fill="#003300"/>
<text x="361.4" y="700.77" font-size="8.3" stroke="#000" stroke-width="0.18">Chk1_pS296</text>
<rect x="302.4" y="703.34" width="10" height="9.78" fill="#330000"/>
<rect x="311.9" y="703.34" width="10" height="9.78" fill="#001900"/>
<rect x="321.4" y="703.34" width="10" height="9.78" fill="#5e0000"/>
<rect x="330.9" y="703.34" width="10" height="9.78" fill="#005500"/>
<rect x="340.4" y="703.34" width="10" height="9.78" fill="#6e0000"/>
<rect x="349.9" y="703.34" width="9.5" height="9.78" fill="#007700"/>
<text x="361.4" y="710.05" font-size="8.3" stroke="#000" stroke-width="0.18">S6_pS240</text>
<rect x="302.4" y="712.62" width="10" height="9.78" fill="#190000"/>
<rect x="311.9" y="712.62" width="10" height="9.78" fill="#002200"/>
<rect x="321.4" y="712.62" width="10" height="9.78" fill="#550000"/>
<rect x="330.9" y="712.62" width="10" height="9.78" fill="#005500"/>
<rect x="340.4" y="712.62" width="10" height="9.78" fill="#4c0000"/>
<rect x="349.9" y="712.62" width="9.5" height="9.78" fill="#003300"/>
<text x="361.4" y="719.33" font-size="8.3" stroke="#000" stroke-width="0.18">ARIDIA</text>
<rect x="302.4" y="721.9" width="10" height="9.78" fill="#2a0000"/>
<rect x="311.9" y="721.9" width="10" height="9.78" fill="#003300"/>
<rect x="321.4" y="721.9" width="10" height="9.78" fill="#550000"/>
<rect x="330.9" y="721.9" width="10" height="9.78" fill="#005e00"/>
<rect x="340.4" y="721.9" width="10" height="9.78" fill="#330000"/>
<rect x="349.9" y="721.9" width="9.5" height="9.78" fill="#002a00"/>
<text x="361.4" y="728.61" font-size="8.3" stroke="#000" stroke-width="0.18">MSH6</text>
<rect x="302.4" y="731.18" width="10" height="9.78" fill="#190000"/>
<rect x="311.9" y="731.18" width="10" height="9.78" fill="#001100"/>
<rect x="321.4" y="731.18" width="10" height="9.78" fill="#550000"/>
<rect x="330.9" y="731.18" width="10" height="9.78" fill="#005500"/>
<rect x="340.4" y="731.18" width="10" height="9.78" fill="#190000"/>
<rect x="349.9" y="731.18" width="9.5" height="9.78" fill="#001900"/>
<text x="361.4" y="737.89" font-size="8.3" stroke="#000" stroke-width="0.18">Weel</text>
<rect x="302.4" y="740.46" width="10" height="9.78" fill="#220000"/>
<rect x="311.9" y="740.46" width="10" height="9.78" fill="#002200"/>
<rect x="321.4" y="740.46" width="10" height="9.78" fill="#4c0000"/>
<rect x="330.9" y="740.46" width="10" height="9.78" fill="#004400"/>
<rect x="340.4" y="740.46" width="10" height="9.78" fill="#330000"/>
<rect x="349.9" y="740.46" width="9.5" height="9.78" fill="#001900"/>
<text x="361.4" y="747.17" font-size="8.3" stroke="#000" stroke-width="0.18">eIF4G</text>
<rect x="302.4" y="749.74" width="10" height="9.78" fill="#220000"/>
<rect x="311.9" y="749.74" width="10" height="9.78" fill="#002a00"/>
<rect x="321.4" y="749.74" width="10" height="9.78" fill="#a20000"/>
<rect x="330.9" y="749.74" width="10" height="9.78" fill="#00a200"/>
<rect x="340.4" y="749.74" width="10" height="9.78" fill="#3b0000"/>
<rect x="349.9" y="749.74" width="9.5" height="9.78" fill="#003b00"/>
<text x="361.4" y="756.45" font-size="8.3" stroke="#000" stroke-width="0.18">PLK1</text>
<rect x="302.4" y="759.02" width="10" height="9.78" fill="#140000"/>
<rect x="311.9" y="759.02" width="10" height="9.78" fill="#002200"/>
<rect x="321.4" y="759.02" width="10" height="9.78" fill="#5e0000"/>
<rect x="330.9" y="759.02" width="10" height="9.78" fill="#005e00"/>
<rect x="340.4" y="759.02" width="10" height="9.78" fill="#2a0000"/>
<rect x="349.9" y="759.02" width="9.5" height="9.78" fill="#002200"/>
<text x="361.4" y="765.73" font-size="8.3" stroke="#000" stroke-width="0.18">XPA</text>
<rect x="302.4" y="768.3" width="10" height="9.78" fill="#000000"/>
<rect x="311.9" y="768.3" width="10" height="9.78" fill="#000800"/>
<rect x="321.4" y="768.3" width="10" height="9.78" fill="#4c0000"/>
<rect x="330.9" y="768.3" width="10" height="9.78" fill="#005500"/>
<rect x="340.4" y="768.3" width="10" height="9.78" fill="#220000"/>
<rect x="349.9" y="768.3" width="9.5" height="9.78" fill="#002a00"/>
<text x="361.4" y="775.01" font-size="8.3" stroke="#000" stroke-width="0.18">NDRG1</text>
<rect x="302.4" y="777.58" width="10" height="9.78" fill="#110000"/>
<rect x="311.9" y="777.58" width="10" height="9.78" fill="#001100"/>
<rect x="321.4" y="777.58" width="10" height="9.78" fill="#6e0000"/>
<rect x="330.9" y="777.58" width="10" height="9.78" fill="#006600"/>
<rect x="340.4" y="777.58" width="10" height="9.78" fill="#190000"/>
<rect x="349.9" y="777.58" width="9.5" height="9.78" fill="#001900"/>
<text x="361.4" y="784.29" font-size="8.3" stroke="#000" stroke-width="0.18">cdc25C</text>
<rect x="302.4" y="786.86" width="10" height="9.78" fill="#110000"/>
<rect x="311.9" y="786.86" width="10" height="9.78" fill="#001400"/>
<rect x="321.4" y="786.86" width="10" height="9.78" fill="#440000"/>
<rect x="330.9" y="786.86" width="10" height="9.78" fill="#005500"/>
<rect x="340.4" y="786.86" width="10" height="9.78" fill="#220000"/>
<rect x="349.9" y="786.86" width="9.5" height="9.78" fill="#001900"/>
<text x="361.4" y="793.57" font-size="8.3" stroke="#000" stroke-width="0.18">mTOR_pS2448</text>
<rect x="302.4" y="796.14" width="10" height="9.78" fill="#220000"/>
<rect x="311.9" y="796.14" width="10" height="9.78" fill="#002a00"/>
<rect x="321.4" y="796.14" width="10" height="9.78" fill="#4c0000"/>
<rect x="330.9" y="796.14" width="10" height="9.78" fill="#004c00"/>
<rect x="340.4" y="796.14" width="10" height="9.78" fill="#220000"/>
<rect x="349.9" y="796.14" width="9.5" height="9.78" fill="#002200"/>
<text x="361.4" y="802.85" font-size="8.3" stroke="#000" stroke-width="0.18">ATR_pS428</text>
<rect x="302.4" y="805.42" width="10" height="9.78" fill="#000000"/>
<rect x="311.9" y="805.42" width="10" height="9.78" fill="#001100"/>
<rect x="321.4" y="805.42" width="10" height="9.78" fill="#6e0000"/>
<rect x="330.9" y="805.42" width="10" height="9.78" fill="#007700"/>
<rect x="340.4" y="805.42" width="10" height="9.78" fill="#000000"/>
<rect x="349.9" y="805.42" width="9.5" height="9.78" fill="#000000"/>
<text x="361.4" y="812.13" font-size="8.3" stroke="#000" stroke-width="0.18">STAT3</text>
<rect x="302.4" y="814.7" width="10" height="9.78" fill="#110000"/>
<rect x="311.9" y="814.7" width="10" height="9.78" fill="#002200"/>
<rect x="321.4" y="814.7" width="10" height="9.78" fill="#330000"/>
<rect x="330.9" y="814.7" width="10" height="9.78" fill="#00b300"/>
<rect x="340.4" y="814.7" width="10" height="9.78" fill="#000500"/>
<rect x="349.9" y="814.7" width="9.5" height="9.78" fill="#050000"/>
<text x="361.4" y="821.41" font-size="8.3" stroke="#000" stroke-width="0.18">P38-MAPK</text>
<rect x="302.4" y="823.98" width="10" height="9.78" fill="#0e0000"/>
<rect x="311.9" y="823.98" width="10" height="9.78" fill="#001900"/>
<rect x="321.4" y="823.98" width="10" height="9.78" fill="#4c0000"/>
<rect x="330.9" y="823.98" width="10" height="9.78" fill="#005500"/>
<rect x="340.4" y="823.98" width="10" height="9.78" fill="#140000"/>
<rect x="349.9" y="823.98" width="9.5" height="9.78" fill="#001400"/>
<text x="361.4" y="830.69" font-size="8.3" stroke="#000" stroke-width="0.18">ATM</text>
<rect x="302.4" y="833.26" width="10" height="9.78" fill="#080000"/>
<rect x="311.9" y="833.26" width="10" height="9.78" fill="#001100"/>
<rect x="321.4" y="833.26" width="10" height="9.78" fill="#4c0000"/>
<rect x="330.9" y="833.26" width="10" height="9.78" fill="#005500"/>
<rect x="340.4" y="833.26" width="10" height="9.78" fill="#140000"/>
<rect x="349.9" y="833.26" width="9.5" height="9.78" fill="#001900"/>
<text x="361.4" y="839.97" font-size="8.3" stroke="#000" stroke-width="0.18">TRIM25</text>
<rect x="302.4" y="842.54" width="10" height="9.28" fill="#030000"/>
<rect x="311.9" y="842.54" width="10" height="9.28" fill="#000e00"/>
<rect x="321.4" y="842.54" width="10" height="9.28" fill="#440000"/>
<rect x="330.9" y="842.54" width="10" height="9.28" fill="#005500"/>
<rect x="340.4" y="842.54" width="10" height="9.28" fill="#140000"/>
<rect x="349.9" y="842.54" width="9.5" height="9.28" fill="#001400"/>
<text x="361.4" y="849.25" font-size="8.3" stroke="#000" stroke-width="0.18">STAT5a</text>
<text x="307.15" y="579.06" font-size="8.4" text-anchor="middle" font-weight="bold" stroke="#000" stroke-width="0.3">-</text>
<text x="316.65" y="579.51" font-size="8.4" text-anchor="middle" font-weight="bold" stroke="#000" stroke-width="0.3">+</text>
<text x="326.15" y="579.06" font-size="8.4" text-anchor="middle" font-weight="bold" stroke="#000" stroke-width="0.3">-</text>
<text x="335.65" y="579.51" font-size="8.4" text-anchor="middle" font-weight="bold" stroke="#000" stroke-width="0.3">+</text>
<text x="345.15" y="579.06" font-size="8.4" text-anchor="middle" font-weight="bold" stroke="#000" stroke-width="0.3">-</text>
<text x="354.65" y="579.51" font-size="8.4" text-anchor="middle" font-weight="bold" stroke="#000" stroke-width="0.3">+</text>
<text x="361.2" y="579.14" font-size="8.2" font-weight="bold" stroke="#000" stroke-width="0.15">Auranofin</text>
<text transform="translate(312.3 565.8) rotate(-90)" y="3.3" font-size="9.3" font-weight="bold" stroke="#000" stroke-width="0.15">OCI-LY10</text>
<text transform="translate(329.8 565.8) rotate(-90)" y="3.3" font-size="9.3" font-weight="bold" stroke="#000" stroke-width="0.15">U2932</text>
<text transform="translate(348.4 565.8) rotate(-90)" y="3.3" font-size="9.3" font-weight="bold" stroke="#000" stroke-width="0.15">OCI-Ly8</text>
<path d="M303.6 572.8 V570.6 H318.9 V572.8" stroke="#000" stroke-width="1" fill="none"/>
<path d="M322.8 572.8 V570.6 H338.2 V572.8" stroke="#000" stroke-width="1" fill="none"/>
<path d="M341.5 572.8 V570.6 H356.8 V572.8" stroke="#000" stroke-width="1" fill="none"/>
<rect x="303.2" y="871.8" width="7.64" height="7.2" fill="#1eff3c"/>
<text transform="translate(306.82 871) rotate(-90)" y="2.5" font-size="7">-1.50</text>
<rect x="310.44" y="871.8" width="7.64" height="7.2" fill="#00cc22"/>
<text transform="translate(314.06 871) rotate(-90)" y="2.5" font-size="7">-1.00</text>
<rect x="317.69" y="871.8" width="7.64" height="7.2" fill="#008000"/>
<text transform="translate(321.31 871) rotate(-90)" y="2.5" font-size="7">-0.50</text>
<rect x="324.93" y="871.8" width="7.64" height="7.2" fill="#000000"/>
<text transform="translate(328.55 871) rotate(-90)" y="2.5" font-size="7">0.00</text>
<rect x="332.17" y="871.8" width="7.64" height="7.2" fill="#800000"/>
<text transform="translate(335.79 871) rotate(-90)" y="2.5" font-size="7">0.50</text>
<rect x="339.41" y="871.8" width="7.64" height="7.2" fill="#cc0000"/>
<text transform="translate(343.04 871) rotate(-90)" y="2.5" font-size="7">1.00</text>
<rect x="346.66" y="871.8" width="7.24" height="7.2" fill="#ff0000"/>
<text transform="translate(350.28 871) rotate(-90)" y="2.5" font-size="7">1.50</text>
</g>
<g id="panelJ">
<text x="496.8" y="527.12" font-size="14.3" font-weight="bold" stroke="#000" stroke-width="0.26">J</text>
<rect x="502.9" y="582.6" width="10.22" height="9.84" fill="#000e00"/>
<rect x="512.62" y="582.6" width="10.22" height="9.84" fill="#110000"/>
<rect x="522.34" y="582.6" width="10.22" height="9.84" fill="#001900"/>
<rect x="532.06" y="582.6" width="10.22" height="9.84" fill="#2a0000"/>
<rect x="541.78" y="582.6" width="10.22" height="9.84" fill="#030000"/>
<rect x="551.5" y="582.6" width="9.72" height="9.84" fill="#000800"/>
<text x="563.6" y="589.34" font-size="8.3" stroke="#000" stroke-width="0.18">CD171</text>
<rect x="502.9" y="591.94" width="10.22" height="9.84" fill="#030000"/>
<rect x="512.62" y="591.94" width="10.22" height="9.84" fill="#190000"/>
<rect x="522.34" y="591.94" width="10.22" height="9.84" fill="#001400"/>
<rect x="532.06" y="591.94" width="10.22" height="9.84" fill="#660000"/>
<rect x="541.78" y="591.94" width="10.22" height="9.84" fill="#000000"/>
<rect x="551.5" y="591.94" width="9.72" height="9.84" fill="#030000"/>
<text x="563.6" y="598.68" font-size="8.3" stroke="#000" stroke-width="0.18">WIPI1</text>
<rect x="502.9" y="601.28" width="10.22" height="9.84" fill="#000000"/>
<rect x="512.62" y="601.28" width="10.22" height="9.84" fill="#110000"/>
<rect x="522.34" y="601.28" width="10.22" height="9.84" fill="#001900"/>
<rect x="532.06" y="601.28" width="10.22" height="9.84" fill="#440000"/>
<rect x="541.78" y="601.28" width="10.22" height="9.84" fill="#140000"/>
<rect x="551.5" y="601.28" width="9.72" height="9.84" fill="#001100"/>
<text x="563.6" y="608.02" font-size="8.3" stroke="#000" stroke-width="0.18">VHL-EPPK1</text>
<rect x="502.9" y="610.62" width="10.22" height="9.84" fill="#000800"/>
<rect x="512.62" y="610.62" width="10.22" height="9.84" fill="#0e0000"/>
<rect x="522.34" y="610.62" width="10.22" height="9.84" fill="#000e00"/>
<rect x="532.06" y="610.62" width="10.22" height="9.84" fill="#080000"/>
<rect x="541.78" y="610.62" width="10.22" height="9.84" fill="#003b00"/>
<rect x="551.5" y="610.62" width="9.72" height="9.84" fill="#110000"/>
<text x="563.6" y="617.36" font-size="8.3" stroke="#000" stroke-width="0.18">PRAS40</text>
<rect x="502.9" y="619.96" width="10.22" height="9.84" fill="#003300"/>
<rect x="512.62" y="619.96" width="10.22" height="9.84" fill="#330000"/>
<rect x="522.34" y="619.96" width="10.22" height="9.84" fill="#005e00"/>
<rect x="532.06" y="619.96" width="10.22" height="9.84" fill="#4c0000"/>
<rect x="541.78" y="619.96" width="10.22" height="9.84" fill="#00aa00"/>
<rect x="551.5" y="619.96" width="9.72" height="9.84" fill="#cc0000"/>
<text x="563.6" y="626.7" font-size="8.3" stroke="#000" stroke-width="0.18">PAR</text>
<rect x="502.9" y="629.3" width="10.22" height="9.84" fill="#003300"/>
<rect x="512.62" y="629.3" width="10.22" height="9.84" fill="#330000"/>
<rect x="522.34" y="629.3" width="10.22" height="9.84" fill="#002a00"/>
<rect x="532.06" y="629.3" width="10.22" height="9.84" fill="#190000"/>
<rect x="541.78" y="629.3" width="10.22" height="9.84" fill="#006600"/>
<rect x="551.5" y="629.3" width="9.72" height="9.84" fill="#880000"/>
<text x="563.6" y="636.04" font-size="8.3" stroke="#000" stroke-width="0.18">Histone-H3</text>
<rect x="502.9" y="638.64" width="10.22" height="9.84" fill="#002200"/>
<rect x="512.62" y="638.64" width="10.22" height="9.84" fill="#220000"/>
<rect x="522.34" y="638.64" width="10.22" height="9.84" fill="#000800"/>
<rect x="532.06" y="638.64" width="10.22" height="9.84" fill="#110000"/>
<rect x="541.78" y="638.64" width="10.22" height="9.84" fill="#004c00"/>
<rect x="551.5" y="638.64" width="9.72" height="9.84" fill="#5e0000"/>
<text x="563.6" y="645.38" font-size="8.3" stroke="#000" stroke-width="0.18">DM-Histone-H3</text>
<rect x="502.9" y="647.98" width="10.22" height="9.84" fill="#002a00"/>
<rect x="512.62" y="647.98" width="10.22" height="9.84" fill="#220000"/>
<rect x="522.34" y="647.98" width="10.22" height="9.84" fill="#001900"/>
<rect x="532.06" y="647.98" width="10.22" height="9.84" fill="#190000"/>
<rect x="541.78" y="647.98" width="10.22" height="9.84" fill="#004c00"/>
<rect x="551.5" y="647.98" width="9.72" height="9.84" fill="#660000"/>
<text x="563.6" y="654.72" font-size="8.3" stroke="#000" stroke-width="0.18">Caspase-7-cleaved</text>
<rect x="502.9" y="657.32" width="10.22" height="9.84" fill="#001100"/>
<rect x="512.62" y="657.32" width="10.22" height="9.84" fill="#190000"/>
<rect x="522.34" y="657.32" width="10.22" height="9.84" fill="#001900"/>
<rect x="532.06" y="657.32" width="10.22" height="9.84" fill="#190000"/>
<rect x="541.78" y="657.32" width="10.22" height="9.84" fill="#004400"/>
<rect x="551.5" y="657.32" width="9.72" height="9.84" fill="#3b0000"/>
<text x="563.6" y="664.06" font-size="8.3" stroke="#000" stroke-width="0.18">HSP27_Ps82</text>
<rect x="502.9" y="666.66" width="10.22" height="9.84" fill="#002200"/>
<rect x="512.62" y="666.66" width="10.22" height="9.84" fill="#220000"/>
<rect x="522.34" y="666.66" width="10.22" height="9.84" fill="#002a00"/>
<rect x="532.06" y="666.66" width="10.22" height="9.84" fill="#220000"/>
<rect x="541.78" y="666.66" width="10.22" height="9.84" fill="#002a00"/>
<rect x="551.5" y="666.66" width="9.72" height="9.84" fill="#190000"/>
<text x="563.6" y="673.4" font-size="8.3" stroke="#000" stroke-width="0.18">G6PD</text>
<rect x="502.9" y="676" width="10.22" height="9.84" fill="#000e00"/>
<rect x="512.62" y="676" width="10.22" height="9.84" fill="#0e0000"/>
<rect x="522.34" y="676" width="10.22" height="9.84" fill="#002200"/>
<rect x="532.06" y="676" width="10.22" height="9.84" fill="#220000"/>
<rect x="541.78" y="676" width="10.22" height="9.84" fill="#002200"/>
<rect x="551.5" y="676" width="9.72" height="9.84" fill="#190000"/>
<text x="563.6" y="682.74" font-size="8.3" stroke="#000" stroke-width="0.18">HSP70</text>
<rect x="502.9" y="685.34" width="10.22" height="9.84" fill="#001100"/>
<rect x="512.62" y="685.34" width="10.22" height="9.84" fill="#0e0000"/>
<rect x="522.34" y="685.34" width="10.22" height="9.84" fill="#001900"/>
<rect x="532.06" y="685.34" width="10.22" height="9.84" fill="#220000"/>
<rect x="541.78" y="685.34" width="10.22" height="9.84" fill="#002200"/>
<rect x="551.5" y="685.34" width="9.72" height="9.84" fill="#140000"/>
<text x="563.6" y="692.08" font-size="8.3" stroke="#000" stroke-width="0.18">SLC1A5</text>
<rect x="502.9" y="694.68" width="10.22" height="9.84" fill="#000e00"/>
<rect x="512.62" y="694.68" width="10.22" height="9.84" fill="#0e0000"/>
<rect x="522.34" y="694.68" width="10.22" height="9.84" fill="#001100"/>
<rect x="532.06" y="694.68" width="10.22" height="9.84" fill="#140000"/>
<rect x="541.78" y="694.68" width="10.22" height="9.84" fill="#002200"/>
<rect x="551.5" y="694.68" width="9.72" height="9.84" fill="#110000"/>
<text x="563.6" y="701.42" font-size="8.3" stroke="#000" stroke-width="0.18">SOD1</text>
<rect x="502.9" y="704.02" width="10.22" height="9.84" fill="#001100"/>
<rect x="512.62" y="704.02" width="10.22" height="9.84" fill="#0e0000"/>
<rect x="522.34" y="704.02" width="10.22" height="9.84" fill="#001100"/>
<rect x="532.06" y="704.02" width="10.22" height="9.84" fill="#110000"/>
<rect x="541.78" y="704.02" width="10.22" height="9.84" fill="#001900"/>
<rect x="551.5" y="704.02" width="9.72" height="9.84" fill="#080000"/>
<text x="563.6" y="710.76" font-size="8.3" stroke="#000" stroke-width="0.18">VEGFR-2</text>
<rect x="502.9" y="713.36" width="10.22" height="9.84" fill="#001900"/>
<rect x="512.62" y="713.36" width="10.22" height="9.84" fill="#190000"/>
<rect x="522.34" y="713.36" width="10.22" height="9.84" fill="#000800"/>
<rect x="532.06" y="713.36" width="10.22" height="9.84" fill="#0e0000"/>
<rect x="541.78" y="713.36" width="10.22" height="9.84" fill="#001400"/>
<rect x="551.5" y="713.36" width="9.72" height="9.84" fill="#140000"/>
<text x="563.6" y="720.1" font-size="8.3" stroke="#000" stroke-width="0.18">U-Histone-H2B</text>
<rect x="502.9" y="722.7" width="10.22" height="9.84" fill="#001400"/>
<rect x="512.62" y="722.7" width="10.22" height="9.84" fill="#110000"/>
<rect x="522.34" y="722.7" width="10.22" height="9.84" fill="#000e00"/>
<rect x="532.06" y="722.7" width="10.22" height="9.84" fill="#0e0000"/>
<rect x="541.78" y="722.7" width="10.22" height="9.84" fill="#000e00"/>
<rect x="551.5" y="722.7" width="9.72" height="9.84" fill="#080000"/>
<text x="563.6" y="729.44" font-size="8.3" stroke="#000" stroke-width="0.18">Annexin-I</text>
<rect x="502.9" y="732.04" width="10.22" height="9.84" fill="#190000"/>
<rect x="512.62" y="732.04" width="10.22" height="9.84" fill="#002200"/>
<rect x="522.34" y="732.04" width="10.22" height="9.84" fill="#220000"/>
<rect x="532.06" y="732.04" width="10.22" height="9.84" fill="#002a00"/>
<rect x="541.78" y="732.04" width="10.22" height="9.84" fill="#000e00"/>
<rect x="551.5" y="732.04" width="9.72" height="9.84" fill="#220000"/>
<text x="563.6" y="738.78" font-size="8.3" stroke="#000" stroke-width="0.18">S6_pS240_S244</text>
<rect x="502.9" y="741.38" width="10.22" height="9.84" fill="#220000"/>
<rect x="512.62" y="741.38" width="10.22" height="9.84" fill="#002a00"/>
<rect x="522.34" y="741.38" width="10.22" height="9.84" fill="#080000"/>
<rect x="532.06" y="741.38" width="10.22" height="9.84" fill="#000800"/>
<rect x="541.78" y="741.38" width="10.22" height="9.84" fill="#009000"/>
<rect x="551.5" y="741.38" width="9.72" height="9.84" fill="#770000"/>
<text x="563.6" y="748.12" font-size="8.3" stroke="#000" stroke-width="0.18">HES1</text>
<rect x="502.9" y="750.72" width="10.22" height="9.84" fill="#0e0000"/>
<rect x="512.62" y="750.72" width="10.22" height="9.84" fill="#000e00"/>
<rect x="522.34" y="750.72" width="10.22" height="9.84" fill="#030000"/>
<rect x="532.06" y="750.72" width="10.22" height="9.84" fill="#000300"/>
<rect x="541.78" y="750.72" width="10.22" height="9.84" fill="#2a0000"/>
<rect x="551.5" y="750.72" width="9.72" height="9.84" fill="#001100"/>
<text x="563.6" y="757.46" font-size="8.3" stroke="#000" stroke-width="0.18">PCNA</text>
<rect x="502.9" y="760.06" width="10.22" height="9.84" fill="#a20000"/>
<rect x="512.62" y="760.06" width="10.22" height="9.84" fill="#030000"/>
<rect x="522.34" y="760.06" width="10.22" height="9.84" fill="#0e0000"/>
<rect x="532.06" y="760.06" width="10.22" height="9.84" fill="#000500"/>
<rect x="541.78" y="760.06" width="10.22" height="9.84" fill="#050000"/>
<rect x="551.5" y="760.06" width="9.72" height="9.84" fill="#000000"/>
<text x="563.6" y="766.8" font-size="8.3" stroke="#000" stroke-width="0.18">PEA-15_pS116</text>
<rect x="502.9" y="769.4" width="10.22" height="9.84" fill="#220000"/>
<rect x="512.62" y="769.4" width="10.22" height="9.84" fill="#002200"/>
<rect x="522.34" y="769.4" width="10.22" height="9.84" fill="#220000"/>
<rect x="532.06" y="769.4" width="10.22" height="9.84" fill="#002200"/>
<rect x="541.78" y="769.4" width="10.22" height="9.84" fill="#000000"/>
<rect x="551.5" y="769.4" width="9.72" height="9.84" fill="#000300"/>
<text x="563.6" y="776.14" font-size="8.3" stroke="#000" stroke-width="0.18">Cyclin-B1</text>
<rect x="502.9" y="778.74" width="10.22" height="9.84" fill="#220000"/>
<rect x="512.62" y="778.74" width="10.22" height="9.84" fill="#002200"/>
<rect x="522.34" y="778.74" width="10.22" height="9.84" fill="#220000"/>
<rect x="532.06" y="778.74" width="10.22" height="9.84" fill="#002200"/>
<rect x="541.78" y="778.74" width="10.22" height="9.84" fill="#000800"/>
<rect x="551.5" y="778.74" width="9.72" height="9.84" fill="#000800"/>
<text x="563.6" y="785.48" font-size="8.3" stroke="#000" stroke-width="0.18">Syk</text>
<rect x="502.9" y="788.08" width="10.22" height="9.84" fill="#220000"/>
<rect x="512.62" y="788.08" width="10.22" height="9.84" fill="#002a00"/>
<rect x="522.34" y="788.08" width="10.22" height="9.84" fill="#2a0000"/>
<rect x="532.06" y="788.08" width="10.22" height="9.84" fill="#003b00"/>
<rect x="541.78" y="788.08" width="10.22" height="9.84" fill="#140000"/>
<rect x="551.5" y="788.08" width="9.72" height="9.84" fill="#002200"/>
<text x="563.6" y="794.82" font-size="8.3" stroke="#000" stroke-width="0.18">PLK1</text>
<rect x="502.9" y="797.42" width="10.22" height="9.84" fill="#190000"/>
<rect x="512.62" y="797.42" width="10.22" height="9.84" fill="#002200"/>
<rect x="522.34" y="797.42" width="10.22" height="9.84" fill="#2a0000"/>
<rect x="532.06" y="797.42" width="10.22" height="9.84" fill="#003300"/>
<rect x="541.78" y="797.42" width="10.22" height="9.84" fill="#140000"/>
<rect x="551.5" y="797.42" width="9.72" height="9.84" fill="#001900"/>
<text x="563.6" y="804.16" font-size="8.3" stroke="#000" stroke-width="0.18">NDRG1-pT346</text>
<rect x="502.9" y="806.76" width="10.22" height="9.84" fill="#2a0000"/>
<rect x="512.62" y="806.76" width="10.22" height="9.84" fill="#002200"/>
<rect x="522.34" y="806.76" width="10.22" height="9.84" fill="#2a0000"/>
<rect x="532.06" y="806.76" width="10.22" height="9.84" fill="#003b00"/>
<rect x="541.78" y="806.76" width="10.22" height="9.84" fill="#440000"/>
<rect x="551.5" y="806.76" width="9.72" height="9.84" fill="#002a00"/>
<text x="563.6" y="813.5" font-size="8.3" stroke="#000" stroke-width="0.18">Rb_pS807-S811</text>
<rect x="502.9" y="816.1" width="10.22" height="9.84" fill="#190000"/>
<rect x="512.62" y="816.1" width="10.22" height="9.84" fill="#002200"/>
<rect x="522.34" y="816.1" width="10.22" height="9.84" fill="#220000"/>
<rect x="532.06" y="816.1" width="10.22" height="9.84" fill="#002200"/>
<rect x="541.78" y="816.1" width="10.22" height="9.84" fill="#220000"/>
<rect x="551.5" y="816.1" width="9.72" height="9.84" fill="#002200"/>
<text x="563.6" y="822.84" font-size="8.3" stroke="#000" stroke-width="0.18">B-Actin</text>
<rect x="502.9" y="825.44" width="10.22" height="9.84" fill="#2a0000"/>
<rect x="512.62" y="825.44" width="10.22" height="9.84" fill="#002200"/>
<rect x="522.34" y="825.44" width="10.22" height="9.84" fill="#190000"/>
<rect x="532.06" y="825.44" width="10.22" height="9.84" fill="#002200"/>
<rect x="541.78" y="825.44" width="10.22" height="9.84" fill="#2a0000"/>
<rect x="551.5" y="825.44" width="9.72" height="9.84" fill="#003300"/>
<text x="563.6" y="832.18" font-size="8.3" stroke="#000" stroke-width="0.18">Rb</text>
<rect x="502.9" y="834.78" width="10.22" height="9.84" fill="#110000"/>
<rect x="512.62" y="834.78" width="10.22" height="9.84" fill="#001900"/>
<rect x="522.34" y="834.78" width="10.22" height="9.84" fill="#190000"/>
<rect x="532.06" y="834.78" width="10.22" height="9.84" fill="#001900"/>
<rect x="541.78" y="834.78" width="10.22" height="9.84" fill="#110000"/>
<rect x="551.5" y="834.78" width="9.72" height="9.84" fill="#002a00"/>
<text x="563.6" y="841.52" font-size="8.3" stroke="#000" stroke-width="0.18">MSH6</text>
<rect x="502.9" y="844.12" width="10.22" height="9.84" fill="#140000"/>
<rect x="512.62" y="844.12" width="10.22" height="9.84" fill="#001900"/>
<rect x="522.34" y="844.12" width="10.22" height="9.84" fill="#110000"/>
<rect x="532.06" y="844.12" width="10.22" height="9.84" fill="#001100"/>
<rect x="541.78" y="844.12" width="10.22" height="9.84" fill="#110000"/>
<rect x="551.5" y="844.12" width="9.72" height="9.84" fill="#001900"/>
<text x="563.6" y="850.86" font-size="8.3" stroke="#000" stroke-width="0.18">PTEN</text>
<rect x="502.9" y="853.46" width="10.22" height="9.34" fill="#0e0000"/>
<rect x="512.62" y="853.46" width="10.22" height="9.34" fill="#001400"/>
<rect x="522.34" y="853.46" width="10.22" height="9.34" fill="#0e0000"/>
<rect x="532.06" y="853.46" width="10.22" height="9.34" fill="#001100"/>
<rect x="541.78" y="853.46" width="10.22" height="9.34" fill="#220000"/>
<rect x="551.5" y="853.46" width="9.72" height="9.34" fill="#002200"/>
<text x="563.6" y="860.2" font-size="8.3" stroke="#000" stroke-width="0.18">Weel</text>
<rect x="561.2" y="610.62" width="1" height="9.34" fill="#20d020"/>
<rect x="561.2" y="750.72" width="0.8" height="9.34" fill="#a01010"/>
<text x="507.76" y="579.06" font-size="8.4" text-anchor="middle" font-weight="bold" stroke="#000" stroke-width="0.3">-</text>
<text x="517.48" y="579.51" font-size="8.4" text-anchor="middle" font-weight="bold" stroke="#000" stroke-width="0.3">+</text>
<text x="527.2" y="579.06" font-size="8.4" text-anchor="middle" font-weight="bold" stroke="#000" stroke-width="0.3">-</text>
<text x="536.92" y="579.51" font-size="8.4" text-anchor="middle" font-weight="bold" stroke="#000" stroke-width="0.3">+</text>
<text x="546.64" y="579.06" font-size="8.4" text-anchor="middle" font-weight="bold" stroke="#000" stroke-width="0.3">-</text>
<text x="556.36" y="579.51" font-size="8.4" text-anchor="middle" font-weight="bold" stroke="#000" stroke-width="0.3">+</text>
<text x="562.7" y="579.14" font-size="8.2" font-weight="bold" stroke="#000" stroke-width="0.15">Auranofin</text>
<text transform="translate(513 564.3) rotate(-90)" y="3.2" font-size="9.0" font-weight="bold" stroke="#000" stroke-width="0.15">Mino</text>
<text transform="translate(531 564.3) rotate(-90)" y="3.2" font-size="9.0" font-weight="bold" stroke="#000" stroke-width="0.15">Z-138</text>
<text transform="translate(550.2 564.3) rotate(-90)" y="3.2" font-size="9.0" font-weight="bold" stroke="#000" stroke-width="0.15">JeKo-1</text>
<path d="M504.2 572.7 V570.5 H519.1 V572.7" stroke="#000" stroke-width="1" fill="none"/>
<path d="M523.3 572.7 V570.5 H538.2 V572.7" stroke="#000" stroke-width="1" fill="none"/>
<path d="M543.2 572.7 V570.5 H558.5 V572.7" stroke="#000" stroke-width="1" fill="none"/>
<rect x="505.8" y="883.6" width="7.69" height="7.5" fill="#1eff3c"/>
<text transform="translate(509.44 882.8) rotate(-90)" y="2.5" font-size="7">-1.50</text>
<rect x="513.09" y="883.6" width="7.69" height="7.5" fill="#00cc22"/>
<text transform="translate(516.73 882.8) rotate(-90)" y="2.5" font-size="7">-1.00</text>
<rect x="520.37" y="883.6" width="7.69" height="7.5" fill="#008000"/>
<text transform="translate(524.01 882.8) rotate(-90)" y="2.5" font-size="7">-0.50</text>
<rect x="527.66" y="883.6" width="7.69" height="7.5" fill="#000000"/>
<text transform="translate(531.3 882.8) rotate(-90)" y="2.5" font-size="7">0.00</text>
<rect x="534.94" y="883.6" width="7.69" height="7.5" fill="#800000"/>
<text transform="translate(538.59 882.8) rotate(-90)" y="2.5" font-size="7">0.50</text>
<rect x="542.23" y="883.6" width="7.69" height="7.5" fill="#cc0000"/>
<text transform="translate(545.87 882.8) rotate(-90)" y="2.5" font-size="7">1.00</text>
<rect x="549.51" y="883.6" width="7.29" height="7.5" fill="#ff0000"/>
<text transform="translate(553.16 882.8) rotate(-90)" y="2.5" font-size="7">1.50</text>
</g>
</svg>
</body></html>
